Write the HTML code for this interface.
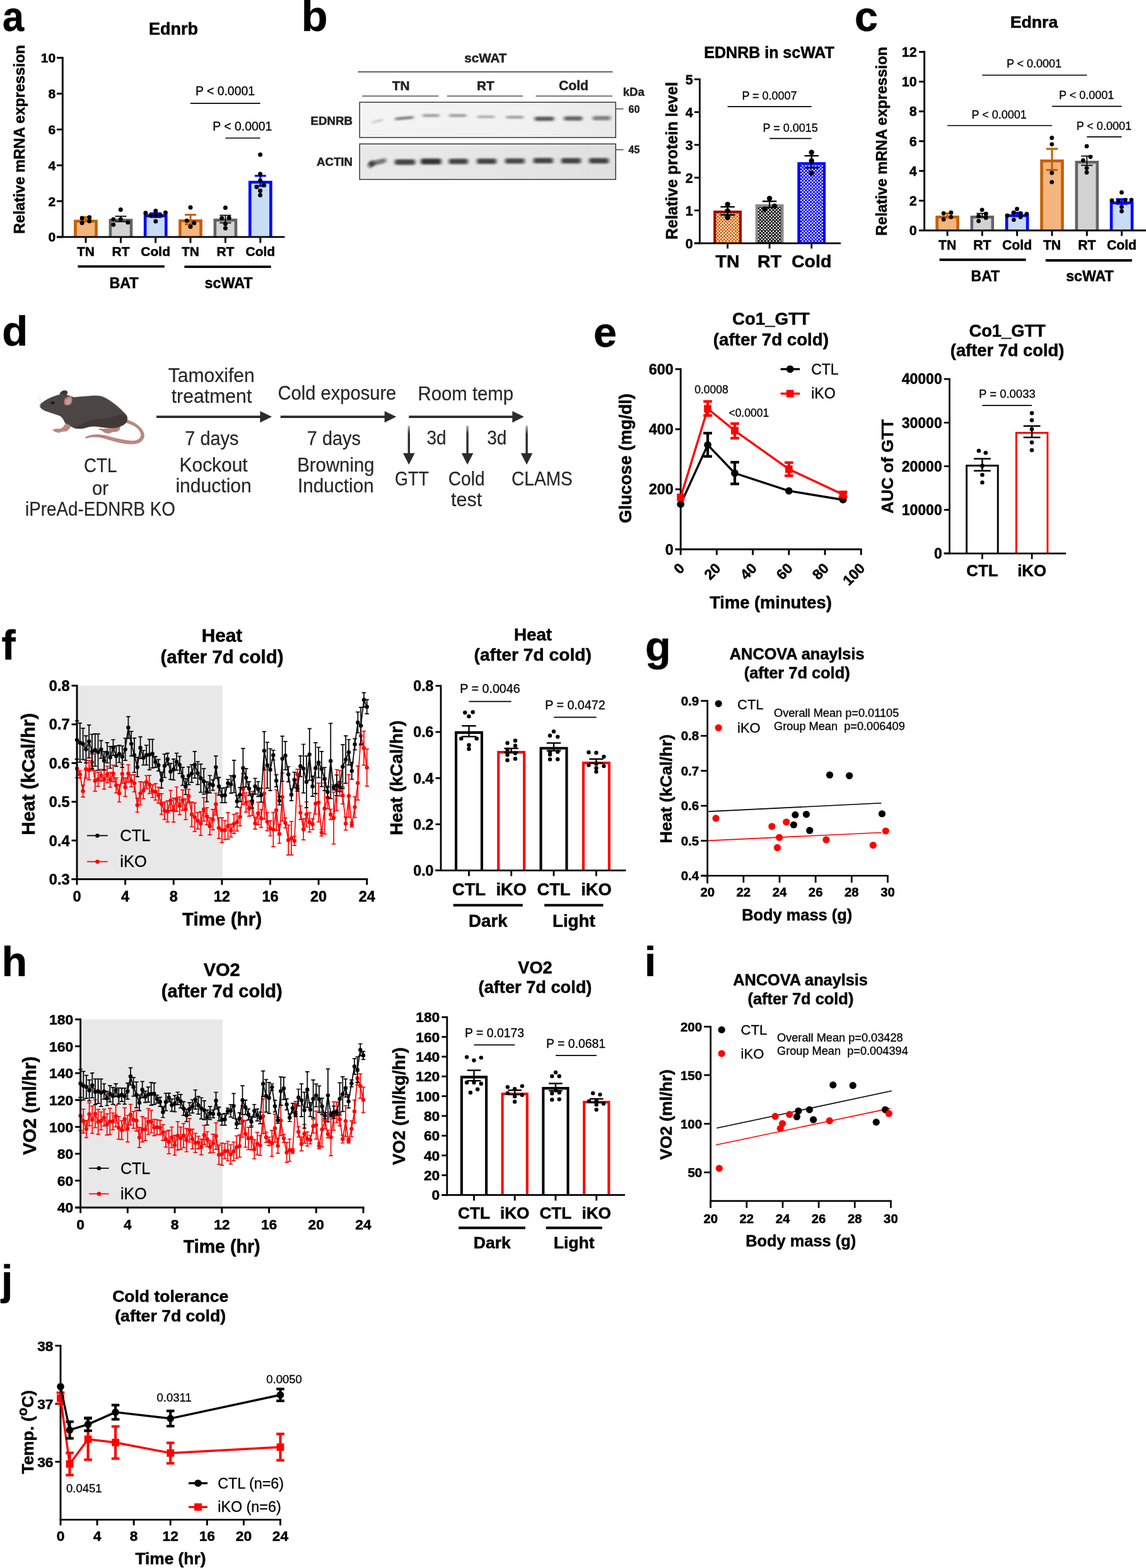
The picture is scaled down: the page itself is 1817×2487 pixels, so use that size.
<!DOCTYPE html>
<html lang="en"><head><meta charset="utf-8"><title>Figure</title>
<style>html,body{margin:0;padding:0;background:#fff}body{width:1817px;height:2487px;overflow:hidden}svg{display:block}text{font-family:"Liberation Sans",sans-serif;stroke:#000;stroke-width:.3px}text.b{font-weight:bold;stroke-width:.5px}text.g{fill:#222;stroke:#222}text.d{fill:#262626;stroke:#262626;stroke-width:.2px}</style></head>
<body>
<svg width="1817" height="2487" viewBox="0 0 1817 2487">
<defs>
<filter id="bl" x="-30%" y="-150%" width="160%" height="400%"><feGaussianBlur stdDeviation="2.4 1.4"/></filter>
<filter id="bl2" x="-30%" y="-150%" width="160%" height="400%"><feGaussianBlur stdDeviation="2.4 1.6"/></filter>
<filter id="sm"><feGaussianBlur stdDeviation="0.5"/></filter>
<linearGradient id="bg1" x1="0" y1="0" x2="1" y2="0"><stop offset="0" stop-color="#f4f4f4"/><stop offset="0.7" stop-color="#f1f1f1"/><stop offset="1" stop-color="#e9e9e9"/></linearGradient>
<linearGradient id="bg2" x1="0" y1="0" x2="1" y2="0"><stop offset="0" stop-color="#e9e9e9"/><stop offset="0.5" stop-color="#e6e6e6"/><stop offset="1" stop-color="#e0e0e0"/></linearGradient>
<clipPath id="c1"><rect x="570.5" y="162.5" width="406" height="55.5"/></clipPath>
<clipPath id="c2"><rect x="570.5" y="228.5" width="406" height="56"/></clipPath>
<linearGradient id="vg" x1="0" y1="0" x2="0" y2="1"><stop offset="0" stop-color="#2b2b2b" stop-opacity="0.35"/><stop offset="0.3" stop-color="#2b2b2b"/></linearGradient>
</defs>
<!-- panel a -->
<text transform="translate(3.9 48.8) scale(0.92 1)" font-size="66.5" class="b">a</text>
<text x="275" y="54.5" font-size="27" class="b" text-anchor="middle">Ednrb</text>
<text transform="translate(38.7 221) rotate(-90)" font-size="23.6" class="b" text-anchor="middle">Relative mRNA expression</text>
<path d="M119.45 375.9V350.7H152.55V375.9" fill="#F3B57D" stroke="#C46000" stroke-width="4.6"/>
<path d="M174.95 375.9V349.3H208.05V375.9" fill="#D2D2D2" stroke="#646464" stroke-width="4.6"/>
<path d="M230.15 375.9V342.4H263.25V375.9" fill="#C8DCF5" stroke="#0404FC" stroke-width="4.6"/>
<path d="M285.45 375.9V350.2H318.55V375.9" fill="#F3B57D" stroke="#C46000" stroke-width="4.6"/>
<path d="M340.85 375.9V349.1H373.95V375.9" fill="#D2D2D2" stroke="#646464" stroke-width="4.6"/>
<path d="M396.25 375.9V289H429.35V375.9" fill="#C8DCF5" stroke="#0404FC" stroke-width="4.6"/>
<line x1="136" y1="344.4" x2="136" y2="348.8" stroke="#C46000" stroke-width="3.1"/>
<line x1="127" y1="344.4" x2="145" y2="344.4" stroke="#C46000" stroke-width="3.1"/>
<line x1="127" y1="348.8" x2="145" y2="348.8" stroke="#C46000" stroke-width="3.1"/>
<line x1="191.5" y1="343" x2="191.5" y2="351.6" stroke="#000" stroke-width="1.7"/>
<line x1="182.5" y1="343" x2="200.5" y2="343" stroke="#000" stroke-width="1.7"/>
<line x1="182.5" y1="351.6" x2="200.5" y2="351.6" stroke="#000" stroke-width="1.7"/>
<line x1="246.7" y1="338.3" x2="246.7" y2="344.3" stroke="#0404FC" stroke-width="3.1"/>
<line x1="237.7" y1="338.3" x2="255.7" y2="338.3" stroke="#0404FC" stroke-width="3.1"/>
<line x1="237.7" y1="344.3" x2="255.7" y2="344.3" stroke="#0404FC" stroke-width="3.1"/>
<line x1="302" y1="340.7" x2="302" y2="355.7" stroke="#C46000" stroke-width="3.1"/>
<line x1="293" y1="340.7" x2="311" y2="340.7" stroke="#C46000" stroke-width="3.1"/>
<line x1="293" y1="355.7" x2="311" y2="355.7" stroke="#C46000" stroke-width="3.1"/>
<line x1="357.4" y1="341.5" x2="357.4" y2="353.5" stroke="#000" stroke-width="1.7"/>
<line x1="348.4" y1="341.5" x2="366.4" y2="341.5" stroke="#000" stroke-width="1.7"/>
<line x1="348.4" y1="353.5" x2="366.4" y2="353.5" stroke="#000" stroke-width="1.7"/>
<line x1="412.8" y1="278.9" x2="412.8" y2="294.9" stroke="#0404FC" stroke-width="3.1"/>
<line x1="403.8" y1="278.9" x2="421.8" y2="278.9" stroke="#0404FC" stroke-width="3.1"/>
<line x1="403.8" y1="294.9" x2="421.8" y2="294.9" stroke="#0404FC" stroke-width="3.1"/>
<line x1="99.3" y1="90.25" x2="99.3" y2="377.35" stroke="#000" stroke-width="2.9"/>
<line x1="90" y1="375.9" x2="99.3" y2="375.9" stroke="#000" stroke-width="2.9"/>
<text x="88.2" y="383.42" font-size="21" class="b" text-anchor="end">0</text>
<line x1="90" y1="319.06" x2="99.3" y2="319.06" stroke="#000" stroke-width="2.9"/>
<text x="88.2" y="326.58" font-size="21" class="b" text-anchor="end">2</text>
<line x1="90" y1="262.22" x2="99.3" y2="262.22" stroke="#000" stroke-width="2.9"/>
<text x="88.2" y="269.74" font-size="21" class="b" text-anchor="end">4</text>
<line x1="90" y1="205.38" x2="99.3" y2="205.38" stroke="#000" stroke-width="2.9"/>
<text x="88.2" y="212.9" font-size="21" class="b" text-anchor="end">6</text>
<line x1="90" y1="148.54" x2="99.3" y2="148.54" stroke="#000" stroke-width="2.9"/>
<text x="88.2" y="156.06" font-size="21" class="b" text-anchor="end">8</text>
<line x1="90" y1="91.7" x2="99.3" y2="91.7" stroke="#000" stroke-width="2.9"/>
<text x="88.2" y="99.22" font-size="21" class="b" text-anchor="end">10</text>
<line x1="89.8" y1="375.9" x2="451.5" y2="375.9" stroke="#000" stroke-width="2.9"/>
<line x1="136" y1="375.9" x2="136" y2="385.4" stroke="#000" stroke-width="2.9"/>
<text x="136" y="406.3" font-size="21" class="b" text-anchor="middle">TN</text>
<line x1="191.5" y1="375.9" x2="191.5" y2="385.4" stroke="#000" stroke-width="2.9"/>
<text x="191.5" y="406.3" font-size="21" class="b" text-anchor="middle">RT</text>
<line x1="246.7" y1="375.9" x2="246.7" y2="385.4" stroke="#000" stroke-width="2.9"/>
<text x="246.7" y="406.3" font-size="21" class="b" text-anchor="middle">Cold</text>
<line x1="302" y1="375.9" x2="302" y2="385.4" stroke="#000" stroke-width="2.9"/>
<text x="302" y="406.3" font-size="21" class="b" text-anchor="middle">TN</text>
<line x1="357.4" y1="375.9" x2="357.4" y2="385.4" stroke="#000" stroke-width="2.9"/>
<text x="357.4" y="406.3" font-size="21" class="b" text-anchor="middle">RT</text>
<line x1="412.8" y1="375.9" x2="412.8" y2="385.4" stroke="#000" stroke-width="2.9"/>
<text x="412.8" y="406.3" font-size="21" class="b" text-anchor="middle">Cold</text>
<circle cx="130.1" cy="346.1" r="3.5"/>
<circle cx="141.7" cy="344.7" r="3.5"/>
<circle cx="130.1" cy="353.4" r="3.5"/>
<circle cx="141.7" cy="350.7" r="3.5"/>
<circle cx="191.3" cy="332.5" r="3.5"/>
<circle cx="179.8" cy="348.1" r="3.5"/>
<circle cx="191.3" cy="347.7" r="3.5"/>
<circle cx="202.8" cy="352.7" r="3.5"/>
<circle cx="179.8" cy="356.2" r="3.5"/>
<circle cx="230.9" cy="337.8" r="3.5"/>
<circle cx="238.7" cy="341.2" r="3.5"/>
<circle cx="246.8" cy="334.6" r="3.5"/>
<circle cx="254.6" cy="341.2" r="3.5"/>
<circle cx="262.4" cy="337.3" r="3.5"/>
<circle cx="246.8" cy="341.5" r="3.5"/>
<circle cx="246.8" cy="351.1" r="3.5"/>
<circle cx="302" cy="329" r="3.5"/>
<circle cx="296.2" cy="350" r="3.5"/>
<circle cx="307.7" cy="353.4" r="3.5"/>
<circle cx="302" cy="359.6" r="3.5"/>
<circle cx="357.4" cy="329.5" r="3.5"/>
<circle cx="351.7" cy="346.1" r="3.5"/>
<circle cx="363.2" cy="345.6" r="3.5"/>
<circle cx="357.4" cy="355" r="3.5"/>
<circle cx="357.4" cy="361.9" r="3.5"/>
<circle cx="412.6" cy="245.3" r="3.5"/>
<circle cx="412.6" cy="276.1" r="3.5"/>
<circle cx="412.6" cy="286.5" r="3.5"/>
<circle cx="406.9" cy="296.6" r="3.5"/>
<circle cx="418.4" cy="293.8" r="3.5"/>
<circle cx="412.6" cy="302.6" r="3.5"/>
<circle cx="412.6" cy="309.5" r="3.5"/>
<line x1="123.5" y1="422.6" x2="260.8" y2="422.6" stroke="#000" stroke-width="3.8"/>
<line x1="292.4" y1="423.2" x2="429.7" y2="423.2" stroke="#000" stroke-width="3.8"/>
<text x="196.5" y="456.5" font-size="23.3" class="b" text-anchor="middle">BAT</text>
<text x="362.5" y="456.5" font-size="23.3" class="b" text-anchor="middle">scWAT</text>
<text x="357" y="151.3" font-size="19.4" text-anchor="middle">P &lt; 0.0001</text>
<line x1="301.8" y1="163.8" x2="412.6" y2="163.8" stroke="#000" stroke-width="1.7"/>
<text x="384.3" y="206.5" font-size="19.4" text-anchor="middle">P &lt; 0.0001</text>
<line x1="357.4" y1="219" x2="412.6" y2="219" stroke="#000" stroke-width="1.7"/>
<!-- panel b -->
<text transform="translate(477.7 48.8) scale(1 1)" font-size="68.5" class="b">b</text>
<text x="769.8" y="98.8" font-size="20.6" class="b g" text-anchor="middle">scWAT</text>
<line x1="567.5" y1="114" x2="971.5" y2="114" stroke="#333" stroke-width="1.4"/>
<text x="635.6" y="142.9" font-size="20.8" class="b g" text-anchor="middle">TN</text>
<text x="769.8" y="142.9" font-size="20.8" class="b g" text-anchor="middle">RT</text>
<text x="909.5" y="142.9" font-size="21.2" class="b g" text-anchor="middle">Cold</text>
<line x1="574.2" y1="152.4" x2="695.3" y2="152.4" stroke="#333" stroke-width="1.4"/>
<line x1="708.8" y1="152.4" x2="829.2" y2="152.4" stroke="#333" stroke-width="1.4"/>
<line x1="849.5" y1="152.4" x2="970.8" y2="152.4" stroke="#333" stroke-width="1.4"/>
<text x="1004.8" y="152.4" font-size="18.5" class="b g" text-anchor="middle">kDa</text>
<text x="559" y="197.8" font-size="18.7" class="b g" text-anchor="end">EDNRB</text>
<text x="559" y="262.5" font-size="18.7" class="b g" text-anchor="end">ACTIN</text>
<rect x="570.2" y="162.2" width="406" height="56" fill="url(#bg1)"/>
<rect x="570.2" y="228.3" width="406" height="56.3" fill="url(#bg2)"/>
<g clip-path="url(#c1)">
<rect x="589.79" y="190.58" width="17.71" height="2.9" rx="0.97" fill="#111" opacity="0.22" filter="url(#bl)" transform="rotate(-14 598.64 192.03)"/>
<rect x="626.53" y="185.19" width="28.98" height="4.19" rx="1.4" fill="#111" opacity="0.55" filter="url(#bl)" transform="rotate(-5 641.02 187.29)"/>
<rect x="670.19" y="181.13" width="26.41" height="4.19" rx="1.4" fill="#111" opacity="0.42" filter="url(#bl)"/>
<rect x="712.08" y="181.29" width="27.37" height="3.86" rx="1.29" fill="#111" opacity="0.42" filter="url(#bl)"/>
<rect x="756.82" y="183.48" width="27.37" height="3.54" rx="1.18" fill="#111" opacity="0.36" filter="url(#bl)"/>
<rect x="802.58" y="184" width="27.37" height="3.86" rx="1.29" fill="#111" opacity="0.42" filter="url(#bl)"/>
<rect x="847.75" y="184.92" width="30.59" height="6.76" rx="2.25" fill="#111" opacity="0.66" filter="url(#bl)"/>
<rect x="894.32" y="184.58" width="28.98" height="6.76" rx="2.25" fill="#111" opacity="0.62" filter="url(#bl)"/>
<rect x="939.73" y="183.91" width="28.34" height="6.76" rx="2.25" fill="#111" opacity="0.48" filter="url(#bl)"/>
</g>
<g clip-path="url(#c2)">
<rect x="586.17" y="253.2" width="26.31" height="7.83" rx="2.61" fill="#111" opacity="0.51" filter="url(#bl2)" transform="rotate(-14 599.32 257.12)"/>
<rect x="625.92" y="252.67" width="32.22" height="8.9" rx="2.97" fill="#111" opacity="0.74" filter="url(#bl2)"/>
<rect x="667.28" y="251.47" width="32.22" height="9.25" rx="3.08" fill="#111" opacity="0.82" filter="url(#bl2)"/>
<rect x="711.65" y="251.83" width="30.25" height="8.54" rx="2.85" fill="#111" opacity="0.74" filter="url(#bl2)"/>
<rect x="756.07" y="251.49" width="30.91" height="8.54" rx="2.85" fill="#111" opacity="0.74" filter="url(#bl2)"/>
<rect x="800.82" y="251.33" width="30.91" height="8.19" rx="2.73" fill="#111" opacity="0.73" filter="url(#bl2)"/>
<rect x="845.9" y="250.47" width="30.91" height="8.54" rx="2.85" fill="#111" opacity="0.74" filter="url(#bl2)"/>
<rect x="889.97" y="250.81" width="30.91" height="8.54" rx="2.85" fill="#111" opacity="0.74" filter="url(#bl2)"/>
<rect x="934.04" y="250.81" width="30.91" height="8.54" rx="2.85" fill="#111" opacity="0.74" filter="url(#bl2)"/>
<rect x="583.39" y="255.76" width="10.17" height="9.49" rx="3.16" fill="#111" opacity="0.6" filter="url(#bl2)" transform="rotate(-45 588.47 260.51)"/>
</g>
<rect x="570.2" y="162.2" width="406" height="56" fill="none" stroke="#2a2a2a" stroke-width="1.4"/>
<rect x="570.2" y="228.3" width="406" height="56.3" fill="none" stroke="#2a2a2a" stroke-width="1.4"/>
<line x1="976.2" y1="172.7" x2="988.5" y2="172.7" stroke="#333" stroke-width="1.3"/>
<line x1="976.2" y1="237.5" x2="988.5" y2="237.5" stroke="#333" stroke-width="1.3"/>
<text x="1005.5" y="178.5" font-size="16" class="b g" text-anchor="middle">60</text>
<text x="1005.5" y="243.2" font-size="16" class="b g" text-anchor="middle">45</text>
<text x="1219.6" y="92" font-size="25" class="b" text-anchor="middle">EDNRB in scWAT</text>
<text transform="translate(1074 255) rotate(-90)" font-size="25" class="b" text-anchor="middle">Relative protein level</text>
<path d="M1133.25 385.8V336.15H1173.95V385.8" fill="#D46400" stroke="#A00000" stroke-width="4.1"/>
<path d="M1135.3 338.2h1.24v1.23h-1.24zM1139.46 338.2h2.25v1.23h-2.25zM1144.64 338.2h2.25v1.23h-2.25zM1149.83 338.2h2.25v1.23h-2.25zM1155.01 338.2h2.25v1.23h-2.25zM1160.18 338.2h2.25v1.23h-2.25zM1165.37 338.2h2.25v1.23h-2.25zM1170.55 338.2h1.36v1.23h-1.36zM1136.88 339.77h2.25v2.25h-2.25zM1142.06 339.77h2.25v2.25h-2.25zM1147.23 339.77h2.25v2.25h-2.25zM1152.41 339.77h2.25v2.25h-2.25zM1157.6 339.77h2.25v2.25h-2.25zM1162.78 339.77h2.25v2.25h-2.25zM1167.95 339.77h2.25v2.25h-2.25zM1135.3 342.36h1.24v2.25h-1.24zM1139.46 342.36h2.25v2.25h-2.25zM1144.64 342.36h2.25v2.25h-2.25zM1149.83 342.36h2.25v2.25h-2.25zM1155.01 342.36h2.25v2.25h-2.25zM1160.18 342.36h2.25v2.25h-2.25zM1165.37 342.36h2.25v2.25h-2.25zM1170.55 342.36h1.36v2.25h-1.36zM1136.88 344.95h2.25v2.25h-2.25zM1142.06 344.95h2.25v2.25h-2.25zM1147.23 344.95h2.25v2.25h-2.25zM1152.41 344.95h2.25v2.25h-2.25zM1157.6 344.95h2.25v2.25h-2.25zM1162.78 344.95h2.25v2.25h-2.25zM1167.95 344.95h2.25v2.25h-2.25zM1135.3 347.54h1.24v2.25h-1.24zM1139.46 347.54h2.25v2.25h-2.25zM1144.64 347.54h2.25v2.25h-2.25zM1149.83 347.54h2.25v2.25h-2.25zM1155.01 347.54h2.25v2.25h-2.25zM1160.18 347.54h2.25v2.25h-2.25zM1165.37 347.54h2.25v2.25h-2.25zM1170.55 347.54h1.36v2.25h-1.36zM1136.88 350.13h2.25v2.25h-2.25zM1142.06 350.13h2.25v2.25h-2.25zM1147.23 350.13h2.25v2.25h-2.25zM1152.41 350.13h2.25v2.25h-2.25zM1157.6 350.13h2.25v2.25h-2.25zM1162.78 350.13h2.25v2.25h-2.25zM1167.95 350.13h2.25v2.25h-2.25zM1135.3 352.72h1.24v2.25h-1.24zM1139.46 352.72h2.25v2.25h-2.25zM1144.64 352.72h2.25v2.25h-2.25zM1149.83 352.72h2.25v2.25h-2.25zM1155.01 352.72h2.25v2.25h-2.25zM1160.18 352.72h2.25v2.25h-2.25zM1165.37 352.72h2.25v2.25h-2.25zM1170.55 352.72h1.36v2.25h-1.36zM1136.88 355.31h2.25v2.25h-2.25zM1142.06 355.31h2.25v2.25h-2.25zM1147.23 355.31h2.25v2.25h-2.25zM1152.41 355.31h2.25v2.25h-2.25zM1157.6 355.31h2.25v2.25h-2.25zM1162.78 355.31h2.25v2.25h-2.25zM1167.95 355.31h2.25v2.25h-2.25zM1135.3 357.9h1.24v2.25h-1.24zM1139.46 357.9h2.25v2.25h-2.25zM1144.64 357.9h2.25v2.25h-2.25zM1149.83 357.9h2.25v2.25h-2.25zM1155.01 357.9h2.25v2.25h-2.25zM1160.18 357.9h2.25v2.25h-2.25zM1165.37 357.9h2.25v2.25h-2.25zM1170.55 357.9h1.36v2.25h-1.36zM1136.88 360.5h2.25v2.25h-2.25zM1142.06 360.5h2.25v2.25h-2.25zM1147.23 360.5h2.25v2.25h-2.25zM1152.41 360.5h2.25v2.25h-2.25zM1157.6 360.5h2.25v2.25h-2.25zM1162.78 360.5h2.25v2.25h-2.25zM1167.95 360.5h2.25v2.25h-2.25zM1135.3 363.08h1.24v2.25h-1.24zM1139.46 363.08h2.25v2.25h-2.25zM1144.64 363.08h2.25v2.25h-2.25zM1149.83 363.08h2.25v2.25h-2.25zM1155.01 363.08h2.25v2.25h-2.25zM1160.18 363.08h2.25v2.25h-2.25zM1165.37 363.08h2.25v2.25h-2.25zM1170.55 363.08h1.36v2.25h-1.36zM1136.88 365.67h2.25v2.25h-2.25zM1142.06 365.67h2.25v2.25h-2.25zM1147.23 365.67h2.25v2.25h-2.25zM1152.41 365.67h2.25v2.25h-2.25zM1157.6 365.67h2.25v2.25h-2.25zM1162.78 365.67h2.25v2.25h-2.25zM1167.95 365.67h2.25v2.25h-2.25zM1135.3 368.26h1.24v2.25h-1.24zM1139.46 368.26h2.25v2.25h-2.25zM1144.64 368.26h2.25v2.25h-2.25zM1149.83 368.26h2.25v2.25h-2.25zM1155.01 368.26h2.25v2.25h-2.25zM1160.18 368.26h2.25v2.25h-2.25zM1165.37 368.26h2.25v2.25h-2.25zM1170.55 368.26h1.36v2.25h-1.36zM1136.88 370.85h2.25v2.25h-2.25zM1142.06 370.85h2.25v2.25h-2.25zM1147.23 370.85h2.25v2.25h-2.25zM1152.41 370.85h2.25v2.25h-2.25zM1157.6 370.85h2.25v2.25h-2.25zM1162.78 370.85h2.25v2.25h-2.25zM1167.95 370.85h2.25v2.25h-2.25zM1135.3 373.44h1.24v2.25h-1.24zM1139.46 373.44h2.25v2.25h-2.25zM1144.64 373.44h2.25v2.25h-2.25zM1149.83 373.44h2.25v2.25h-2.25zM1155.01 373.44h2.25v2.25h-2.25zM1160.18 373.44h2.25v2.25h-2.25zM1165.37 373.44h2.25v2.25h-2.25zM1170.55 373.44h1.36v2.25h-1.36zM1136.88 376.03h2.25v2.25h-2.25zM1142.06 376.03h2.25v2.25h-2.25zM1147.23 376.03h2.25v2.25h-2.25zM1152.41 376.03h2.25v2.25h-2.25zM1157.6 376.03h2.25v2.25h-2.25zM1162.78 376.03h2.25v2.25h-2.25zM1167.95 376.03h2.25v2.25h-2.25zM1135.3 378.62h1.24v2.25h-1.24zM1139.46 378.62h2.25v2.25h-2.25zM1144.64 378.62h2.25v2.25h-2.25zM1149.83 378.62h2.25v2.25h-2.25zM1155.01 378.62h2.25v2.25h-2.25zM1160.18 378.62h2.25v2.25h-2.25zM1165.37 378.62h2.25v2.25h-2.25zM1170.55 378.62h1.36v2.25h-1.36zM1136.88 381.21h2.25v2.25h-2.25zM1142.06 381.21h2.25v2.25h-2.25zM1147.23 381.21h2.25v2.25h-2.25zM1152.41 381.21h2.25v2.25h-2.25zM1157.6 381.21h2.25v2.25h-2.25zM1162.78 381.21h2.25v2.25h-2.25zM1167.95 381.21h2.25v2.25h-2.25zM1135.3 383.8h1.24v0.8h-1.24zM1139.46 383.8h2.25v0.8h-2.25zM1144.64 383.8h2.25v0.8h-2.25zM1149.83 383.8h2.25v0.8h-2.25zM1155.01 383.8h2.25v0.8h-2.25zM1160.18 383.8h2.25v0.8h-2.25zM1165.37 383.8h2.25v0.8h-2.25zM1170.55 383.8h1.36v0.8h-1.36z" fill="#fff"/>
<path d="M1199.75 385.8V326.15H1240.45V385.8" fill="#000" stroke="#8C8C8C" stroke-width="4.1"/>
<path d="M1201.8 328.2h2.08v0.87h-2.08zM1206.81 328.2h2.25v0.87h-2.25zM1211.98 328.2h2.25v0.87h-2.25zM1217.16 328.2h2.25v0.87h-2.25zM1222.35 328.2h2.25v0.87h-2.25zM1227.53 328.2h2.25v0.87h-2.25zM1232.7 328.2h2.25v0.87h-2.25zM1237.88 328.2h0.52v0.87h-0.52zM1204.21 329.41h2.25v2.25h-2.25zM1209.39 329.41h2.25v2.25h-2.25zM1214.58 329.41h2.25v2.25h-2.25zM1219.76 329.41h2.25v2.25h-2.25zM1224.93 329.41h2.25v2.25h-2.25zM1230.12 329.41h2.25v2.25h-2.25zM1235.3 329.41h2.25v2.25h-2.25zM1201.8 332h2.08v2.25h-2.08zM1206.81 332h2.25v2.25h-2.25zM1211.98 332h2.25v2.25h-2.25zM1217.16 332h2.25v2.25h-2.25zM1222.35 332h2.25v2.25h-2.25zM1227.53 332h2.25v2.25h-2.25zM1232.7 332h2.25v2.25h-2.25zM1237.88 332h0.52v2.25h-0.52zM1204.21 334.59h2.25v2.25h-2.25zM1209.39 334.59h2.25v2.25h-2.25zM1214.58 334.59h2.25v2.25h-2.25zM1219.76 334.59h2.25v2.25h-2.25zM1224.93 334.59h2.25v2.25h-2.25zM1230.12 334.59h2.25v2.25h-2.25zM1235.3 334.59h2.25v2.25h-2.25zM1201.8 337.19h2.08v2.25h-2.08zM1206.81 337.19h2.25v2.25h-2.25zM1211.98 337.19h2.25v2.25h-2.25zM1217.16 337.19h2.25v2.25h-2.25zM1222.35 337.19h2.25v2.25h-2.25zM1227.53 337.19h2.25v2.25h-2.25zM1232.7 337.19h2.25v2.25h-2.25zM1237.88 337.19h0.52v2.25h-0.52zM1204.21 339.77h2.25v2.25h-2.25zM1209.39 339.77h2.25v2.25h-2.25zM1214.58 339.77h2.25v2.25h-2.25zM1219.76 339.77h2.25v2.25h-2.25zM1224.93 339.77h2.25v2.25h-2.25zM1230.12 339.77h2.25v2.25h-2.25zM1235.3 339.77h2.25v2.25h-2.25zM1201.8 342.36h2.08v2.25h-2.08zM1206.81 342.36h2.25v2.25h-2.25zM1211.98 342.36h2.25v2.25h-2.25zM1217.16 342.36h2.25v2.25h-2.25zM1222.35 342.36h2.25v2.25h-2.25zM1227.53 342.36h2.25v2.25h-2.25zM1232.7 342.36h2.25v2.25h-2.25zM1237.88 342.36h0.52v2.25h-0.52zM1204.21 344.95h2.25v2.25h-2.25zM1209.39 344.95h2.25v2.25h-2.25zM1214.58 344.95h2.25v2.25h-2.25zM1219.76 344.95h2.25v2.25h-2.25zM1224.93 344.95h2.25v2.25h-2.25zM1230.12 344.95h2.25v2.25h-2.25zM1235.3 344.95h2.25v2.25h-2.25zM1201.8 347.54h2.08v2.25h-2.08zM1206.81 347.54h2.25v2.25h-2.25zM1211.98 347.54h2.25v2.25h-2.25zM1217.16 347.54h2.25v2.25h-2.25zM1222.35 347.54h2.25v2.25h-2.25zM1227.53 347.54h2.25v2.25h-2.25zM1232.7 347.54h2.25v2.25h-2.25zM1237.88 347.54h0.52v2.25h-0.52zM1204.21 350.13h2.25v2.25h-2.25zM1209.39 350.13h2.25v2.25h-2.25zM1214.58 350.13h2.25v2.25h-2.25zM1219.76 350.13h2.25v2.25h-2.25zM1224.93 350.13h2.25v2.25h-2.25zM1230.12 350.13h2.25v2.25h-2.25zM1235.3 350.13h2.25v2.25h-2.25zM1201.8 352.72h2.08v2.25h-2.08zM1206.81 352.72h2.25v2.25h-2.25zM1211.98 352.72h2.25v2.25h-2.25zM1217.16 352.72h2.25v2.25h-2.25zM1222.35 352.72h2.25v2.25h-2.25zM1227.53 352.72h2.25v2.25h-2.25zM1232.7 352.72h2.25v2.25h-2.25zM1237.88 352.72h0.52v2.25h-0.52zM1204.21 355.31h2.25v2.25h-2.25zM1209.39 355.31h2.25v2.25h-2.25zM1214.58 355.31h2.25v2.25h-2.25zM1219.76 355.31h2.25v2.25h-2.25zM1224.93 355.31h2.25v2.25h-2.25zM1230.12 355.31h2.25v2.25h-2.25zM1235.3 355.31h2.25v2.25h-2.25zM1201.8 357.9h2.08v2.25h-2.08zM1206.81 357.9h2.25v2.25h-2.25zM1211.98 357.9h2.25v2.25h-2.25zM1217.16 357.9h2.25v2.25h-2.25zM1222.35 357.9h2.25v2.25h-2.25zM1227.53 357.9h2.25v2.25h-2.25zM1232.7 357.9h2.25v2.25h-2.25zM1237.88 357.9h0.52v2.25h-0.52zM1204.21 360.5h2.25v2.25h-2.25zM1209.39 360.5h2.25v2.25h-2.25zM1214.58 360.5h2.25v2.25h-2.25zM1219.76 360.5h2.25v2.25h-2.25zM1224.93 360.5h2.25v2.25h-2.25zM1230.12 360.5h2.25v2.25h-2.25zM1235.3 360.5h2.25v2.25h-2.25zM1201.8 363.08h2.08v2.25h-2.08zM1206.81 363.08h2.25v2.25h-2.25zM1211.98 363.08h2.25v2.25h-2.25zM1217.16 363.08h2.25v2.25h-2.25zM1222.35 363.08h2.25v2.25h-2.25zM1227.53 363.08h2.25v2.25h-2.25zM1232.7 363.08h2.25v2.25h-2.25zM1237.88 363.08h0.52v2.25h-0.52zM1204.21 365.67h2.25v2.25h-2.25zM1209.39 365.67h2.25v2.25h-2.25zM1214.58 365.67h2.25v2.25h-2.25zM1219.76 365.67h2.25v2.25h-2.25zM1224.93 365.67h2.25v2.25h-2.25zM1230.12 365.67h2.25v2.25h-2.25zM1235.3 365.67h2.25v2.25h-2.25zM1201.8 368.26h2.08v2.25h-2.08zM1206.81 368.26h2.25v2.25h-2.25zM1211.98 368.26h2.25v2.25h-2.25zM1217.16 368.26h2.25v2.25h-2.25zM1222.35 368.26h2.25v2.25h-2.25zM1227.53 368.26h2.25v2.25h-2.25zM1232.7 368.26h2.25v2.25h-2.25zM1237.88 368.26h0.52v2.25h-0.52zM1204.21 370.85h2.25v2.25h-2.25zM1209.39 370.85h2.25v2.25h-2.25zM1214.58 370.85h2.25v2.25h-2.25zM1219.76 370.85h2.25v2.25h-2.25zM1224.93 370.85h2.25v2.25h-2.25zM1230.12 370.85h2.25v2.25h-2.25zM1235.3 370.85h2.25v2.25h-2.25zM1201.8 373.44h2.08v2.25h-2.08zM1206.81 373.44h2.25v2.25h-2.25zM1211.98 373.44h2.25v2.25h-2.25zM1217.16 373.44h2.25v2.25h-2.25zM1222.35 373.44h2.25v2.25h-2.25zM1227.53 373.44h2.25v2.25h-2.25zM1232.7 373.44h2.25v2.25h-2.25zM1237.88 373.44h0.52v2.25h-0.52zM1204.21 376.03h2.25v2.25h-2.25zM1209.39 376.03h2.25v2.25h-2.25zM1214.58 376.03h2.25v2.25h-2.25zM1219.76 376.03h2.25v2.25h-2.25zM1224.93 376.03h2.25v2.25h-2.25zM1230.12 376.03h2.25v2.25h-2.25zM1235.3 376.03h2.25v2.25h-2.25zM1201.8 378.62h2.08v2.25h-2.08zM1206.81 378.62h2.25v2.25h-2.25zM1211.98 378.62h2.25v2.25h-2.25zM1217.16 378.62h2.25v2.25h-2.25zM1222.35 378.62h2.25v2.25h-2.25zM1227.53 378.62h2.25v2.25h-2.25zM1232.7 378.62h2.25v2.25h-2.25zM1237.88 378.62h0.52v2.25h-0.52zM1204.21 381.21h2.25v2.25h-2.25zM1209.39 381.21h2.25v2.25h-2.25zM1214.58 381.21h2.25v2.25h-2.25zM1219.76 381.21h2.25v2.25h-2.25zM1224.93 381.21h2.25v2.25h-2.25zM1230.12 381.21h2.25v2.25h-2.25zM1235.3 381.21h2.25v2.25h-2.25zM1201.8 383.8h2.08v0.8h-2.08zM1206.81 383.8h2.25v0.8h-2.25zM1211.98 383.8h2.25v0.8h-2.25zM1217.16 383.8h2.25v0.8h-2.25zM1222.35 383.8h2.25v0.8h-2.25zM1227.53 383.8h2.25v0.8h-2.25zM1232.7 383.8h2.25v0.8h-2.25zM1237.88 383.8h0.52v0.8h-0.52z" fill="#fff"/>
<path d="M1266.35 385.8V259.25H1307.05V385.8" fill="#0000FF" stroke="#0000FF" stroke-width="4.1"/>
<path d="M1268.96 261.3h2.25v0.44h-2.25zM1274.14 261.3h2.25v0.44h-2.25zM1279.33 261.3h2.25v0.44h-2.25zM1284.51 261.3h2.25v0.44h-2.25zM1289.68 261.3h2.25v0.44h-2.25zM1294.87 261.3h2.25v0.44h-2.25zM1300.05 261.3h2.25v0.44h-2.25zM1271.56 262.07h2.25v2.25h-2.25zM1276.73 262.07h2.25v2.25h-2.25zM1281.91 262.07h2.25v2.25h-2.25zM1287.1 262.07h2.25v2.25h-2.25zM1292.28 262.07h2.25v2.25h-2.25zM1297.45 262.07h2.25v2.25h-2.25zM1302.63 262.07h2.25v2.25h-2.25zM1268.96 264.66h2.25v2.25h-2.25zM1274.14 264.66h2.25v2.25h-2.25zM1279.33 264.66h2.25v2.25h-2.25zM1284.51 264.66h2.25v2.25h-2.25zM1289.68 264.66h2.25v2.25h-2.25zM1294.87 264.66h2.25v2.25h-2.25zM1300.05 264.66h2.25v2.25h-2.25zM1271.56 267.25h2.25v2.25h-2.25zM1276.73 267.25h2.25v2.25h-2.25zM1281.91 267.25h2.25v2.25h-2.25zM1287.1 267.25h2.25v2.25h-2.25zM1292.28 267.25h2.25v2.25h-2.25zM1297.45 267.25h2.25v2.25h-2.25zM1302.63 267.25h2.25v2.25h-2.25zM1268.96 269.84h2.25v2.25h-2.25zM1274.14 269.84h2.25v2.25h-2.25zM1279.33 269.84h2.25v2.25h-2.25zM1284.51 269.84h2.25v2.25h-2.25zM1289.68 269.84h2.25v2.25h-2.25zM1294.87 269.84h2.25v2.25h-2.25zM1300.05 269.84h2.25v2.25h-2.25zM1271.56 272.43h2.25v2.25h-2.25zM1276.73 272.43h2.25v2.25h-2.25zM1281.91 272.43h2.25v2.25h-2.25zM1287.1 272.43h2.25v2.25h-2.25zM1292.28 272.43h2.25v2.25h-2.25zM1297.45 272.43h2.25v2.25h-2.25zM1302.63 272.43h2.25v2.25h-2.25zM1268.96 275.02h2.25v2.25h-2.25zM1274.14 275.02h2.25v2.25h-2.25zM1279.33 275.02h2.25v2.25h-2.25zM1284.51 275.02h2.25v2.25h-2.25zM1289.68 275.02h2.25v2.25h-2.25zM1294.87 275.02h2.25v2.25h-2.25zM1300.05 275.02h2.25v2.25h-2.25zM1271.56 277.62h2.25v2.25h-2.25zM1276.73 277.62h2.25v2.25h-2.25zM1281.91 277.62h2.25v2.25h-2.25zM1287.1 277.62h2.25v2.25h-2.25zM1292.28 277.62h2.25v2.25h-2.25zM1297.45 277.62h2.25v2.25h-2.25zM1302.63 277.62h2.25v2.25h-2.25zM1268.96 280.2h2.25v2.25h-2.25zM1274.14 280.2h2.25v2.25h-2.25zM1279.33 280.2h2.25v2.25h-2.25zM1284.51 280.2h2.25v2.25h-2.25zM1289.68 280.2h2.25v2.25h-2.25zM1294.87 280.2h2.25v2.25h-2.25zM1300.05 280.2h2.25v2.25h-2.25zM1271.56 282.79h2.25v2.25h-2.25zM1276.73 282.79h2.25v2.25h-2.25zM1281.91 282.79h2.25v2.25h-2.25zM1287.1 282.79h2.25v2.25h-2.25zM1292.28 282.79h2.25v2.25h-2.25zM1297.45 282.79h2.25v2.25h-2.25zM1302.63 282.79h2.25v2.25h-2.25zM1268.96 285.38h2.25v2.25h-2.25zM1274.14 285.38h2.25v2.25h-2.25zM1279.33 285.38h2.25v2.25h-2.25zM1284.51 285.38h2.25v2.25h-2.25zM1289.68 285.38h2.25v2.25h-2.25zM1294.87 285.38h2.25v2.25h-2.25zM1300.05 285.38h2.25v2.25h-2.25zM1271.56 287.97h2.25v2.25h-2.25zM1276.73 287.97h2.25v2.25h-2.25zM1281.91 287.97h2.25v2.25h-2.25zM1287.1 287.97h2.25v2.25h-2.25zM1292.28 287.97h2.25v2.25h-2.25zM1297.45 287.97h2.25v2.25h-2.25zM1302.63 287.97h2.25v2.25h-2.25zM1268.96 290.56h2.25v2.25h-2.25zM1274.14 290.56h2.25v2.25h-2.25zM1279.33 290.56h2.25v2.25h-2.25zM1284.51 290.56h2.25v2.25h-2.25zM1289.68 290.56h2.25v2.25h-2.25zM1294.87 290.56h2.25v2.25h-2.25zM1300.05 290.56h2.25v2.25h-2.25zM1271.56 293.15h2.25v2.25h-2.25zM1276.73 293.15h2.25v2.25h-2.25zM1281.91 293.15h2.25v2.25h-2.25zM1287.1 293.15h2.25v2.25h-2.25zM1292.28 293.15h2.25v2.25h-2.25zM1297.45 293.15h2.25v2.25h-2.25zM1302.63 293.15h2.25v2.25h-2.25zM1268.96 295.75h2.25v2.25h-2.25zM1274.14 295.75h2.25v2.25h-2.25zM1279.33 295.75h2.25v2.25h-2.25zM1284.51 295.75h2.25v2.25h-2.25zM1289.68 295.75h2.25v2.25h-2.25zM1294.87 295.75h2.25v2.25h-2.25zM1300.05 295.75h2.25v2.25h-2.25zM1271.56 298.33h2.25v2.25h-2.25zM1276.73 298.33h2.25v2.25h-2.25zM1281.91 298.33h2.25v2.25h-2.25zM1287.1 298.33h2.25v2.25h-2.25zM1292.28 298.33h2.25v2.25h-2.25zM1297.45 298.33h2.25v2.25h-2.25zM1302.63 298.33h2.25v2.25h-2.25zM1268.96 300.92h2.25v2.25h-2.25zM1274.14 300.92h2.25v2.25h-2.25zM1279.33 300.92h2.25v2.25h-2.25zM1284.51 300.92h2.25v2.25h-2.25zM1289.68 300.92h2.25v2.25h-2.25zM1294.87 300.92h2.25v2.25h-2.25zM1300.05 300.92h2.25v2.25h-2.25zM1271.56 303.51h2.25v2.25h-2.25zM1276.73 303.51h2.25v2.25h-2.25zM1281.91 303.51h2.25v2.25h-2.25zM1287.1 303.51h2.25v2.25h-2.25zM1292.28 303.51h2.25v2.25h-2.25zM1297.45 303.51h2.25v2.25h-2.25zM1302.63 303.51h2.25v2.25h-2.25zM1268.96 306.1h2.25v2.25h-2.25zM1274.14 306.1h2.25v2.25h-2.25zM1279.33 306.1h2.25v2.25h-2.25zM1284.51 306.1h2.25v2.25h-2.25zM1289.68 306.1h2.25v2.25h-2.25zM1294.87 306.1h2.25v2.25h-2.25zM1300.05 306.1h2.25v2.25h-2.25zM1271.56 308.69h2.25v2.25h-2.25zM1276.73 308.69h2.25v2.25h-2.25zM1281.91 308.69h2.25v2.25h-2.25zM1287.1 308.69h2.25v2.25h-2.25zM1292.28 308.69h2.25v2.25h-2.25zM1297.45 308.69h2.25v2.25h-2.25zM1302.63 308.69h2.25v2.25h-2.25zM1268.96 311.28h2.25v2.25h-2.25zM1274.14 311.28h2.25v2.25h-2.25zM1279.33 311.28h2.25v2.25h-2.25zM1284.51 311.28h2.25v2.25h-2.25zM1289.68 311.28h2.25v2.25h-2.25zM1294.87 311.28h2.25v2.25h-2.25zM1300.05 311.28h2.25v2.25h-2.25zM1271.56 313.88h2.25v2.25h-2.25zM1276.73 313.88h2.25v2.25h-2.25zM1281.91 313.88h2.25v2.25h-2.25zM1287.1 313.88h2.25v2.25h-2.25zM1292.28 313.88h2.25v2.25h-2.25zM1297.45 313.88h2.25v2.25h-2.25zM1302.63 313.88h2.25v2.25h-2.25zM1268.96 316.46h2.25v2.25h-2.25zM1274.14 316.46h2.25v2.25h-2.25zM1279.33 316.46h2.25v2.25h-2.25zM1284.51 316.46h2.25v2.25h-2.25zM1289.68 316.46h2.25v2.25h-2.25zM1294.87 316.46h2.25v2.25h-2.25zM1300.05 316.46h2.25v2.25h-2.25zM1271.56 319.05h2.25v2.25h-2.25zM1276.73 319.05h2.25v2.25h-2.25zM1281.91 319.05h2.25v2.25h-2.25zM1287.1 319.05h2.25v2.25h-2.25zM1292.28 319.05h2.25v2.25h-2.25zM1297.45 319.05h2.25v2.25h-2.25zM1302.63 319.05h2.25v2.25h-2.25zM1268.96 321.64h2.25v2.25h-2.25zM1274.14 321.64h2.25v2.25h-2.25zM1279.33 321.64h2.25v2.25h-2.25zM1284.51 321.64h2.25v2.25h-2.25zM1289.68 321.64h2.25v2.25h-2.25zM1294.87 321.64h2.25v2.25h-2.25zM1300.05 321.64h2.25v2.25h-2.25zM1271.56 324.23h2.25v2.25h-2.25zM1276.73 324.23h2.25v2.25h-2.25zM1281.91 324.23h2.25v2.25h-2.25zM1287.1 324.23h2.25v2.25h-2.25zM1292.28 324.23h2.25v2.25h-2.25zM1297.45 324.23h2.25v2.25h-2.25zM1302.63 324.23h2.25v2.25h-2.25zM1268.96 326.82h2.25v2.25h-2.25zM1274.14 326.82h2.25v2.25h-2.25zM1279.33 326.82h2.25v2.25h-2.25zM1284.51 326.82h2.25v2.25h-2.25zM1289.68 326.82h2.25v2.25h-2.25zM1294.87 326.82h2.25v2.25h-2.25zM1300.05 326.82h2.25v2.25h-2.25zM1271.56 329.41h2.25v2.25h-2.25zM1276.73 329.41h2.25v2.25h-2.25zM1281.91 329.41h2.25v2.25h-2.25zM1287.1 329.41h2.25v2.25h-2.25zM1292.28 329.41h2.25v2.25h-2.25zM1297.45 329.41h2.25v2.25h-2.25zM1302.63 329.41h2.25v2.25h-2.25zM1268.96 332h2.25v2.25h-2.25zM1274.14 332h2.25v2.25h-2.25zM1279.33 332h2.25v2.25h-2.25zM1284.51 332h2.25v2.25h-2.25zM1289.68 332h2.25v2.25h-2.25zM1294.87 332h2.25v2.25h-2.25zM1300.05 332h2.25v2.25h-2.25zM1271.56 334.59h2.25v2.25h-2.25zM1276.73 334.59h2.25v2.25h-2.25zM1281.91 334.59h2.25v2.25h-2.25zM1287.1 334.59h2.25v2.25h-2.25zM1292.28 334.59h2.25v2.25h-2.25zM1297.45 334.59h2.25v2.25h-2.25zM1302.63 334.59h2.25v2.25h-2.25zM1268.96 337.19h2.25v2.25h-2.25zM1274.14 337.19h2.25v2.25h-2.25zM1279.33 337.19h2.25v2.25h-2.25zM1284.51 337.19h2.25v2.25h-2.25zM1289.68 337.19h2.25v2.25h-2.25zM1294.87 337.19h2.25v2.25h-2.25zM1300.05 337.19h2.25v2.25h-2.25zM1271.56 339.77h2.25v2.25h-2.25zM1276.73 339.77h2.25v2.25h-2.25zM1281.91 339.77h2.25v2.25h-2.25zM1287.1 339.77h2.25v2.25h-2.25zM1292.28 339.77h2.25v2.25h-2.25zM1297.45 339.77h2.25v2.25h-2.25zM1302.63 339.77h2.25v2.25h-2.25zM1268.96 342.36h2.25v2.25h-2.25zM1274.14 342.36h2.25v2.25h-2.25zM1279.33 342.36h2.25v2.25h-2.25zM1284.51 342.36h2.25v2.25h-2.25zM1289.68 342.36h2.25v2.25h-2.25zM1294.87 342.36h2.25v2.25h-2.25zM1300.05 342.36h2.25v2.25h-2.25zM1271.56 344.95h2.25v2.25h-2.25zM1276.73 344.95h2.25v2.25h-2.25zM1281.91 344.95h2.25v2.25h-2.25zM1287.1 344.95h2.25v2.25h-2.25zM1292.28 344.95h2.25v2.25h-2.25zM1297.45 344.95h2.25v2.25h-2.25zM1302.63 344.95h2.25v2.25h-2.25zM1268.96 347.54h2.25v2.25h-2.25zM1274.14 347.54h2.25v2.25h-2.25zM1279.33 347.54h2.25v2.25h-2.25zM1284.51 347.54h2.25v2.25h-2.25zM1289.68 347.54h2.25v2.25h-2.25zM1294.87 347.54h2.25v2.25h-2.25zM1300.05 347.54h2.25v2.25h-2.25zM1271.56 350.13h2.25v2.25h-2.25zM1276.73 350.13h2.25v2.25h-2.25zM1281.91 350.13h2.25v2.25h-2.25zM1287.1 350.13h2.25v2.25h-2.25zM1292.28 350.13h2.25v2.25h-2.25zM1297.45 350.13h2.25v2.25h-2.25zM1302.63 350.13h2.25v2.25h-2.25zM1268.96 352.72h2.25v2.25h-2.25zM1274.14 352.72h2.25v2.25h-2.25zM1279.33 352.72h2.25v2.25h-2.25zM1284.51 352.72h2.25v2.25h-2.25zM1289.68 352.72h2.25v2.25h-2.25zM1294.87 352.72h2.25v2.25h-2.25zM1300.05 352.72h2.25v2.25h-2.25zM1271.56 355.31h2.25v2.25h-2.25zM1276.73 355.31h2.25v2.25h-2.25zM1281.91 355.31h2.25v2.25h-2.25zM1287.1 355.31h2.25v2.25h-2.25zM1292.28 355.31h2.25v2.25h-2.25zM1297.45 355.31h2.25v2.25h-2.25zM1302.63 355.31h2.25v2.25h-2.25zM1268.96 357.9h2.25v2.25h-2.25zM1274.14 357.9h2.25v2.25h-2.25zM1279.33 357.9h2.25v2.25h-2.25zM1284.51 357.9h2.25v2.25h-2.25zM1289.68 357.9h2.25v2.25h-2.25zM1294.87 357.9h2.25v2.25h-2.25zM1300.05 357.9h2.25v2.25h-2.25zM1271.56 360.5h2.25v2.25h-2.25zM1276.73 360.5h2.25v2.25h-2.25zM1281.91 360.5h2.25v2.25h-2.25zM1287.1 360.5h2.25v2.25h-2.25zM1292.28 360.5h2.25v2.25h-2.25zM1297.45 360.5h2.25v2.25h-2.25zM1302.63 360.5h2.25v2.25h-2.25zM1268.96 363.08h2.25v2.25h-2.25zM1274.14 363.08h2.25v2.25h-2.25zM1279.33 363.08h2.25v2.25h-2.25zM1284.51 363.08h2.25v2.25h-2.25zM1289.68 363.08h2.25v2.25h-2.25zM1294.87 363.08h2.25v2.25h-2.25zM1300.05 363.08h2.25v2.25h-2.25zM1271.56 365.67h2.25v2.25h-2.25zM1276.73 365.67h2.25v2.25h-2.25zM1281.91 365.67h2.25v2.25h-2.25zM1287.1 365.67h2.25v2.25h-2.25zM1292.28 365.67h2.25v2.25h-2.25zM1297.45 365.67h2.25v2.25h-2.25zM1302.63 365.67h2.25v2.25h-2.25zM1268.96 368.26h2.25v2.25h-2.25zM1274.14 368.26h2.25v2.25h-2.25zM1279.33 368.26h2.25v2.25h-2.25zM1284.51 368.26h2.25v2.25h-2.25zM1289.68 368.26h2.25v2.25h-2.25zM1294.87 368.26h2.25v2.25h-2.25zM1300.05 368.26h2.25v2.25h-2.25zM1271.56 370.85h2.25v2.25h-2.25zM1276.73 370.85h2.25v2.25h-2.25zM1281.91 370.85h2.25v2.25h-2.25zM1287.1 370.85h2.25v2.25h-2.25zM1292.28 370.85h2.25v2.25h-2.25zM1297.45 370.85h2.25v2.25h-2.25zM1302.63 370.85h2.25v2.25h-2.25zM1268.96 373.44h2.25v2.25h-2.25zM1274.14 373.44h2.25v2.25h-2.25zM1279.33 373.44h2.25v2.25h-2.25zM1284.51 373.44h2.25v2.25h-2.25zM1289.68 373.44h2.25v2.25h-2.25zM1294.87 373.44h2.25v2.25h-2.25zM1300.05 373.44h2.25v2.25h-2.25zM1271.56 376.03h2.25v2.25h-2.25zM1276.73 376.03h2.25v2.25h-2.25zM1281.91 376.03h2.25v2.25h-2.25zM1287.1 376.03h2.25v2.25h-2.25zM1292.28 376.03h2.25v2.25h-2.25zM1297.45 376.03h2.25v2.25h-2.25zM1302.63 376.03h2.25v2.25h-2.25zM1268.96 378.62h2.25v2.25h-2.25zM1274.14 378.62h2.25v2.25h-2.25zM1279.33 378.62h2.25v2.25h-2.25zM1284.51 378.62h2.25v2.25h-2.25zM1289.68 378.62h2.25v2.25h-2.25zM1294.87 378.62h2.25v2.25h-2.25zM1300.05 378.62h2.25v2.25h-2.25zM1271.56 381.21h2.25v2.25h-2.25zM1276.73 381.21h2.25v2.25h-2.25zM1281.91 381.21h2.25v2.25h-2.25zM1287.1 381.21h2.25v2.25h-2.25zM1292.28 381.21h2.25v2.25h-2.25zM1297.45 381.21h2.25v2.25h-2.25zM1302.63 381.21h2.25v2.25h-2.25zM1268.96 383.8h2.25v0.8h-2.25zM1274.14 383.8h2.25v0.8h-2.25zM1279.33 383.8h2.25v0.8h-2.25zM1284.51 383.8h2.25v0.8h-2.25zM1289.68 383.8h2.25v0.8h-2.25zM1294.87 383.8h2.25v0.8h-2.25zM1300.05 383.8h2.25v0.8h-2.25z" fill="#fff"/>
<line x1="1153.6" y1="328.1" x2="1153.6" y2="340.8" stroke="#000" stroke-width="2.3"/>
<line x1="1142.35" y1="328.1" x2="1164.85" y2="328.1" stroke="#000" stroke-width="2.3"/>
<line x1="1142.35" y1="340.8" x2="1164.85" y2="340.8" stroke="#000" stroke-width="2.3"/>
<line x1="1220.1" y1="319.3" x2="1220.1" y2="329.1" stroke="#000" stroke-width="2.3"/>
<line x1="1208.85" y1="319.3" x2="1231.35" y2="319.3" stroke="#000" stroke-width="2.3"/>
<line x1="1208.85" y1="329.1" x2="1231.35" y2="329.1" stroke="#000" stroke-width="2.3"/>
<line x1="1286.7" y1="247.1" x2="1286.7" y2="266.3" stroke="#000" stroke-width="2.3"/>
<line x1="1275.45" y1="247.1" x2="1297.95" y2="247.1" stroke="#000" stroke-width="2.3"/>
<line x1="1275.45" y1="266.3" x2="1297.95" y2="266.3" stroke="#000" stroke-width="2.3"/>
<circle cx="1153.6" cy="324.1" r="4.2"/>
<circle cx="1153.6" cy="334.4" r="4.2"/>
<circle cx="1153.6" cy="345" r="4.2"/>
<circle cx="1220.1" cy="314.7" r="4.2"/>
<circle cx="1212.3" cy="331.7" r="4.2"/>
<circle cx="1228" cy="326.9" r="4.2"/>
<circle cx="1286.7" cy="241.8" r="4.2"/>
<circle cx="1286.7" cy="255" r="4.2"/>
<circle cx="1286.7" cy="274.6" r="4.2"/>
<line x1="1109.4" y1="124.4" x2="1109.4" y2="387.2" stroke="#000" stroke-width="2.8"/>
<line x1="1100.9" y1="385.8" x2="1109.4" y2="385.8" stroke="#000" stroke-width="2.8"/>
<text x="1098.7" y="393.5" font-size="21.5" class="b" text-anchor="end">0</text>
<line x1="1100.9" y1="333.8" x2="1109.4" y2="333.8" stroke="#000" stroke-width="2.8"/>
<text x="1098.7" y="341.5" font-size="21.5" class="b" text-anchor="end">1</text>
<line x1="1100.9" y1="281.8" x2="1109.4" y2="281.8" stroke="#000" stroke-width="2.8"/>
<text x="1098.7" y="289.5" font-size="21.5" class="b" text-anchor="end">2</text>
<line x1="1100.9" y1="229.8" x2="1109.4" y2="229.8" stroke="#000" stroke-width="2.8"/>
<text x="1098.7" y="237.5" font-size="21.5" class="b" text-anchor="end">3</text>
<line x1="1100.9" y1="177.8" x2="1109.4" y2="177.8" stroke="#000" stroke-width="2.8"/>
<text x="1098.7" y="185.5" font-size="21.5" class="b" text-anchor="end">4</text>
<line x1="1100.9" y1="125.8" x2="1109.4" y2="125.8" stroke="#000" stroke-width="2.8"/>
<text x="1098.7" y="133.5" font-size="21.5" class="b" text-anchor="end">5</text>
<line x1="1100.9" y1="385.8" x2="1333" y2="385.8" stroke="#000" stroke-width="2.7"/>
<line x1="1153.6" y1="385.8" x2="1153.6" y2="394.3" stroke="#000" stroke-width="2.7"/>
<text x="1153.6" y="423.8" font-size="28.5" class="b" text-anchor="middle">TN</text>
<line x1="1220.1" y1="385.8" x2="1220.1" y2="394.3" stroke="#000" stroke-width="2.7"/>
<text x="1220.1" y="423.8" font-size="28.5" class="b" text-anchor="middle">RT</text>
<line x1="1286.7" y1="385.8" x2="1286.7" y2="394.3" stroke="#000" stroke-width="2.7"/>
<text x="1286.7" y="423.8" font-size="28.5" class="b" text-anchor="middle">Cold</text>
<text x="1220" y="158" font-size="18" text-anchor="middle">P = 0.0007</text>
<line x1="1153.6" y1="169.1" x2="1286.7" y2="169.1" stroke="#000" stroke-width="1.6"/>
<text x="1253.2" y="209" font-size="18" text-anchor="middle">P = 0.0015</text>
<line x1="1220.1" y1="219.6" x2="1286.7" y2="219.6" stroke="#000" stroke-width="1.6"/>
<!-- panel c -->
<text x="1355" y="49" font-size="66.5" class="b">c</text>
<text x="1639.5" y="43.7" font-size="26.7" class="b" text-anchor="middle">Ednra</text>
<text transform="translate(1405.5 224) rotate(-90)" font-size="23.6" class="b" text-anchor="middle">Relative mRNA expression</text>
<path d="M1485.6 365.5V344.2H1518.6V365.5" fill="#F3B57D" stroke="#C46000" stroke-width="4.6"/>
<path d="M1540.8 365.5V344.2H1573.8V365.5" fill="#D2D2D2" stroke="#646464" stroke-width="4.6"/>
<path d="M1596.1 365.5V342H1629.1V365.5" fill="#C8DCF5" stroke="#0404FC" stroke-width="4.6"/>
<path d="M1651.5 365.5V255.2H1684.5V365.5" fill="#F3B57D" stroke="#C46000" stroke-width="4.6"/>
<path d="M1706.8 365.5V257.3H1739.8V365.5" fill="#D2D2D2" stroke="#646464" stroke-width="4.6"/>
<path d="M1762 365.5V321.7H1795V365.5" fill="#C8DCF5" stroke="#0404FC" stroke-width="4.6"/>
<line x1="1502.1" y1="338.5" x2="1502.1" y2="344.5" stroke="#C46000" stroke-width="3.1"/>
<line x1="1492.95" y1="338.5" x2="1511.25" y2="338.5" stroke="#C46000" stroke-width="3.1"/>
<line x1="1492.95" y1="344.5" x2="1511.25" y2="344.5" stroke="#C46000" stroke-width="3.1"/>
<line x1="1557.3" y1="338.5" x2="1557.3" y2="344.3" stroke="#000" stroke-width="1.7"/>
<line x1="1548.15" y1="338.5" x2="1566.45" y2="338.5" stroke="#000" stroke-width="1.7"/>
<line x1="1548.15" y1="344.3" x2="1566.45" y2="344.3" stroke="#000" stroke-width="1.7"/>
<line x1="1612.6" y1="337.6" x2="1612.6" y2="342.8" stroke="#0404FC" stroke-width="3.1"/>
<line x1="1603.45" y1="337.6" x2="1621.75" y2="337.6" stroke="#0404FC" stroke-width="3.1"/>
<line x1="1603.45" y1="342.8" x2="1621.75" y2="342.8" stroke="#0404FC" stroke-width="3.1"/>
<line x1="1668" y1="236.1" x2="1668" y2="269.6" stroke="#C46000" stroke-width="3.1"/>
<line x1="1658.85" y1="236.1" x2="1677.15" y2="236.1" stroke="#C46000" stroke-width="3.1"/>
<line x1="1658.85" y1="269.6" x2="1677.15" y2="269.6" stroke="#C46000" stroke-width="3.1"/>
<line x1="1723.3" y1="247.5" x2="1723.3" y2="262.3" stroke="#000" stroke-width="1.7"/>
<line x1="1714.15" y1="247.5" x2="1732.45" y2="247.5" stroke="#000" stroke-width="1.7"/>
<line x1="1714.15" y1="262.3" x2="1732.45" y2="262.3" stroke="#000" stroke-width="1.7"/>
<line x1="1778.5" y1="315.9" x2="1778.5" y2="323.3" stroke="#0404FC" stroke-width="3.1"/>
<line x1="1769.35" y1="315.9" x2="1787.65" y2="315.9" stroke="#0404FC" stroke-width="3.1"/>
<line x1="1769.35" y1="323.3" x2="1787.65" y2="323.3" stroke="#0404FC" stroke-width="3.1"/>
<line x1="1465.6" y1="80.85" x2="1465.6" y2="366.95" stroke="#000" stroke-width="2.9"/>
<line x1="1457.1" y1="365.5" x2="1465.6" y2="365.5" stroke="#000" stroke-width="2.9"/>
<text x="1453.6" y="373.2" font-size="21.5" class="b" text-anchor="end">0</text>
<line x1="1457.1" y1="318.3" x2="1465.6" y2="318.3" stroke="#000" stroke-width="2.9"/>
<text x="1453.6" y="326" font-size="21.5" class="b" text-anchor="end">2</text>
<line x1="1457.1" y1="271.1" x2="1465.6" y2="271.1" stroke="#000" stroke-width="2.9"/>
<text x="1453.6" y="278.8" font-size="21.5" class="b" text-anchor="end">4</text>
<line x1="1457.1" y1="223.9" x2="1465.6" y2="223.9" stroke="#000" stroke-width="2.9"/>
<text x="1453.6" y="231.6" font-size="21.5" class="b" text-anchor="end">6</text>
<line x1="1457.1" y1="176.7" x2="1465.6" y2="176.7" stroke="#000" stroke-width="2.9"/>
<text x="1453.6" y="184.4" font-size="21.5" class="b" text-anchor="end">8</text>
<line x1="1457.1" y1="129.5" x2="1465.6" y2="129.5" stroke="#000" stroke-width="2.9"/>
<text x="1453.6" y="137.2" font-size="21.5" class="b" text-anchor="end">10</text>
<line x1="1457.1" y1="82.3" x2="1465.6" y2="82.3" stroke="#000" stroke-width="2.9"/>
<text x="1453.6" y="90" font-size="21.5" class="b" text-anchor="end">12</text>
<line x1="1457.1" y1="365.5" x2="1817" y2="365.5" stroke="#000" stroke-width="2.9"/>
<line x1="1502.1" y1="365.5" x2="1502.1" y2="374.3" stroke="#000" stroke-width="2.9"/>
<text x="1502.1" y="396.2" font-size="21.2" class="b" text-anchor="middle">TN</text>
<line x1="1557.3" y1="365.5" x2="1557.3" y2="374.3" stroke="#000" stroke-width="2.9"/>
<text x="1557.3" y="396.2" font-size="21.2" class="b" text-anchor="middle">RT</text>
<line x1="1612.6" y1="365.5" x2="1612.6" y2="374.3" stroke="#000" stroke-width="2.9"/>
<text x="1612.6" y="396.2" font-size="21.2" class="b" text-anchor="middle">Cold</text>
<line x1="1668" y1="365.5" x2="1668" y2="374.3" stroke="#000" stroke-width="2.9"/>
<text x="1668" y="396.2" font-size="21.2" class="b" text-anchor="middle">TN</text>
<line x1="1723.3" y1="365.5" x2="1723.3" y2="374.3" stroke="#000" stroke-width="2.9"/>
<text x="1723.3" y="396.2" font-size="21.2" class="b" text-anchor="middle">RT</text>
<line x1="1778.5" y1="365.5" x2="1778.5" y2="374.3" stroke="#000" stroke-width="2.9"/>
<text x="1778.5" y="396.2" font-size="21.2" class="b" text-anchor="middle">Cold</text>
<circle cx="1496.1" cy="338.3" r="3.4"/>
<circle cx="1507.8" cy="337.2" r="3.4"/>
<circle cx="1496.1" cy="347.9" r="3.4"/>
<circle cx="1507.8" cy="344.2" r="3.4"/>
<circle cx="1557.1" cy="332.8" r="3.4"/>
<circle cx="1551.6" cy="342.6" r="3.4"/>
<circle cx="1563.2" cy="339.2" r="3.4"/>
<circle cx="1563.2" cy="345.4" r="3.4"/>
<circle cx="1551.6" cy="350.6" r="3.4"/>
<circle cx="1612.5" cy="331.4" r="3.4"/>
<circle cx="1607.3" cy="337.2" r="3.4"/>
<circle cx="1618" cy="338.3" r="3.4"/>
<circle cx="1597" cy="341.9" r="3.4"/>
<circle cx="1627.8" cy="339.4" r="3.4"/>
<circle cx="1618" cy="344.2" r="3.4"/>
<circle cx="1607.3" cy="348.6" r="3.4"/>
<circle cx="1667.7" cy="218.7" r="3.4"/>
<circle cx="1667.7" cy="228.8" r="3.4"/>
<circle cx="1667.7" cy="274.2" r="3.4"/>
<circle cx="1667.7" cy="288.8" r="3.4"/>
<circle cx="1723" cy="231.9" r="3.4"/>
<circle cx="1728.9" cy="248.8" r="3.4"/>
<circle cx="1717.3" cy="254.3" r="3.4"/>
<circle cx="1723" cy="266.6" r="3.4"/>
<circle cx="1723" cy="273.5" r="3.4"/>
<circle cx="1778.4" cy="305.2" r="3.4"/>
<circle cx="1762.9" cy="318" r="3.4"/>
<circle cx="1773.2" cy="318.7" r="3.4"/>
<circle cx="1783.9" cy="317.5" r="3.4"/>
<circle cx="1793.9" cy="317.1" r="3.4"/>
<circle cx="1778.4" cy="328.3" r="3.4"/>
<circle cx="1778.4" cy="335.1" r="3.4"/>
<line x1="1489.6" y1="412" x2="1626.6" y2="412" stroke="#000" stroke-width="3.8"/>
<line x1="1657.8" y1="413" x2="1794.8" y2="413" stroke="#000" stroke-width="3.8"/>
<text x="1562.3" y="446" font-size="23" class="b" text-anchor="middle">BAT</text>
<text x="1728" y="446" font-size="23.2" class="b" text-anchor="middle">scWAT</text>
<text x="1639.5" y="107.3" font-size="18" text-anchor="middle">P &lt; 0.0001</text>
<line x1="1557.3" y1="119.2" x2="1723.3" y2="119.2" stroke="#000" stroke-width="1.6"/>
<text x="1722.6" y="157.3" font-size="18" text-anchor="middle">P &lt; 0.0001</text>
<line x1="1668" y1="168.6" x2="1778.5" y2="168.6" stroke="#000" stroke-width="1.6"/>
<text x="1584.1" y="188" font-size="18" text-anchor="middle">P &lt; 0.0001</text>
<line x1="1502.1" y1="199.3" x2="1668" y2="199.3" stroke="#000" stroke-width="1.6"/>
<text x="1750.3" y="206.2" font-size="18" text-anchor="middle">P &lt; 0.0001</text>
<line x1="1723.3" y1="217.1" x2="1778.5" y2="217.1" stroke="#000" stroke-width="1.6"/>
<!-- panel d -->
<text x="3.3" y="548.4" font-size="67.2" class="b">d</text>
<g transform="translate(40 600) scale(0.13317)">
<path d="M1205 490C1290 515 1402 578 1418 670C1424 732 1372 779 1290 784C1200 789 1080 760 960 722C880 697 790 690 728 716C716 720 712 704 720 698C780 664 880 660 968 684C1080 716 1200 744 1284 743C1342 741 1380 712 1376 668C1366 604 1288 552 1190 530Z" fill="#B9847C"/>
<path d="M1230 520C1300 552 1386 606 1398 670C1402 724 1356 762 1288 765C1200 768 1080 738 962 702" fill="none" stroke="#C9958E" stroke-width="7"/>
<path d="M870 598L930 600L1010 596L1070 586L1100 566L1135 582L1122 615L1092 636L1042 640L992 658L942 648L915 625L880 612Z" fill="#B5837B"/>
<path d="M478 540L525 552L548 575L522 606L492 632L442 636L400 650L350 637L322 614L362 600L420 600L452 578Z" fill="#B98A83"/>
<path d="M408 192C415 165 440 145 470 145C495 145 510 160 503 180L490 200Z" fill="#3d3836"/>
<path d="M172 322C178 305 200 288 260 250C310 225 370 200 420 192C450 190 490 195 520 205L580 225C620 220 690 214 760 210C830 205 880 205 920 218C980 240 1040 285 1100 335C1150 380 1195 420 1210 450C1225 480 1215 515 1190 540C1165 562 1130 578 1080 590C1020 595 930 588 860 576C820 570 780 572 740 583C700 596 660 605 620 600C580 596 550 580 530 560C510 548 490 545 475 535C462 505 445 472 420 452C385 436 330 420 270 400C230 388 195 368 178 345Z" fill="#4B4644"/>
<path d="M560 585C640 570 720 520 800 490C900 470 980 490 1040 460C1100 440 1150 420 1205 440C1225 480 1215 515 1190 540C1165 562 1130 578 1080 590C1020 595 930 588 860 576C820 570 780 572 740 583C700 596 660 605 620 600Z" fill="#3F3A38"/>
<path d="M470 245C490 222 520 210 545 215C565 225 562 270 548 300C530 322 500 328 478 320C458 310 460 275 470 245Z" fill="#B8827C"/>
<path d="M492 255C505 240 528 235 540 245C545 265 538 290 525 305C510 312 495 308 488 295C485 280 486 268 492 255Z" fill="#CE9C96"/>
<ellipse cx="326" cy="292" rx="24" ry="17" fill="#241c1b"/>
<circle cx="178" cy="322" r="9" fill="#C48F89"/>
<path d="M200 285L150 212M198 280L172 208M195 290L140 238" fill="none" stroke="#cfcfcf" stroke-width="3"/>
</g>
<text x="335.2" y="606.4" font-size="30.8" class="d" text-anchor="middle" textLength="137" lengthAdjust="spacingAndGlyphs">Tamoxifen</text>
<text x="335.5" y="639" font-size="30.8" class="d" text-anchor="middle" textLength="127.6" lengthAdjust="spacingAndGlyphs">treatment</text>
<text x="534.4" y="634.2" font-size="30.8" class="d" text-anchor="middle" textLength="187.8" lengthAdjust="spacingAndGlyphs">Cold exposure</text>
<text x="738.3" y="634.6" font-size="30.8" class="d" text-anchor="middle" textLength="151.7" lengthAdjust="spacingAndGlyphs">Room temp</text>
<text x="335.9" y="705.7" font-size="30.8" class="d" text-anchor="middle" textLength="85.1" lengthAdjust="spacingAndGlyphs">7 days</text>
<text x="529.4" y="705.7" font-size="30.8" class="d" text-anchor="middle" textLength="85.1" lengthAdjust="spacingAndGlyphs">7 days</text>
<text x="692" y="705" font-size="30.8" class="d" text-anchor="middle" textLength="31.2" lengthAdjust="spacingAndGlyphs">3d</text>
<text x="787.8" y="705" font-size="30.8" class="d" text-anchor="middle" textLength="31.2" lengthAdjust="spacingAndGlyphs">3d</text>
<text x="159.2" y="749.1" font-size="30.8" class="d" text-anchor="middle" textLength="52.4" lengthAdjust="spacingAndGlyphs">CTL</text>
<text x="159" y="784.6" font-size="30.8" class="d" text-anchor="middle" textLength="26" lengthAdjust="spacingAndGlyphs">or</text>
<text x="159" y="818" font-size="30.8" class="d" text-anchor="middle" textLength="237.9" lengthAdjust="spacingAndGlyphs">iPreAd-EDNRB KO</text>
<text x="338.6" y="747.8" font-size="30.8" class="d" text-anchor="middle" textLength="108" lengthAdjust="spacingAndGlyphs">Kockout</text>
<text x="338.6" y="781.4" font-size="30.8" class="d" text-anchor="middle" textLength="120.4" lengthAdjust="spacingAndGlyphs">induction</text>
<text x="532.4" y="747.8" font-size="30.8" class="d" text-anchor="middle" textLength="122.4" lengthAdjust="spacingAndGlyphs">Browning</text>
<text x="532.4" y="781.4" font-size="30.8" class="d" text-anchor="middle" textLength="120.8" lengthAdjust="spacingAndGlyphs">Induction</text>
<text x="653" y="769.8" font-size="30.8" class="d" text-anchor="middle" textLength="54" lengthAdjust="spacingAndGlyphs">GTT</text>
<text x="739.7" y="769.8" font-size="30.8" class="d" text-anchor="middle" textLength="57.8" lengthAdjust="spacingAndGlyphs">Cold</text>
<text x="739.6" y="803" font-size="30.8" class="d" text-anchor="middle" textLength="49.2" lengthAdjust="spacingAndGlyphs">test</text>
<text x="859.4" y="769.8" font-size="30.8" class="d" text-anchor="middle" textLength="96.8" lengthAdjust="spacingAndGlyphs">CLAMS</text>
<line x1="248.1" y1="661.1" x2="414" y2="661.1" stroke="#2b2b2b" stroke-width="3.7"/>
<path d="M431 661.1L412.4 651.9L412.4 670.3Z" fill="#2b2b2b"/>
<line x1="444.7" y1="661.1" x2="611.3" y2="661.1" stroke="#2b2b2b" stroke-width="3.7"/>
<path d="M628.3 661.1L609.7 651.9L609.7 670.3Z" fill="#2b2b2b"/>
<line x1="648.3" y1="661.1" x2="813.9" y2="661.1" stroke="#2b2b2b" stroke-width="3.7"/>
<path d="M830.9 661.1L812.3 651.9L812.3 670.3Z" fill="#2b2b2b"/>
<rect x="646.6" y="675" width="3.4" height="45" fill="url(#vg)"/>
<path d="M648.3 737L639 718.7L657.6 718.7Z" fill="#2b2b2b"/>
<rect x="739.4" y="675" width="3.4" height="45" fill="url(#vg)"/>
<path d="M741.1 737L731.8 718.7L750.4 718.7Z" fill="#2b2b2b"/>
<rect x="833.4" y="675" width="3.4" height="45" fill="url(#vg)"/>
<path d="M835.1 737L825.8 718.7L844.4 718.7Z" fill="#2b2b2b"/>
<!-- panel e -->
<text x="941" y="549.5" font-size="66.5" class="b">e</text>
<text x="1222.4" y="515" font-size="27.6" class="b" text-anchor="middle">Co1_GTT</text>
<text x="1222.4" y="547.6" font-size="27.7" class="b" text-anchor="middle">(after 7d cold)</text>
<text transform="translate(1001.2 727) rotate(-90)" font-size="27.2" class="b" text-anchor="middle">Glucose (mg/dl)</text>
<line x1="1079.2" y1="584.07" x2="1079.2" y2="872.75" stroke="#000" stroke-width="2.9"/>
<line x1="1070.7" y1="871.3" x2="1079.2" y2="871.3" stroke="#000" stroke-width="2.9"/>
<text x="1067.7" y="879.68" font-size="23.4" class="b" text-anchor="end">0</text>
<line x1="1070.7" y1="776.04" x2="1079.2" y2="776.04" stroke="#000" stroke-width="2.9"/>
<text x="1067.7" y="784.42" font-size="23.4" class="b" text-anchor="end">200</text>
<line x1="1070.7" y1="680.78" x2="1079.2" y2="680.78" stroke="#000" stroke-width="2.9"/>
<text x="1067.7" y="689.16" font-size="23.4" class="b" text-anchor="end">400</text>
<line x1="1070.7" y1="585.52" x2="1079.2" y2="585.52" stroke="#000" stroke-width="2.9"/>
<text x="1067.7" y="593.9" font-size="23.4" class="b" text-anchor="end">600</text>
<line x1="1070.7" y1="871.3" x2="1366.5" y2="871.3" stroke="#000" stroke-width="2.9"/>
<line x1="1079.2" y1="871.3" x2="1079.2" y2="880.3" stroke="#000" stroke-width="2.9"/>
<text transform="translate(1086.8 902.8) rotate(-45)" font-size="23" class="b" text-anchor="end">0</text>
<line x1="1136.4" y1="871.3" x2="1136.4" y2="880.3" stroke="#000" stroke-width="2.9"/>
<text transform="translate(1144 902.8) rotate(-45)" font-size="23" class="b" text-anchor="end">20</text>
<line x1="1193.6" y1="871.3" x2="1193.6" y2="880.3" stroke="#000" stroke-width="2.9"/>
<text transform="translate(1201.2 902.8) rotate(-45)" font-size="23" class="b" text-anchor="end">40</text>
<line x1="1250.8" y1="871.3" x2="1250.8" y2="880.3" stroke="#000" stroke-width="2.9"/>
<text transform="translate(1258.4 902.8) rotate(-45)" font-size="23" class="b" text-anchor="end">60</text>
<line x1="1308" y1="871.3" x2="1308" y2="880.3" stroke="#000" stroke-width="2.9"/>
<text transform="translate(1315.6 902.8) rotate(-45)" font-size="23" class="b" text-anchor="end">80</text>
<line x1="1365.2" y1="871.3" x2="1365.2" y2="880.3" stroke="#000" stroke-width="2.9"/>
<text transform="translate(1372.8 902.8) rotate(-45)" font-size="23" class="b" text-anchor="end">100</text>
<text x="1222" y="965" font-size="27.3" class="b" text-anchor="middle">Time (minutes)</text>
<line x1="1122.1" y1="687" x2="1122.1" y2="723.9" stroke="#000" stroke-width="4.2"/>
<line x1="1115.25" y1="687" x2="1128.95" y2="687" stroke="#000" stroke-width="4.2"/>
<line x1="1115.25" y1="723.9" x2="1128.95" y2="723.9" stroke="#000" stroke-width="4.2"/>
<line x1="1165" y1="733.2" x2="1165" y2="767.5" stroke="#000" stroke-width="4.2"/>
<line x1="1158.15" y1="733.2" x2="1171.85" y2="733.2" stroke="#000" stroke-width="4.2"/>
<line x1="1158.15" y1="767.5" x2="1171.85" y2="767.5" stroke="#000" stroke-width="4.2"/>
<polyline points="1079.2,799.7 1122.1,705.6 1165,750.5 1250.8,778.6 1336.6,792.7" fill="none" stroke="#000" stroke-width="3.4" stroke-linejoin="round"/>
<circle cx="1079.2" cy="799.7" r="5.9"/>
<circle cx="1122.1" cy="705.6" r="5.9"/>
<circle cx="1165" cy="750.5" r="5.9"/>
<circle cx="1250.8" cy="778.6" r="5.9"/>
<circle cx="1336.6" cy="792.7" r="5.9"/>
<line x1="1122.1" y1="636.7" x2="1122.1" y2="659.1" stroke="#FF0000" stroke-width="4.2"/>
<line x1="1115.25" y1="636.7" x2="1128.95" y2="636.7" stroke="#FF0000" stroke-width="4.2"/>
<line x1="1115.25" y1="659.1" x2="1128.95" y2="659.1" stroke="#FF0000" stroke-width="4.2"/>
<line x1="1165" y1="671.8" x2="1165" y2="695.1" stroke="#FF0000" stroke-width="4.2"/>
<line x1="1158.15" y1="671.8" x2="1171.85" y2="671.8" stroke="#FF0000" stroke-width="4.2"/>
<line x1="1158.15" y1="695.1" x2="1171.85" y2="695.1" stroke="#FF0000" stroke-width="4.2"/>
<line x1="1250.8" y1="733.7" x2="1250.8" y2="754.6" stroke="#FF0000" stroke-width="4.2"/>
<line x1="1243.95" y1="733.7" x2="1257.65" y2="733.7" stroke="#FF0000" stroke-width="4.2"/>
<line x1="1243.95" y1="754.6" x2="1257.65" y2="754.6" stroke="#FF0000" stroke-width="4.2"/>
<line x1="1336.6" y1="780.4" x2="1336.6" y2="788.4" stroke="#FF0000" stroke-width="4.2"/>
<line x1="1329.75" y1="780.4" x2="1343.45" y2="780.4" stroke="#FF0000" stroke-width="4.2"/>
<line x1="1329.75" y1="788.4" x2="1343.45" y2="788.4" stroke="#FF0000" stroke-width="4.2"/>
<polyline points="1079.2,788.8 1122.1,648.3 1165,683.1 1250.8,744.1 1336.6,784.4" fill="none" stroke="#FF0000" stroke-width="3.4" stroke-linejoin="round"/>
<rect x="1073.3" y="782.9" width="11.8" height="11.8" fill="#FF0000"/>
<rect x="1116.2" y="642.4" width="11.8" height="11.8" fill="#FF0000"/>
<rect x="1159.1" y="677.2" width="11.8" height="11.8" fill="#FF0000"/>
<rect x="1244.9" y="738.2" width="11.8" height="11.8" fill="#FF0000"/>
<rect x="1330.7" y="778.5" width="11.8" height="11.8" fill="#FF0000"/>
<line x1="1237.6" y1="585.5" x2="1268.2" y2="585.5" stroke="#000" stroke-width="3.4"/>
<circle cx="1252.7" cy="585.5" r="5.9"/>
<text x="1286.2" y="593.8" font-size="23">CTL</text>
<line x1="1237.6" y1="624.3" x2="1268.2" y2="624.3" stroke="#FF0000" stroke-width="3.4"/>
<rect x="1246.8" y="618.4" width="11.8" height="11.8" fill="#FF0000"/>
<text x="1286.2" y="632.3" font-size="23">iKO</text>
<text x="1128" y="623.6" font-size="17.5" text-anchor="middle">0.0008</text>
<text x="1187.3" y="661.3" font-size="17.5" text-anchor="middle">&lt;0.0001</text>
<text x="1597.1" y="533.5" font-size="27.3" class="b" text-anchor="middle">Co1_GTT</text>
<text x="1597.1" y="565" font-size="27.3" class="b" text-anchor="middle">(after 7d cold)</text>
<text transform="translate(1416 739.7) rotate(-90)" font-size="26.4" class="b" text-anchor="middle">AUC of GTT</text>
<path d="M1532.6 877.8V738.45H1582.2V877.8" fill="#fff" stroke="#000" stroke-width="2.9"/>
<path d="M1611.3 877.8V686.45H1660.9V877.8" fill="#fff" stroke="#FF0000" stroke-width="2.9"/>
<line x1="1557.4" y1="727.6" x2="1557.4" y2="746.7" stroke="#000" stroke-width="2.5"/>
<line x1="1544" y1="727.6" x2="1570.8" y2="727.6" stroke="#000" stroke-width="2.5"/>
<line x1="1544" y1="746.7" x2="1570.8" y2="746.7" stroke="#000" stroke-width="2.5"/>
<line x1="1636.1" y1="675.7" x2="1636.1" y2="693.8" stroke="#000" stroke-width="2.5"/>
<line x1="1622.7" y1="675.7" x2="1649.5" y2="675.7" stroke="#000" stroke-width="2.5"/>
<line x1="1622.7" y1="693.8" x2="1649.5" y2="693.8" stroke="#000" stroke-width="2.5"/>
<circle cx="1551.9" cy="715" r="3.3"/>
<circle cx="1562.8" cy="718.3" r="3.3"/>
<circle cx="1557.4" cy="738.9" r="3.3"/>
<circle cx="1557.4" cy="753.3" r="3.3"/>
<circle cx="1557.4" cy="765.2" r="3.3"/>
<circle cx="1636" cy="655.3" r="3.3"/>
<circle cx="1636" cy="666.6" r="3.3"/>
<circle cx="1636" cy="680.8" r="3.3"/>
<circle cx="1636" cy="701.8" r="3.3"/>
<circle cx="1636" cy="714" r="3.3"/>
<line x1="1505.5" y1="599.85" x2="1505.5" y2="879.15" stroke="#000" stroke-width="2.7"/>
<line x1="1496.7" y1="877.8" x2="1505.5" y2="877.8" stroke="#000" stroke-width="2.7"/>
<text x="1493.7" y="886.03" font-size="23" class="b" text-anchor="end">0</text>
<line x1="1496.7" y1="808.65" x2="1505.5" y2="808.65" stroke="#000" stroke-width="2.7"/>
<text x="1493.7" y="816.88" font-size="23" class="b" text-anchor="end">10000</text>
<line x1="1496.7" y1="739.5" x2="1505.5" y2="739.5" stroke="#000" stroke-width="2.7"/>
<text x="1493.7" y="747.73" font-size="23" class="b" text-anchor="end">20000</text>
<line x1="1496.7" y1="670.35" x2="1505.5" y2="670.35" stroke="#000" stroke-width="2.7"/>
<text x="1493.7" y="678.58" font-size="23" class="b" text-anchor="end">30000</text>
<line x1="1496.7" y1="601.2" x2="1505.5" y2="601.2" stroke="#000" stroke-width="2.7"/>
<text x="1493.7" y="609.43" font-size="23" class="b" text-anchor="end">40000</text>
<line x1="1496.7" y1="877.8" x2="1690.2" y2="877.8" stroke="#000" stroke-width="2.7"/>
<line x1="1557.4" y1="877.8" x2="1557.4" y2="886.8" stroke="#000" stroke-width="2.7"/>
<text x="1557.4" y="913.8" font-size="25.8" class="b" text-anchor="middle">CTL</text>
<line x1="1636.1" y1="877.8" x2="1636.1" y2="886.8" stroke="#000" stroke-width="2.7"/>
<text x="1636.1" y="913.8" font-size="25.8" class="b" text-anchor="middle">iKO</text>
<text x="1596.9" y="631" font-size="18.5" text-anchor="middle">P = 0.0033</text>
<line x1="1557.4" y1="643.2" x2="1636" y2="643.2" stroke="#000" stroke-width="1.7"/>
<!-- panel f -->
<text x="2.5" y="1046.2" font-size="66.5" class="b">f</text>
<text x="352" y="1017.6" font-size="29.7" class="b" text-anchor="middle">Heat</text>
<text x="352" y="1051.8" font-size="29.5" class="b" text-anchor="middle">(after 7d cold)</text>
<text transform="translate(55 1228) rotate(-90)" font-size="29.8" class="b" text-anchor="middle">Heat (kCal/hr)</text>
<rect x="122" y="1087.5" width="230.8" height="307" fill="#E8E8E8"/>
<path d="M122 1204.29V1233.54M118.8 1204.29h6.4M118.8 1233.54h6.4M126.79 1222.49V1234.12M123.59 1222.49h6.4M123.59 1234.12h6.4M131.58 1245.3V1264.19M128.38 1245.3h6.4M128.38 1264.19h6.4M136.37 1205.79V1234.36M133.17 1205.79h6.4M133.17 1234.36h6.4M141.16 1206.27V1236.78M137.96 1206.27h6.4M137.96 1236.78h6.4M145.94 1195.86V1222.01M142.75 1195.86h6.4M142.75 1222.01h6.4M150.73 1222.01V1254.94M147.53 1222.01h6.4M147.53 1254.94h6.4M155.52 1224.92V1247.19M152.32 1224.92h6.4M152.32 1247.19h6.4M160.31 1220.31V1239.2M157.11 1220.31h6.4M157.11 1239.2h6.4M165.1 1221.53V1251.55M161.9 1221.53h6.4M161.9 1251.55h6.4M169.89 1215.23V1241.38M166.69 1215.23h6.4M166.69 1241.38h6.4M174.68 1225.4V1248.64M171.48 1225.4h6.4M171.48 1248.64h6.4M179.47 1213.54V1240.17M176.27 1213.54h6.4M176.27 1240.17h6.4M184.26 1233.87V1257.6M181.06 1233.87h6.4M181.06 1257.6h6.4M189.05 1244.67V1271.99M185.85 1244.67h6.4M185.85 1271.99h6.4M193.83 1212.32V1242.35M190.63 1212.32h6.4M190.63 1242.35h6.4M198.62 1233.97V1263.32M195.42 1233.97h6.4M195.42 1263.32h6.4M203.41 1213.05V1240.65M200.21 1213.05h6.4M200.21 1240.65h6.4M208.2 1229.03V1247.92M205 1229.03h6.4M205 1247.92h6.4M212.99 1228.79V1255.91M209.79 1228.79h6.4M209.79 1255.91h6.4M217.78 1265.79V1288.26M214.58 1265.79h6.4M214.58 1288.26h6.4M222.57 1239.93V1276.73M219.37 1239.93h6.4M219.37 1276.73h6.4M227.36 1240.56V1267M224.16 1240.56h6.4M224.16 1267h6.4M232.15 1230.24V1250.58M228.95 1230.24h6.4M228.95 1250.58h6.4M236.94 1229.95V1258.62M233.74 1229.95h6.4M233.74 1258.62h6.4M241.72 1244.87V1265.01M238.53 1244.87h6.4M238.53 1265.01h6.4M246.51 1242.83V1268.98M243.31 1242.83h6.4M243.31 1268.98h6.4M251.3 1248.64V1273.83M248.1 1248.64h6.4M248.1 1273.83h6.4M256.09 1258.79V1291.72M252.89 1258.79h6.4M252.89 1291.72h6.4M260.88 1272.11V1299.71M257.68 1272.11h6.4M257.68 1299.71h6.4M265.67 1270.07V1303.68M262.47 1270.07h6.4M262.47 1303.68h6.4M270.46 1253.7V1286.15M267.26 1253.7h6.4M267.26 1286.15h6.4M275.25 1265.91V1303.97M272.05 1265.91h6.4M272.05 1303.97h6.4M280.04 1248.23V1286.78M276.84 1248.23h6.4M276.84 1286.78h6.4M284.83 1264.12V1292.2M281.63 1264.12h6.4M281.63 1292.2h6.4M289.62 1252.88V1285.04M286.42 1252.88h6.4M286.42 1285.04h6.4M294.4 1267.02V1299.95M291.2 1267.02h6.4M291.2 1299.95h6.4M299.19 1252.01V1273.32M295.99 1252.01h6.4M295.99 1273.32h6.4M303.98 1272.11V1311.33M300.78 1272.11h6.4M300.78 1311.33h6.4M308.77 1273.32V1318.84M305.57 1273.32h6.4M305.57 1318.84h6.4M313.56 1288.81V1314.96M310.36 1288.81h6.4M310.36 1314.96h6.4M318.35 1287.36V1325.13M315.15 1287.36h6.4M315.15 1325.13h6.4M323.14 1265.13V1302.42M319.94 1265.13h6.4M319.94 1302.42h6.4M327.93 1281.07V1308.18M324.73 1281.07h6.4M324.73 1308.18h6.4M332.72 1297.05V1324.16M329.52 1297.05h6.4M329.52 1324.16h6.4M337.5 1283.87V1316.03M334.31 1283.87h6.4M334.31 1316.03h6.4M342.29 1258.26V1292.64M339.09 1258.26h6.4M339.09 1292.64h6.4M347.08 1296.76V1329.88M343.88 1296.76h6.4M343.88 1329.88h6.4M351.87 1297.09V1336.32M348.67 1297.09h6.4M348.67 1336.32h6.4M356.66 1301.69V1331.72M353.46 1301.69h6.4M353.46 1331.72h6.4M361.45 1288.96V1330.9M358.25 1288.96h6.4M358.25 1330.9h6.4M366.24 1307.22V1327.55M363.04 1307.22h6.4M363.04 1327.55h6.4M371.03 1291.62V1321.84M367.83 1291.62h6.4M367.83 1321.84h6.4M375.82 1289.54V1318.11M372.62 1289.54h6.4M372.62 1318.11h6.4M380.61 1280.87V1309.93M377.41 1280.87h6.4M377.41 1309.93h6.4M385.39 1226.83V1276.22M382.19 1226.83h6.4M382.19 1276.22h6.4M390.18 1257.48V1288.18M386.98 1257.48h6.4M386.98 1288.18h6.4M394.97 1270.41V1294.62M391.77 1270.41h6.4M391.77 1294.62h6.4M399.76 1255.25V1293.32M396.56 1255.25h6.4M396.56 1293.32h6.4M404.55 1296.32V1315.21M401.35 1296.32h6.4M401.35 1315.21h6.4M409.34 1272.25V1307.89M406.14 1272.25h6.4M406.14 1307.89h6.4M414.13 1283.73V1312.3M410.93 1283.73h6.4M410.93 1312.3h6.4M418.92 1218.16V1299.03M415.72 1218.16h6.4M415.72 1299.03h6.4M423.71 1289.15V1317.53M420.51 1289.15h6.4M420.51 1317.53h6.4M428.5 1301.84V1325.76M425.3 1301.84h6.4M425.3 1325.76h6.4M433.28 1288.67V1342.81M430.08 1288.67h6.4M430.08 1342.81h6.4M438.07 1252.74V1317.14M434.87 1252.74h6.4M434.87 1317.14h6.4M442.86 1307.7V1337.72M439.66 1307.7h6.4M439.66 1337.72h6.4M447.65 1226.1V1302.13M444.45 1226.1h6.4M444.45 1302.13h6.4M452.44 1297.29V1313.27M449.24 1297.29h6.4M449.24 1313.27h6.4M457.23 1308.67V1356.13M454.03 1308.67h6.4M454.03 1356.13h6.4M462.02 1302.86V1356.13M458.82 1302.86h6.4M458.82 1356.13h6.4M466.81 1326.39V1340.92M463.61 1326.39h6.4M463.61 1340.92h6.4M471.6 1220.05V1236.51M468.4 1220.05h6.4M468.4 1236.51h6.4M476.39 1278.31V1299.9M473.19 1278.31h6.4M473.19 1299.9h6.4M481.17 1298.69V1332.2M477.97 1298.69h6.4M477.97 1332.2h6.4M485.96 1271.96V1311.48M482.76 1271.96h6.4M482.76 1311.48h6.4M490.75 1289.01V1319.61M487.55 1289.01h6.4M487.55 1319.61h6.4M495.54 1298.69V1315.74M492.34 1298.69h6.4M492.34 1315.74h6.4M500.33 1258.31V1291.23M497.13 1258.31h6.4M497.13 1291.23h6.4M505.12 1242.08V1303.58M501.92 1242.08h6.4M501.92 1303.58h6.4M509.91 1315.74V1325.81M506.71 1315.74h6.4M506.71 1325.81h6.4M514.7 1241.74V1322.91M511.5 1241.74h6.4M511.5 1322.91h6.4M519.49 1248.38V1282.76M516.29 1248.38h6.4M516.29 1282.76h6.4M524.28 1283.49V1299.95M521.08 1283.49h6.4M521.08 1299.95h6.4M529.07 1256.37V1338.69M525.87 1256.37h6.4M525.87 1338.69h6.4M533.85 1220.48V1285.86M530.65 1220.48h6.4M530.65 1285.86h6.4M538.64 1221.99V1262.66M535.44 1221.99h6.4M535.44 1262.66h6.4M543.43 1248.23V1275.16M540.23 1248.23h6.4M540.23 1275.16h6.4M548.22 1295.93V1316.56M545.02 1295.93h6.4M545.02 1316.56h6.4M553.01 1228.57V1296.37M549.81 1228.57h6.4M549.81 1296.37h6.4M557.8 1304.21V1311.77M554.6 1304.21h6.4M554.6 1311.77h6.4M562.59 1263.63V1296.56M559.39 1263.63h6.4M559.39 1296.56h6.4M567.38 1214.86V1268.8M564.18 1214.86h6.4M564.18 1268.8h6.4M572.17 1152.07V1182.14M568.97 1152.07h6.4M568.97 1182.14h6.4M576.95 1159.59V1213.53M573.75 1159.59h6.4M573.75 1213.53h6.4M581.74 1188.11V1246.92M578.54 1188.11h6.4M578.54 1246.92h6.4" fill="none" stroke="#FF0000" stroke-width="1.7"/>
<polyline points="122,1218.91 126.79,1228.31 131.58,1254.75 136.37,1220.07 141.16,1221.53 145.94,1208.93 150.73,1238.47 155.52,1236.05 160.31,1229.76 165.1,1236.54 169.89,1228.31 174.68,1237.02 179.47,1226.85 184.26,1245.74 189.05,1258.33 193.83,1227.34 198.62,1248.64 203.41,1226.85 208.2,1238.47 212.99,1242.35 217.78,1277.02 222.57,1258.33 227.36,1253.78 232.15,1240.41 236.94,1244.29 241.72,1254.94 246.51,1255.91 251.3,1261.23 256.09,1275.25 260.88,1285.91 265.67,1286.88 270.46,1269.93 275.25,1284.94 280.04,1267.51 284.83,1278.16 289.62,1268.96 294.4,1283.49 299.19,1262.66 303.98,1291.72 308.77,1296.08 313.56,1301.89 318.35,1306.25 323.14,1283.78 327.93,1294.62 332.72,1310.61 337.5,1299.95 342.29,1275.45 347.08,1313.32 351.87,1316.71 356.66,1316.71 361.45,1309.93 366.24,1317.38 371.03,1306.73 375.82,1303.83 380.61,1295.4 385.39,1251.53 390.18,1272.83 394.97,1282.52 399.76,1274.29 404.55,1305.76 409.34,1290.07 414.13,1298.01 418.92,1258.6 423.71,1303.34 428.5,1313.8 433.28,1315.74 438.07,1284.94 442.86,1322.71 447.65,1264.12 452.44,1305.28 457.23,1332.4 462.02,1329.49 466.81,1333.66 471.6,1228.28 476.39,1289.1 481.17,1315.45 485.96,1291.72 490.75,1304.31 495.54,1307.22 500.33,1274.77 505.12,1272.83 509.91,1320.77 514.7,1282.32 519.49,1265.57 524.28,1291.72 529.07,1297.53 533.85,1253.17 538.64,1242.32 543.43,1261.69 548.22,1306.25 553.01,1262.47 557.8,1307.99 562.59,1280.1 567.38,1241.83 572.17,1167.11 576.95,1186.56 581.74,1217.51" fill="none" stroke="#FF0000" stroke-width="1.7" stroke-linejoin="round"/>
<g fill="#FF0000"><circle cx="122" cy="1218.91" r="3.2"/><circle cx="126.79" cy="1228.31" r="3.2"/><circle cx="131.58" cy="1254.75" r="3.2"/><circle cx="136.37" cy="1220.07" r="3.2"/><circle cx="141.16" cy="1221.53" r="3.2"/><circle cx="145.94" cy="1208.93" r="3.2"/><circle cx="150.73" cy="1238.47" r="3.2"/><circle cx="155.52" cy="1236.05" r="3.2"/><circle cx="160.31" cy="1229.76" r="3.2"/><circle cx="165.1" cy="1236.54" r="3.2"/><circle cx="169.89" cy="1228.31" r="3.2"/><circle cx="174.68" cy="1237.02" r="3.2"/><circle cx="179.47" cy="1226.85" r="3.2"/><circle cx="184.26" cy="1245.74" r="3.2"/><circle cx="189.05" cy="1258.33" r="3.2"/><circle cx="193.83" cy="1227.34" r="3.2"/><circle cx="198.62" cy="1248.64" r="3.2"/><circle cx="203.41" cy="1226.85" r="3.2"/><circle cx="208.2" cy="1238.47" r="3.2"/><circle cx="212.99" cy="1242.35" r="3.2"/><circle cx="217.78" cy="1277.02" r="3.2"/><circle cx="222.57" cy="1258.33" r="3.2"/><circle cx="227.36" cy="1253.78" r="3.2"/><circle cx="232.15" cy="1240.41" r="3.2"/><circle cx="236.94" cy="1244.29" r="3.2"/><circle cx="241.72" cy="1254.94" r="3.2"/><circle cx="246.51" cy="1255.91" r="3.2"/><circle cx="251.3" cy="1261.23" r="3.2"/><circle cx="256.09" cy="1275.25" r="3.2"/><circle cx="260.88" cy="1285.91" r="3.2"/><circle cx="265.67" cy="1286.88" r="3.2"/><circle cx="270.46" cy="1269.93" r="3.2"/><circle cx="275.25" cy="1284.94" r="3.2"/><circle cx="280.04" cy="1267.51" r="3.2"/><circle cx="284.83" cy="1278.16" r="3.2"/><circle cx="289.62" cy="1268.96" r="3.2"/><circle cx="294.4" cy="1283.49" r="3.2"/><circle cx="299.19" cy="1262.66" r="3.2"/><circle cx="303.98" cy="1291.72" r="3.2"/><circle cx="308.77" cy="1296.08" r="3.2"/><circle cx="313.56" cy="1301.89" r="3.2"/><circle cx="318.35" cy="1306.25" r="3.2"/><circle cx="323.14" cy="1283.78" r="3.2"/><circle cx="327.93" cy="1294.62" r="3.2"/><circle cx="332.72" cy="1310.61" r="3.2"/><circle cx="337.5" cy="1299.95" r="3.2"/><circle cx="342.29" cy="1275.45" r="3.2"/><circle cx="347.08" cy="1313.32" r="3.2"/><circle cx="351.87" cy="1316.71" r="3.2"/><circle cx="356.66" cy="1316.71" r="3.2"/><circle cx="361.45" cy="1309.93" r="3.2"/><circle cx="366.24" cy="1317.38" r="3.2"/><circle cx="371.03" cy="1306.73" r="3.2"/><circle cx="375.82" cy="1303.83" r="3.2"/><circle cx="380.61" cy="1295.4" r="3.2"/><circle cx="385.39" cy="1251.53" r="3.2"/><circle cx="390.18" cy="1272.83" r="3.2"/><circle cx="394.97" cy="1282.52" r="3.2"/><circle cx="399.76" cy="1274.29" r="3.2"/><circle cx="404.55" cy="1305.76" r="3.2"/><circle cx="409.34" cy="1290.07" r="3.2"/><circle cx="414.13" cy="1298.01" r="3.2"/><circle cx="418.92" cy="1258.6" r="3.2"/><circle cx="423.71" cy="1303.34" r="3.2"/><circle cx="428.5" cy="1313.8" r="3.2"/><circle cx="433.28" cy="1315.74" r="3.2"/><circle cx="438.07" cy="1284.94" r="3.2"/><circle cx="442.86" cy="1322.71" r="3.2"/><circle cx="447.65" cy="1264.12" r="3.2"/><circle cx="452.44" cy="1305.28" r="3.2"/><circle cx="457.23" cy="1332.4" r="3.2"/><circle cx="462.02" cy="1329.49" r="3.2"/><circle cx="466.81" cy="1333.66" r="3.2"/><circle cx="471.6" cy="1228.28" r="3.2"/><circle cx="476.39" cy="1289.1" r="3.2"/><circle cx="481.17" cy="1315.45" r="3.2"/><circle cx="485.96" cy="1291.72" r="3.2"/><circle cx="490.75" cy="1304.31" r="3.2"/><circle cx="495.54" cy="1307.22" r="3.2"/><circle cx="500.33" cy="1274.77" r="3.2"/><circle cx="505.12" cy="1272.83" r="3.2"/><circle cx="509.91" cy="1320.77" r="3.2"/><circle cx="514.7" cy="1282.32" r="3.2"/><circle cx="519.49" cy="1265.57" r="3.2"/><circle cx="524.28" cy="1291.72" r="3.2"/><circle cx="529.07" cy="1297.53" r="3.2"/><circle cx="533.85" cy="1253.17" r="3.2"/><circle cx="538.64" cy="1242.32" r="3.2"/><circle cx="543.43" cy="1261.69" r="3.2"/><circle cx="548.22" cy="1306.25" r="3.2"/><circle cx="553.01" cy="1262.47" r="3.2"/><circle cx="557.8" cy="1307.99" r="3.2"/><circle cx="562.59" cy="1280.1" r="3.2"/><circle cx="567.38" cy="1241.83" r="3.2"/><circle cx="572.17" cy="1167.11" r="3.2"/><circle cx="576.95" cy="1186.56" r="3.2"/><circle cx="581.74" cy="1217.51" r="3.2"/></g>
<path d="M122 1143.32V1203.85M118.8 1143.32h6.4M118.8 1203.85h6.4M126.79 1146.95V1208.93M123.59 1146.95h6.4M123.59 1208.93h6.4M131.58 1155.18V1204.58M128.38 1155.18h6.4M128.38 1204.58h6.4M136.37 1167.14V1210.05M133.17 1167.14h6.4M133.17 1210.05h6.4M141.16 1149.95V1202.06M137.96 1149.95h6.4M137.96 1202.06h6.4M145.94 1164.62V1219.35M142.75 1164.62h6.4M142.75 1219.35h6.4M150.73 1163.9V1215.23M147.53 1163.9h6.4M147.53 1215.23h6.4M155.52 1164.14V1221.77M152.32 1164.14h6.4M152.32 1221.77h6.4M160.31 1174.55V1202.64M157.11 1174.55h6.4M157.11 1202.64h6.4M165.1 1191.99V1221.04M161.9 1191.99h6.4M161.9 1221.04h6.4M169.89 1177.85V1210M166.69 1177.85h6.4M166.69 1210h6.4M174.68 1183.85V1218.52M171.48 1183.85h6.4M171.48 1218.52h6.4M179.47 1173.24V1198.14M176.27 1173.24h6.4M176.27 1198.14h6.4M184.26 1183.03V1215.47M181.06 1183.03h6.4M181.06 1215.47h6.4M189.05 1182.2V1209.52M185.85 1182.2h6.4M185.85 1209.52h6.4M193.83 1183.27V1217.17M190.63 1183.27h6.4M190.63 1217.17h6.4M198.62 1170.73V1206.08M195.42 1170.73h6.4M195.42 1206.08h6.4M203.41 1136.63V1171.21M200.21 1136.63h6.4M200.21 1171.21h6.4M208.2 1160.17V1199.2M205 1160.17h6.4M205 1199.2h6.4M212.99 1170.58V1225.01M209.79 1170.58h6.4M209.79 1225.01h6.4M217.78 1201.43V1231.94M214.58 1201.43h6.4M214.58 1231.94h6.4M222.57 1168.69V1203.08M219.37 1168.69h6.4M219.37 1203.08h6.4M227.36 1190.24V1213.49M224.16 1190.24h6.4M224.16 1213.49h6.4M232.15 1182.2V1213.39M228.95 1182.2h6.4M228.95 1213.39h6.4M236.94 1172.71V1220.94M233.74 1172.71h6.4M233.74 1220.94h6.4M241.72 1172.62V1218.14M238.53 1172.62h6.4M238.53 1218.14h6.4M246.51 1199.83V1217.07M243.31 1199.83h6.4M243.31 1217.07h6.4M251.3 1204.72V1222.83M248.1 1204.72h6.4M248.1 1222.83h6.4M256.09 1224.89V1250.07M252.89 1224.89h6.4M252.89 1250.07h6.4M260.88 1196.17V1233.27M257.68 1196.17h6.4M257.68 1233.27h6.4M265.67 1194.72V1213.41M262.47 1194.72h6.4M262.47 1213.41h6.4M270.46 1210.8V1236.46M267.26 1210.8h6.4M267.26 1236.46h6.4M275.25 1203.83V1237.24M272.05 1203.83h6.4M272.05 1237.24h6.4M280.04 1194.72V1221.55M276.84 1194.72h6.4M276.84 1221.55h6.4M284.83 1199.71V1226.83M281.63 1199.71h6.4M281.63 1226.83h6.4M289.62 1217.09V1245.67M286.42 1217.09h6.4M286.42 1245.67h6.4M294.4 1235.06V1260.24M291.2 1235.06h6.4M291.2 1260.24h6.4M299.19 1216.37V1244.65M295.99 1216.37h6.4M295.99 1244.65h6.4M303.98 1212.78V1240.87M300.78 1212.78h6.4M300.78 1240.87h6.4M308.77 1191.82V1234.14M305.57 1191.82h6.4M305.57 1234.14h6.4M313.56 1207.99V1244.31M310.36 1207.99h6.4M310.36 1244.31h6.4M318.35 1211.86V1256.71M315.15 1211.86h6.4M315.15 1256.71h6.4M323.14 1219.08V1259.76M319.94 1219.08h6.4M319.94 1259.76h6.4M327.93 1240.15V1271.62M324.73 1240.15h6.4M324.73 1271.62h6.4M332.72 1229.98V1257.58M329.52 1229.98h6.4M329.52 1257.58h6.4M337.5 1236.85V1253.61M334.31 1236.85h6.4M334.31 1253.61h6.4M342.29 1199.03V1234.67M339.09 1199.03h6.4M339.09 1234.67h6.4M347.08 1233.12V1261.21M343.88 1233.12h6.4M343.88 1261.21h6.4M351.87 1250.22V1273.17M348.67 1250.22h6.4M348.67 1273.17h6.4M356.66 1249.25V1273.17M353.46 1249.25h6.4M353.46 1273.17h6.4M361.45 1236.37V1248.28M358.25 1236.37h6.4M358.25 1248.28h6.4M366.24 1230.46V1258.06M363.04 1230.46h6.4M363.04 1258.06h6.4M371.03 1205.96V1257M367.83 1205.96h6.4M367.83 1257h6.4M375.82 1261.69V1280.1M372.62 1261.69h6.4M372.62 1280.1h6.4M380.61 1249.1V1271.38M377.41 1249.1h6.4M377.41 1271.38h6.4M385.39 1187.12V1249.1M382.19 1187.12h6.4M382.19 1249.1h6.4M390.18 1219.08V1248.14M386.98 1219.08h6.4M386.98 1248.14h6.4M394.97 1239.95V1261.74M391.77 1239.95h6.4M391.77 1261.74h6.4M399.76 1259.27V1281.55M396.56 1259.27h6.4M396.56 1281.55h6.4M404.55 1234.48V1259.85M401.35 1234.48h6.4M401.35 1259.85h6.4M409.34 1239.76V1263.29M406.14 1239.76h6.4M406.14 1263.29h6.4M414.13 1249.98V1272.45M410.93 1249.98h6.4M410.93 1272.45h6.4M418.92 1160.34V1221.07M415.72 1160.34h6.4M415.72 1221.07h6.4M423.71 1177.43V1250.07M420.51 1177.43h6.4M420.51 1250.07h6.4M428.5 1187.51V1253.95M425.3 1187.51h6.4M425.3 1253.95h6.4M433.28 1190.02V1205.52M430.08 1190.02h6.4M430.08 1205.52h6.4M438.07 1228.57V1247.94M434.87 1228.57h6.4M434.87 1247.94h6.4M442.86 1263.68V1276.56M439.66 1263.68h6.4M439.66 1276.56h6.4M447.65 1167.55V1239.23M444.45 1167.55h6.4M444.45 1239.23h6.4M452.44 1176.03V1220.87M449.24 1176.03h6.4M449.24 1220.87h6.4M457.23 1215.98V1240.19M454.03 1215.98h6.4M454.03 1240.19h6.4M462.02 1251.19V1269.88M458.82 1251.19h6.4M458.82 1269.88h6.4M466.81 1224.79V1249.2M463.61 1224.79h6.4M463.61 1249.2h6.4M471.6 1246.2V1254.92M468.4 1246.2h6.4M468.4 1254.92h6.4M476.39 1198.84V1231.57M473.19 1198.84h6.4M473.19 1231.57h6.4M481.17 1180.48V1257.68M477.97 1180.48h6.4M477.97 1257.68h6.4M485.96 1199.18V1281.21M482.76 1199.18h6.4M482.76 1281.21h6.4M490.75 1155.54V1237.68M487.55 1155.54h6.4M487.55 1237.68h6.4M495.54 1231.19V1263.15M492.34 1231.19h6.4M492.34 1263.15h6.4M500.33 1177.97V1258.84M497.13 1177.97h6.4M497.13 1258.84h6.4M505.12 1185.42V1233.37M501.92 1185.42h6.4M501.92 1233.37h6.4M509.91 1191.82V1247.7M506.71 1191.82h6.4M506.71 1247.7h6.4M514.7 1217.24V1253.85M511.5 1217.24h6.4M511.5 1253.85h6.4M519.49 1247.51V1264.65M516.29 1247.51h6.4M516.29 1264.65h6.4M524.28 1147.31V1266.63M521.08 1147.31h6.4M521.08 1266.63h6.4M529.07 1245.23V1252.98M525.87 1245.23h6.4M525.87 1252.98h6.4M533.85 1229.25V1262.18M530.65 1229.25h6.4M530.65 1262.18h6.4M538.64 1239.56V1255.74M535.44 1239.56h6.4M535.44 1255.74h6.4M543.43 1181.21V1250.75M540.23 1181.21h6.4M540.23 1250.75h6.4M548.22 1167.22V1242.47M545.02 1167.22h6.4M545.02 1242.47h6.4M553.01 1172.98V1213.46M549.81 1172.98h6.4M549.81 1213.46h6.4M557.8 1209.35V1235.98M554.6 1209.35h6.4M554.6 1235.98h6.4M562.59 1171.72V1189.35M559.39 1171.72h6.4M559.39 1189.35h6.4M567.38 1129.3V1162.46M564.18 1129.3h6.4M564.18 1162.46h6.4M572.17 1121.83V1180.19M568.97 1121.83h6.4M568.97 1180.19h6.4M576.95 1098.57V1121.56M573.75 1098.57h6.4M573.75 1121.56h6.4M581.74 1109.67V1132.22M578.54 1109.67h6.4M578.54 1132.22h6.4" fill="none" stroke="#000" stroke-width="1.7"/>
<polyline points="122,1173.58 126.79,1177.94 131.58,1179.88 136.37,1188.6 141.16,1176 145.94,1191.99 150.73,1189.56 155.52,1192.95 160.31,1188.6 165.1,1206.51 169.89,1193.92 174.68,1201.19 179.47,1185.69 184.26,1199.25 189.05,1195.86 193.83,1200.22 198.62,1188.4 203.41,1153.92 208.2,1179.69 212.99,1197.8 217.78,1216.68 222.57,1185.88 227.36,1201.86 232.15,1197.8 236.94,1196.83 241.72,1195.38 246.51,1208.45 251.3,1213.78 256.09,1237.48 260.88,1214.72 265.67,1204.07 270.46,1223.63 275.25,1220.53 280.04,1208.14 284.83,1213.27 289.62,1231.38 294.4,1247.65 299.19,1230.51 303.98,1226.83 308.77,1212.98 313.56,1226.15 318.35,1234.29 323.14,1239.42 327.93,1255.88 332.72,1243.78 337.5,1245.23 342.29,1216.85 347.08,1247.17 351.87,1261.69 356.66,1261.21 361.45,1242.32 366.24,1244.26 371.03,1231.48 375.82,1270.9 380.61,1260.24 385.39,1218.11 390.18,1233.61 394.97,1250.85 399.76,1270.41 404.55,1247.17 409.34,1251.53 414.13,1261.21 418.92,1190.7 423.71,1213.75 428.5,1220.73 433.28,1197.77 438.07,1238.26 442.86,1270.12 447.65,1203.39 452.44,1198.45 457.23,1228.09 462.02,1260.53 466.81,1237 471.6,1250.56 476.39,1215.21 481.17,1219.08 485.96,1240.19 490.75,1196.61 495.54,1247.17 500.33,1218.4 505.12,1209.39 509.91,1219.76 514.7,1235.54 519.49,1256.08 524.28,1206.97 529.07,1249.1 533.85,1245.71 538.64,1247.65 543.43,1215.98 548.22,1204.84 553.01,1193.22 557.8,1222.66 562.59,1180.53 567.38,1145.88 572.17,1151.01 576.95,1110.07 581.74,1120.94" fill="none" stroke="#000" stroke-width="1.7" stroke-linejoin="round"/>
<g fill="#000"><circle cx="122" cy="1173.58" r="3.2"/><circle cx="126.79" cy="1177.94" r="3.2"/><circle cx="131.58" cy="1179.88" r="3.2"/><circle cx="136.37" cy="1188.6" r="3.2"/><circle cx="141.16" cy="1176" r="3.2"/><circle cx="145.94" cy="1191.99" r="3.2"/><circle cx="150.73" cy="1189.56" r="3.2"/><circle cx="155.52" cy="1192.95" r="3.2"/><circle cx="160.31" cy="1188.6" r="3.2"/><circle cx="165.1" cy="1206.51" r="3.2"/><circle cx="169.89" cy="1193.92" r="3.2"/><circle cx="174.68" cy="1201.19" r="3.2"/><circle cx="179.47" cy="1185.69" r="3.2"/><circle cx="184.26" cy="1199.25" r="3.2"/><circle cx="189.05" cy="1195.86" r="3.2"/><circle cx="193.83" cy="1200.22" r="3.2"/><circle cx="198.62" cy="1188.4" r="3.2"/><circle cx="203.41" cy="1153.92" r="3.2"/><circle cx="208.2" cy="1179.69" r="3.2"/><circle cx="212.99" cy="1197.8" r="3.2"/><circle cx="217.78" cy="1216.68" r="3.2"/><circle cx="222.57" cy="1185.88" r="3.2"/><circle cx="227.36" cy="1201.86" r="3.2"/><circle cx="232.15" cy="1197.8" r="3.2"/><circle cx="236.94" cy="1196.83" r="3.2"/><circle cx="241.72" cy="1195.38" r="3.2"/><circle cx="246.51" cy="1208.45" r="3.2"/><circle cx="251.3" cy="1213.78" r="3.2"/><circle cx="256.09" cy="1237.48" r="3.2"/><circle cx="260.88" cy="1214.72" r="3.2"/><circle cx="265.67" cy="1204.07" r="3.2"/><circle cx="270.46" cy="1223.63" r="3.2"/><circle cx="275.25" cy="1220.53" r="3.2"/><circle cx="280.04" cy="1208.14" r="3.2"/><circle cx="284.83" cy="1213.27" r="3.2"/><circle cx="289.62" cy="1231.38" r="3.2"/><circle cx="294.4" cy="1247.65" r="3.2"/><circle cx="299.19" cy="1230.51" r="3.2"/><circle cx="303.98" cy="1226.83" r="3.2"/><circle cx="308.77" cy="1212.98" r="3.2"/><circle cx="313.56" cy="1226.15" r="3.2"/><circle cx="318.35" cy="1234.29" r="3.2"/><circle cx="323.14" cy="1239.42" r="3.2"/><circle cx="327.93" cy="1255.88" r="3.2"/><circle cx="332.72" cy="1243.78" r="3.2"/><circle cx="337.5" cy="1245.23" r="3.2"/><circle cx="342.29" cy="1216.85" r="3.2"/><circle cx="347.08" cy="1247.17" r="3.2"/><circle cx="351.87" cy="1261.69" r="3.2"/><circle cx="356.66" cy="1261.21" r="3.2"/><circle cx="361.45" cy="1242.32" r="3.2"/><circle cx="366.24" cy="1244.26" r="3.2"/><circle cx="371.03" cy="1231.48" r="3.2"/><circle cx="375.82" cy="1270.9" r="3.2"/><circle cx="380.61" cy="1260.24" r="3.2"/><circle cx="385.39" cy="1218.11" r="3.2"/><circle cx="390.18" cy="1233.61" r="3.2"/><circle cx="394.97" cy="1250.85" r="3.2"/><circle cx="399.76" cy="1270.41" r="3.2"/><circle cx="404.55" cy="1247.17" r="3.2"/><circle cx="409.34" cy="1251.53" r="3.2"/><circle cx="414.13" cy="1261.21" r="3.2"/><circle cx="418.92" cy="1190.7" r="3.2"/><circle cx="423.71" cy="1213.75" r="3.2"/><circle cx="428.5" cy="1220.73" r="3.2"/><circle cx="433.28" cy="1197.77" r="3.2"/><circle cx="438.07" cy="1238.26" r="3.2"/><circle cx="442.86" cy="1270.12" r="3.2"/><circle cx="447.65" cy="1203.39" r="3.2"/><circle cx="452.44" cy="1198.45" r="3.2"/><circle cx="457.23" cy="1228.09" r="3.2"/><circle cx="462.02" cy="1260.53" r="3.2"/><circle cx="466.81" cy="1237" r="3.2"/><circle cx="471.6" cy="1250.56" r="3.2"/><circle cx="476.39" cy="1215.21" r="3.2"/><circle cx="481.17" cy="1219.08" r="3.2"/><circle cx="485.96" cy="1240.19" r="3.2"/><circle cx="490.75" cy="1196.61" r="3.2"/><circle cx="495.54" cy="1247.17" r="3.2"/><circle cx="500.33" cy="1218.4" r="3.2"/><circle cx="505.12" cy="1209.39" r="3.2"/><circle cx="509.91" cy="1219.76" r="3.2"/><circle cx="514.7" cy="1235.54" r="3.2"/><circle cx="519.49" cy="1256.08" r="3.2"/><circle cx="524.28" cy="1206.97" r="3.2"/><circle cx="529.07" cy="1249.1" r="3.2"/><circle cx="533.85" cy="1245.71" r="3.2"/><circle cx="538.64" cy="1247.65" r="3.2"/><circle cx="543.43" cy="1215.98" r="3.2"/><circle cx="548.22" cy="1204.84" r="3.2"/><circle cx="553.01" cy="1193.22" r="3.2"/><circle cx="557.8" cy="1222.66" r="3.2"/><circle cx="562.59" cy="1180.53" r="3.2"/><circle cx="567.38" cy="1145.88" r="3.2"/><circle cx="572.17" cy="1151.01" r="3.2"/><circle cx="576.95" cy="1110.07" r="3.2"/><circle cx="581.74" cy="1120.94" r="3.2"/></g>
<line x1="122" y1="1086.05" x2="122" y2="1395.95" stroke="#000" stroke-width="2.9"/>
<line x1="113.5" y1="1394.5" x2="122" y2="1394.5" stroke="#000" stroke-width="2.9"/>
<text x="110.5" y="1402.91" font-size="23.5" class="b" text-anchor="end">0.3</text>
<line x1="113.5" y1="1333.1" x2="122" y2="1333.1" stroke="#000" stroke-width="2.9"/>
<text x="110.5" y="1341.51" font-size="23.5" class="b" text-anchor="end">0.4</text>
<line x1="113.5" y1="1271.7" x2="122" y2="1271.7" stroke="#000" stroke-width="2.9"/>
<text x="110.5" y="1280.11" font-size="23.5" class="b" text-anchor="end">0.5</text>
<line x1="113.5" y1="1210.3" x2="122" y2="1210.3" stroke="#000" stroke-width="2.9"/>
<text x="110.5" y="1218.71" font-size="23.5" class="b" text-anchor="end">0.6</text>
<line x1="113.5" y1="1148.9" x2="122" y2="1148.9" stroke="#000" stroke-width="2.9"/>
<text x="110.5" y="1157.31" font-size="23.5" class="b" text-anchor="end">0.7</text>
<line x1="113.5" y1="1087.5" x2="122" y2="1087.5" stroke="#000" stroke-width="2.9"/>
<text x="110.5" y="1095.91" font-size="23.5" class="b" text-anchor="end">0.8</text>
<line x1="113.5" y1="1394.5" x2="583.2" y2="1394.5" stroke="#000" stroke-width="2.9"/>
<line x1="122" y1="1394.5" x2="122" y2="1403.5" stroke="#000" stroke-width="2.9"/>
<text x="122" y="1429.8" font-size="23.5" class="b" text-anchor="middle">0</text>
<line x1="198.62" y1="1394.5" x2="198.62" y2="1403.5" stroke="#000" stroke-width="2.9"/>
<text x="198.62" y="1429.8" font-size="23.5" class="b" text-anchor="middle">4</text>
<line x1="275.25" y1="1394.5" x2="275.25" y2="1403.5" stroke="#000" stroke-width="2.9"/>
<text x="275.25" y="1429.8" font-size="23.5" class="b" text-anchor="middle">8</text>
<line x1="351.87" y1="1394.5" x2="351.87" y2="1403.5" stroke="#000" stroke-width="2.9"/>
<text x="351.87" y="1429.8" font-size="23.5" class="b" text-anchor="middle">12</text>
<line x1="428.5" y1="1394.5" x2="428.5" y2="1403.5" stroke="#000" stroke-width="2.9"/>
<text x="428.5" y="1429.8" font-size="23.5" class="b" text-anchor="middle">16</text>
<line x1="505.12" y1="1394.5" x2="505.12" y2="1403.5" stroke="#000" stroke-width="2.9"/>
<text x="505.12" y="1429.8" font-size="23.5" class="b" text-anchor="middle">20</text>
<line x1="581.74" y1="1394.5" x2="581.74" y2="1403.5" stroke="#000" stroke-width="2.9"/>
<text x="581.74" y="1429.8" font-size="23.5" class="b" text-anchor="middle">24</text>
<text x="352" y="1467.5" font-size="29.6" class="b" text-anchor="middle">Time (hr)</text>
<line x1="138" y1="1325.4" x2="170.8" y2="1325.4" stroke="#000" stroke-width="1.7"/>
<circle cx="154.4" cy="1325.4" r="3.2"/>
<text x="190.3" y="1334" font-size="25.5">CTL</text>
<line x1="138" y1="1366.7" x2="170.8" y2="1366.7" stroke="#FF0000" stroke-width="1.7"/>
<circle cx="154.4" cy="1366.7" r="3.2" fill="#FF0000"/>
<text x="190.3" y="1375.3" font-size="25.5">iKO</text>
<text x="845" y="1015.8" font-size="27.8" class="b" text-anchor="middle">Heat</text>
<text x="844.7" y="1047.5" font-size="28.2" class="b" text-anchor="middle">(after 7d cold)</text>
<text transform="translate(637.5 1233.8) rotate(-90)" font-size="28" class="b" text-anchor="middle">Heat (kCal/hr)</text>
<path d="M723.05 1380.6V1161.85H763.95V1380.6" fill="#fff" stroke="#000" stroke-width="4.1"/>
<path d="M790.25 1380.6V1193.15H831.15V1380.6" fill="#fff" stroke="#FF0000" stroke-width="4.1"/>
<path d="M857.55 1380.6V1186.75H898.45V1380.6" fill="#fff" stroke="#000" stroke-width="4.1"/>
<path d="M924.95 1380.6V1210.05H965.85V1380.6" fill="#fff" stroke="#FF0000" stroke-width="4.1"/>
<line x1="743.5" y1="1151.3" x2="743.5" y2="1168.3" stroke="#000" stroke-width="2.4"/>
<line x1="732.25" y1="1151.3" x2="754.75" y2="1151.3" stroke="#000" stroke-width="2.4"/>
<line x1="732.25" y1="1168.3" x2="754.75" y2="1168.3" stroke="#000" stroke-width="2.4"/>
<line x1="810.7" y1="1187" x2="810.7" y2="1193.6" stroke="#000" stroke-width="2.4"/>
<line x1="799.45" y1="1187" x2="821.95" y2="1187" stroke="#000" stroke-width="2.4"/>
<line x1="799.45" y1="1193.6" x2="821.95" y2="1193.6" stroke="#000" stroke-width="2.4"/>
<line x1="878" y1="1178.5" x2="878" y2="1190.7" stroke="#000" stroke-width="2.4"/>
<line x1="866.75" y1="1178.5" x2="889.25" y2="1178.5" stroke="#000" stroke-width="2.4"/>
<line x1="866.75" y1="1190.7" x2="889.25" y2="1190.7" stroke="#000" stroke-width="2.4"/>
<line x1="945.4" y1="1203.9" x2="945.4" y2="1210.5" stroke="#000" stroke-width="2.4"/>
<line x1="934.15" y1="1203.9" x2="956.65" y2="1203.9" stroke="#000" stroke-width="2.4"/>
<line x1="934.15" y1="1210.5" x2="956.65" y2="1210.5" stroke="#000" stroke-width="2.4"/>
<circle cx="737.3" cy="1130.3" r="3.2"/>
<circle cx="749.7" cy="1129.5" r="3.2"/>
<circle cx="743.5" cy="1136.3" r="3.2"/>
<circle cx="731.3" cy="1171.4" r="3.2"/>
<circle cx="755.7" cy="1171.4" r="3.2"/>
<circle cx="743.5" cy="1181.7" r="3.2"/>
<circle cx="743.5" cy="1187.9" r="3.2"/>
<circle cx="804.5" cy="1178.5" r="3.2"/>
<circle cx="817" cy="1174.8" r="3.2"/>
<circle cx="817" cy="1182.8" r="3.2"/>
<circle cx="804.5" cy="1189" r="3.2"/>
<circle cx="804.5" cy="1197.3" r="3.2"/>
<circle cx="817" cy="1194.8" r="3.2"/>
<circle cx="804.5" cy="1205.7" r="3.2"/>
<circle cx="817" cy="1203.5" r="3.2"/>
<circle cx="878" cy="1160.3" r="3.2"/>
<circle cx="872" cy="1166.7" r="3.2"/>
<circle cx="884.2" cy="1168.6" r="3.2"/>
<circle cx="872" cy="1192.6" r="3.2"/>
<circle cx="884.2" cy="1192.6" r="3.2"/>
<circle cx="872" cy="1196.7" r="3.2"/>
<circle cx="872" cy="1204.4" r="3.2"/>
<circle cx="884.2" cy="1204.2" r="3.2"/>
<circle cx="933.4" cy="1193.2" r="3.2"/>
<circle cx="945.4" cy="1193.9" r="3.2"/>
<circle cx="957.4" cy="1200.1" r="3.2"/>
<circle cx="933.4" cy="1213.6" r="3.2"/>
<circle cx="945.4" cy="1211.4" r="3.2"/>
<circle cx="957.4" cy="1215.1" r="3.2"/>
<circle cx="945.4" cy="1218.3" r="3.2"/>
<circle cx="945.4" cy="1223.9" r="3.2"/>
<line x1="699" y1="1086.4" x2="699" y2="1382" stroke="#000" stroke-width="2.8"/>
<line x1="690.5" y1="1380.6" x2="699" y2="1380.6" stroke="#000" stroke-width="2.8"/>
<text x="687.5" y="1388.91" font-size="23.2" class="b" text-anchor="end">0.0</text>
<line x1="690.5" y1="1307.4" x2="699" y2="1307.4" stroke="#000" stroke-width="2.8"/>
<text x="687.5" y="1315.71" font-size="23.2" class="b" text-anchor="end">0.2</text>
<line x1="690.5" y1="1234.2" x2="699" y2="1234.2" stroke="#000" stroke-width="2.8"/>
<text x="687.5" y="1242.51" font-size="23.2" class="b" text-anchor="end">0.4</text>
<line x1="690.5" y1="1161" x2="699" y2="1161" stroke="#000" stroke-width="2.8"/>
<text x="687.5" y="1169.31" font-size="23.2" class="b" text-anchor="end">0.6</text>
<line x1="690.5" y1="1087.8" x2="699" y2="1087.8" stroke="#000" stroke-width="2.8"/>
<text x="687.5" y="1096.11" font-size="23.2" class="b" text-anchor="end">0.8</text>
<line x1="690.5" y1="1380.6" x2="992.3" y2="1380.6" stroke="#000" stroke-width="2.8"/>
<line x1="743.5" y1="1380.6" x2="743.5" y2="1389.6" stroke="#000" stroke-width="2.8"/>
<text x="743.5" y="1420" font-size="27.3" class="b" text-anchor="middle">CTL</text>
<line x1="810.7" y1="1380.6" x2="810.7" y2="1389.6" stroke="#000" stroke-width="2.8"/>
<text x="810.7" y="1420" font-size="27.3" class="b" text-anchor="middle">iKO</text>
<line x1="878" y1="1380.6" x2="878" y2="1389.6" stroke="#000" stroke-width="2.8"/>
<text x="878" y="1420" font-size="27.3" class="b" text-anchor="middle">CTL</text>
<line x1="945.4" y1="1380.6" x2="945.4" y2="1389.6" stroke="#000" stroke-width="2.8"/>
<text x="945.4" y="1420" font-size="27.3" class="b" text-anchor="middle">iKO</text>
<line x1="718.7" y1="1435.8" x2="828.8" y2="1435.8" stroke="#000" stroke-width="4"/>
<line x1="863.1" y1="1435.8" x2="956.4" y2="1435.8" stroke="#000" stroke-width="4"/>
<text x="773.9" y="1469.6" font-size="27.7" class="b" text-anchor="middle">Dark</text>
<text x="909.8" y="1469.6" font-size="27.7" class="b" text-anchor="middle">Light</text>
<text x="777" y="1099.3" font-size="19.7" text-anchor="middle">P = 0.0046</text>
<line x1="743.5" y1="1112.7" x2="810.7" y2="1112.7" stroke="#000" stroke-width="1.7"/>
<text x="911.9" y="1124.7" font-size="19.7" text-anchor="middle">P = 0.0472</text>
<line x1="878.2" y1="1137.6" x2="945.6" y2="1137.6" stroke="#000" stroke-width="1.7"/>
<!-- panel g -->
<text x="1023" y="1047.5" font-size="66.5" class="b">g</text>
<text x="1263.7" y="1045.7" font-size="25.3" class="b" text-anchor="middle">ANCOVA anaylsis</text>
<text x="1263.7" y="1075.8" font-size="25.4" class="b" text-anchor="middle">(after 7d cold)</text>
<text transform="translate(1064.5 1251) rotate(-90)" font-size="26.6" class="b" text-anchor="middle">Heat (kCal/hr)</text>
<line x1="1123.35" y1="1287.11" x2="1397.35" y2="1273.74" stroke="#000" stroke-width="1.6"/>
<line x1="1122.52" y1="1333.33" x2="1397.35" y2="1320.52" stroke="#FF0000" stroke-width="1.6"/>
<circle cx="1315.48" cy="1229.19" r="5.6"/>
<circle cx="1346.67" cy="1230.3" r="5.6"/>
<circle cx="1260.91" cy="1292.4" r="5.6"/>
<circle cx="1278.45" cy="1291.56" r="5.6"/>
<circle cx="1258.4" cy="1308.27" r="5.6"/>
<circle cx="1283.74" cy="1317.18" r="5.6"/>
<circle cx="1398.46" cy="1290.73" r="5.6"/>
<circle cx="1135.05" cy="1297.97" r="5.6" fill="#FF0000"/>
<circle cx="1223.87" cy="1310.78" r="5.6" fill="#FF0000"/>
<circle cx="1246.71" cy="1303.81" r="5.6" fill="#FF0000"/>
<circle cx="1235.57" cy="1328.32" r="5.6" fill="#FF0000"/>
<circle cx="1232.51" cy="1344.47" r="5.6" fill="#FF0000"/>
<circle cx="1309.92" cy="1331.94" r="5.6" fill="#FF0000"/>
<circle cx="1384.26" cy="1340.57" r="5.6" fill="#FF0000"/>
<circle cx="1404.31" cy="1318.01" r="5.6" fill="#FF0000"/>
<line x1="1121.7" y1="1110.3" x2="1121.7" y2="1401.35" stroke="#000" stroke-width="2.7"/>
<line x1="1111.2" y1="1389" x2="1121.7" y2="1389" stroke="#000" stroke-width="2.7"/>
<text x="1108.2" y="1396.34" font-size="20.5" class="b" text-anchor="end">0.4</text>
<line x1="1111.2" y1="1333.53" x2="1121.7" y2="1333.53" stroke="#000" stroke-width="2.7"/>
<text x="1108.2" y="1340.87" font-size="20.5" class="b" text-anchor="end">0.5</text>
<line x1="1111.2" y1="1278.06" x2="1121.7" y2="1278.06" stroke="#000" stroke-width="2.7"/>
<text x="1108.2" y="1285.4" font-size="20.5" class="b" text-anchor="end">0.6</text>
<line x1="1111.2" y1="1222.59" x2="1121.7" y2="1222.59" stroke="#000" stroke-width="2.7"/>
<text x="1108.2" y="1229.93" font-size="20.5" class="b" text-anchor="end">0.7</text>
<line x1="1111.2" y1="1167.12" x2="1121.7" y2="1167.12" stroke="#000" stroke-width="2.7"/>
<text x="1108.2" y="1174.46" font-size="20.5" class="b" text-anchor="end">0.8</text>
<line x1="1111.2" y1="1111.65" x2="1121.7" y2="1111.65" stroke="#000" stroke-width="2.7"/>
<text x="1108.2" y="1118.99" font-size="20.5" class="b" text-anchor="end">0.9</text>
<line x1="1111.2" y1="1389" x2="1408.7" y2="1389" stroke="#000" stroke-width="2.7"/>
<line x1="1121.7" y1="1389" x2="1121.7" y2="1400" stroke="#000" stroke-width="2.7"/>
<text x="1121.7" y="1422.4" font-size="20.3" class="b" text-anchor="middle">20</text>
<line x1="1178.85" y1="1389" x2="1178.85" y2="1400" stroke="#000" stroke-width="2.7"/>
<text x="1178.85" y="1422.4" font-size="20.3" class="b" text-anchor="middle">22</text>
<line x1="1236" y1="1389" x2="1236" y2="1400" stroke="#000" stroke-width="2.7"/>
<text x="1236" y="1422.4" font-size="20.3" class="b" text-anchor="middle">24</text>
<line x1="1293.15" y1="1389" x2="1293.15" y2="1400" stroke="#000" stroke-width="2.7"/>
<text x="1293.15" y="1422.4" font-size="20.3" class="b" text-anchor="middle">26</text>
<line x1="1350.3" y1="1389" x2="1350.3" y2="1400" stroke="#000" stroke-width="2.7"/>
<text x="1350.3" y="1422.4" font-size="20.3" class="b" text-anchor="middle">28</text>
<line x1="1407.45" y1="1389" x2="1407.45" y2="1400" stroke="#000" stroke-width="2.7"/>
<text x="1407.45" y="1422.4" font-size="20.3" class="b" text-anchor="middle">30</text>
<text x="1263.7" y="1460" font-size="25.4" class="b" text-anchor="middle">Body mass (g)</text>
<circle cx="1139.2" cy="1116.1" r="5.6"/>
<text x="1169" y="1124.5" font-size="22">CTL</text>
<circle cx="1139.2" cy="1154.3" r="5.6" fill="#FF0000"/>
<text x="1169" y="1161.8" font-size="22">iKO</text>
<text x="1227" y="1136.7" font-size="18.2">Overall Mean p=0.01105</text>
<text x="1227" y="1157.9" font-size="18.2" style="white-space:pre">Group Mean  p=0.006409</text>
<!-- panel h -->
<text x="2.5" y="1548.2" font-size="66.5" class="b">h</text>
<text x="351.7" y="1548.2" font-size="29" class="b" text-anchor="middle">VO2</text>
<text x="351.7" y="1582" font-size="29" class="b" text-anchor="middle">(after 7d cold)</text>
<text transform="translate(57 1753.7) rotate(-90)" font-size="29" class="b" text-anchor="middle">VO2 (ml/hr)</text>
<rect x="127.6" y="1616.9" width="225.2" height="298.3" fill="#E8E8E8"/>
<path d="M127.6 1746V1793.46M124.4 1746h6.4M124.4 1793.46h6.4M132.27 1759.23V1797.09M129.07 1759.23h6.4M129.07 1797.09h6.4M136.94 1777.05V1804.46M133.74 1777.05h6.4M133.74 1804.46h6.4M141.61 1749.06V1785.57M138.41 1749.06h6.4M138.41 1785.57h6.4M146.28 1754.38V1797.68M143.08 1754.38h6.4M143.08 1797.68h6.4M150.95 1744.5V1788.57M147.75 1744.5h6.4M147.75 1788.57h6.4M155.63 1759.61V1799.03M152.43 1759.61h6.4M152.43 1799.03h6.4M160.3 1763.49V1791.86M157.1 1763.49h6.4M157.1 1791.86h6.4M164.97 1759.47V1785.81M161.77 1759.47h6.4M161.77 1785.81h6.4M169.64 1766.68V1800.29M166.44 1766.68h6.4M166.44 1800.29h6.4M174.31 1757.97V1799.32M171.11 1757.97h6.4M171.11 1799.32h6.4M178.98 1765.42V1791.86M175.78 1765.42h6.4M175.78 1791.86h6.4M183.65 1752.93V1787.31M180.45 1752.93h6.4M180.45 1787.31h6.4M188.32 1770.75V1806.88M185.12 1770.75h6.4M185.12 1806.88h6.4M192.99 1777.63V1807.36M189.79 1777.63h6.4M189.79 1807.36h6.4M197.66 1757.19V1792.74M194.47 1757.19h6.4M194.47 1792.74h6.4M202.34 1769.25V1811.28M199.14 1769.25h6.4M199.14 1811.28h6.4M207.01 1751.53V1784.46M203.81 1751.53h6.4M203.81 1784.46h6.4M211.68 1762.91V1789.54M208.48 1762.91h6.4M208.48 1789.54h6.4M216.35 1760.77V1794.19M213.15 1760.77h6.4M213.15 1794.19h6.4M221.02 1788.14V1820.1M217.82 1788.14h6.4M217.82 1820.1h6.4M225.69 1771.04V1811.43M222.49 1771.04h6.4M222.49 1811.43h6.4M230.36 1773.32V1809.15M227.16 1773.32h6.4M227.16 1809.15h6.4M235.03 1758.35V1799.52M231.83 1758.35h6.4M231.83 1799.52h6.4M239.7 1761.11V1796.76M236.5 1761.11h6.4M236.5 1796.76h6.4M244.38 1775.25V1801.4M241.18 1775.25h6.4M241.18 1801.4h6.4M249.05 1776.13V1799.56M245.85 1776.13h6.4M245.85 1799.56h6.4M253.72 1776.95V1799.71M250.52 1776.95h6.4M250.52 1799.71h6.4M258.39 1783.58V1808.96M255.19 1783.58h6.4M255.19 1808.96h6.4M263.06 1794.29V1819.47M259.86 1794.29h6.4M259.86 1819.47h6.4M267.73 1792.69V1829.78M264.53 1792.69h6.4M264.53 1829.78h6.4M272.4 1787.51V1820.44M269.2 1787.51h6.4M269.2 1820.44h6.4M277.07 1800.63V1832.11M273.87 1800.63h6.4M273.87 1832.11h6.4M281.74 1779.03V1824.07M278.54 1779.03h6.4M278.54 1824.07h6.4M286.41 1787.7V1823.15M283.21 1787.7h6.4M283.21 1823.15h6.4M291.09 1781.84V1820.29M287.89 1781.84h6.4M287.89 1820.29h6.4M295.76 1789.93V1826.73M292.56 1789.93h6.4M292.56 1826.73h6.4M300.43 1774.19V1811.48M297.23 1774.19h6.4M297.23 1811.48h6.4M305.1 1790.94V1822.42M301.9 1790.94h6.4M301.9 1822.42h6.4M309.77 1797.58V1827.8M306.57 1797.58h6.4M306.57 1827.8h6.4M314.44 1802.23V1822.18M311.24 1802.23h6.4M311.24 1822.18h6.4M319.11 1806.83V1831.53M315.91 1806.83h6.4M315.91 1831.53h6.4M323.78 1784.79V1815.4M320.58 1784.79h6.4M320.58 1815.4h6.4M328.45 1795.01V1818.74M325.25 1795.01h6.4M325.25 1818.74h6.4M333.12 1809.39V1828.57M329.92 1809.39h6.4M329.92 1828.57h6.4M337.8 1798.93V1827.99M334.6 1798.93h6.4M334.6 1827.99h6.4M342.47 1780.92V1823.15M339.27 1780.92h6.4M339.27 1823.15h6.4M347.14 1816.03V1846.73M343.94 1816.03h6.4M343.94 1846.73h6.4M351.81 1813.17V1848.04M348.61 1813.17h6.4M348.61 1848.04h6.4M356.48 1813.66V1837.87M353.28 1813.66h6.4M353.28 1837.87h6.4M361.15 1810.27V1841.26M357.95 1810.27h6.4M357.95 1841.26h6.4M365.82 1815.74V1846.44M362.62 1815.74h6.4M362.62 1846.44h6.4M370.49 1811.38V1841.11M367.29 1811.38h6.4M367.29 1841.11h6.4M375.16 1801.69V1837.24M371.96 1801.69h6.4M371.96 1837.24h6.4M379.83 1800.05V1835.4M376.63 1800.05h6.4M376.63 1835.4h6.4M384.5 1753.85V1803.73M381.31 1753.85h6.4M381.31 1803.73h6.4M389.18 1777.05V1819.66M385.98 1777.05h6.4M385.98 1819.66h6.4M393.85 1787.94V1823.29M390.65 1787.94h6.4M390.65 1823.29h6.4M398.52 1785.04V1824.26M395.32 1785.04h6.4M395.32 1824.26h6.4M403.19 1807.7V1838.01M399.99 1807.7h6.4M399.99 1838.01h6.4M407.86 1796.08V1831.62M404.66 1796.08h6.4M404.66 1831.62h6.4M412.53 1801.11V1832.59M409.33 1801.11h6.4M409.33 1832.59h6.4M417.2 1742.95V1798.16M414 1742.95h6.4M414 1798.16h6.4M421.87 1795.54V1812.01M418.67 1795.54h6.4M418.67 1812.01h6.4M426.54 1803.49V1817.05M423.34 1803.49h6.4M423.34 1817.05h6.4M431.22 1792.88V1834.04M428.02 1792.88h6.4M428.02 1834.04h6.4M435.89 1767.17V1811.72M432.69 1767.17h6.4M432.69 1811.72h6.4M440.56 1805.47V1829.2M437.36 1805.47h6.4M437.36 1829.2h6.4M445.23 1752.93V1801.36M442.03 1752.93h6.4M442.03 1801.36h6.4M449.9 1799.42V1811.82M446.7 1799.42h6.4M446.7 1811.82h6.4M454.57 1812.15V1843.63M451.37 1812.15h6.4M451.37 1843.63h6.4M459.24 1806.63V1841.99M456.04 1806.63h6.4M456.04 1841.99h6.4M463.91 1822.13V1829.39M460.71 1822.13h6.4M460.71 1829.39h6.4M468.58 1746.83V1758.45M465.38 1746.83h6.4M465.38 1758.45h6.4M473.25 1787.02V1803.49M470.05 1787.02h6.4M470.05 1803.49h6.4M477.93 1803.44V1825.42M474.73 1803.44h6.4M474.73 1825.42h6.4M482.6 1783.29V1813.03M479.4 1783.29h6.4M479.4 1813.03h6.4M487.27 1795.25V1817.53M484.07 1795.25h6.4M484.07 1817.53h6.4M491.94 1801.31V1814.38M488.74 1801.31h6.4M488.74 1814.38h6.4M496.61 1775.35V1797.14M493.41 1775.35h6.4M493.41 1797.14h6.4M501.28 1762.28V1806.54M498.08 1762.28h6.4M498.08 1806.54h6.4M505.95 1813.17V1821.89M502.75 1813.17h6.4M502.75 1821.89h6.4M510.62 1763.39V1819.37M507.42 1763.39h6.4M507.42 1819.37h6.4M515.29 1765.23V1790.41M512.09 1765.23h6.4M512.09 1790.41h6.4M519.96 1792.59V1804.7M516.76 1792.59h6.4M516.76 1804.7h6.4M524.63 1774.48V1833.08M521.43 1774.48h6.4M521.43 1833.08h6.4M529.31 1747.55V1792.59M526.11 1747.55h6.4M526.11 1792.59h6.4M533.98 1747.8V1780.73M530.78 1747.8h6.4M530.78 1780.73h6.4M538.65 1765.13V1785.67M535.45 1765.13h6.4M535.45 1785.67h6.4M543.32 1800.39V1812.98M540.12 1800.39h6.4M540.12 1812.98h6.4M547.99 1753.66V1802.57M544.79 1753.66h6.4M544.79 1802.57h6.4M552.66 1805.81V1812.78M549.46 1805.81h6.4M549.46 1812.78h6.4M557.33 1777.82V1803M554.13 1777.82h6.4M554.13 1803h6.4M562 1744.6V1781.04M558.8 1744.6h6.4M558.8 1781.04h6.4M566.67 1699.59V1720.81M563.47 1699.59h6.4M563.47 1720.81h6.4M571.35 1703.3V1741.86M568.14 1703.3h6.4M568.14 1741.86h6.4M576.02 1724.44V1764.59M572.82 1724.44h6.4M572.82 1764.59h6.4" fill="none" stroke="#FF0000" stroke-width="1.7"/>
<polyline points="127.6,1769.73 132.27,1778.16 136.94,1790.75 141.61,1767.31 146.28,1776.03 150.95,1766.54 155.63,1779.32 160.3,1777.68 164.97,1772.64 169.64,1783.49 174.31,1778.64 178.98,1778.64 183.65,1770.12 188.32,1788.81 192.99,1792.49 197.66,1774.96 202.34,1790.27 207.01,1767.99 211.68,1776.22 216.35,1777.48 221.02,1804.12 225.69,1791.23 230.36,1791.23 235.03,1778.93 239.7,1778.93 244.38,1788.33 249.05,1787.85 253.72,1788.33 258.39,1796.27 263.06,1806.88 267.73,1811.23 272.4,1803.97 277.07,1816.37 281.74,1801.55 286.41,1805.42 291.09,1801.07 295.76,1808.33 300.43,1792.83 305.1,1806.68 309.77,1812.69 314.44,1812.2 319.11,1819.18 323.78,1800.1 328.45,1806.88 333.12,1818.98 337.8,1813.46 342.47,1802.03 347.14,1831.38 351.81,1830.61 356.48,1825.76 361.15,1825.76 365.82,1831.09 370.49,1826.25 375.16,1819.47 379.83,1817.72 384.5,1778.79 389.18,1798.35 393.85,1805.62 398.52,1804.65 403.19,1822.86 407.86,1813.85 412.53,1816.85 417.2,1770.56 421.87,1803.78 426.54,1810.27 431.22,1813.46 435.89,1789.44 440.56,1817.34 445.23,1777.14 449.9,1805.62 454.57,1827.89 459.24,1824.31 463.91,1825.76 468.58,1752.64 473.25,1795.25 477.93,1814.43 482.6,1798.16 487.27,1806.39 491.94,1807.85 496.61,1786.25 501.28,1784.41 505.95,1817.53 510.62,1791.38 515.29,1777.82 519.96,1798.64 524.63,1803.78 529.31,1770.07 533.98,1764.26 538.65,1775.4 543.32,1806.68 547.99,1778.11 552.66,1809.3 557.33,1790.41 562,1762.82 566.67,1710.2 571.35,1722.58 576.02,1744.51" fill="none" stroke="#FF0000" stroke-width="1.7" stroke-linejoin="round"/>
<g fill="#FF0000"><circle cx="127.6" cy="1769.73" r="3.2"/><circle cx="132.27" cy="1778.16" r="3.2"/><circle cx="136.94" cy="1790.75" r="3.2"/><circle cx="141.61" cy="1767.31" r="3.2"/><circle cx="146.28" cy="1776.03" r="3.2"/><circle cx="150.95" cy="1766.54" r="3.2"/><circle cx="155.63" cy="1779.32" r="3.2"/><circle cx="160.3" cy="1777.68" r="3.2"/><circle cx="164.97" cy="1772.64" r="3.2"/><circle cx="169.64" cy="1783.49" r="3.2"/><circle cx="174.31" cy="1778.64" r="3.2"/><circle cx="178.98" cy="1778.64" r="3.2"/><circle cx="183.65" cy="1770.12" r="3.2"/><circle cx="188.32" cy="1788.81" r="3.2"/><circle cx="192.99" cy="1792.49" r="3.2"/><circle cx="197.66" cy="1774.96" r="3.2"/><circle cx="202.34" cy="1790.27" r="3.2"/><circle cx="207.01" cy="1767.99" r="3.2"/><circle cx="211.68" cy="1776.22" r="3.2"/><circle cx="216.35" cy="1777.48" r="3.2"/><circle cx="221.02" cy="1804.12" r="3.2"/><circle cx="225.69" cy="1791.23" r="3.2"/><circle cx="230.36" cy="1791.23" r="3.2"/><circle cx="235.03" cy="1778.93" r="3.2"/><circle cx="239.7" cy="1778.93" r="3.2"/><circle cx="244.38" cy="1788.33" r="3.2"/><circle cx="249.05" cy="1787.85" r="3.2"/><circle cx="253.72" cy="1788.33" r="3.2"/><circle cx="258.39" cy="1796.27" r="3.2"/><circle cx="263.06" cy="1806.88" r="3.2"/><circle cx="267.73" cy="1811.23" r="3.2"/><circle cx="272.4" cy="1803.97" r="3.2"/><circle cx="277.07" cy="1816.37" r="3.2"/><circle cx="281.74" cy="1801.55" r="3.2"/><circle cx="286.41" cy="1805.42" r="3.2"/><circle cx="291.09" cy="1801.07" r="3.2"/><circle cx="295.76" cy="1808.33" r="3.2"/><circle cx="300.43" cy="1792.83" r="3.2"/><circle cx="305.1" cy="1806.68" r="3.2"/><circle cx="309.77" cy="1812.69" r="3.2"/><circle cx="314.44" cy="1812.2" r="3.2"/><circle cx="319.11" cy="1819.18" r="3.2"/><circle cx="323.78" cy="1800.1" r="3.2"/><circle cx="328.45" cy="1806.88" r="3.2"/><circle cx="333.12" cy="1818.98" r="3.2"/><circle cx="337.8" cy="1813.46" r="3.2"/><circle cx="342.47" cy="1802.03" r="3.2"/><circle cx="347.14" cy="1831.38" r="3.2"/><circle cx="351.81" cy="1830.61" r="3.2"/><circle cx="356.48" cy="1825.76" r="3.2"/><circle cx="361.15" cy="1825.76" r="3.2"/><circle cx="365.82" cy="1831.09" r="3.2"/><circle cx="370.49" cy="1826.25" r="3.2"/><circle cx="375.16" cy="1819.47" r="3.2"/><circle cx="379.83" cy="1817.72" r="3.2"/><circle cx="384.5" cy="1778.79" r="3.2"/><circle cx="389.18" cy="1798.35" r="3.2"/><circle cx="393.85" cy="1805.62" r="3.2"/><circle cx="398.52" cy="1804.65" r="3.2"/><circle cx="403.19" cy="1822.86" r="3.2"/><circle cx="407.86" cy="1813.85" r="3.2"/><circle cx="412.53" cy="1816.85" r="3.2"/><circle cx="417.2" cy="1770.56" r="3.2"/><circle cx="421.87" cy="1803.78" r="3.2"/><circle cx="426.54" cy="1810.27" r="3.2"/><circle cx="431.22" cy="1813.46" r="3.2"/><circle cx="435.89" cy="1789.44" r="3.2"/><circle cx="440.56" cy="1817.34" r="3.2"/><circle cx="445.23" cy="1777.14" r="3.2"/><circle cx="449.9" cy="1805.62" r="3.2"/><circle cx="454.57" cy="1827.89" r="3.2"/><circle cx="459.24" cy="1824.31" r="3.2"/><circle cx="463.91" cy="1825.76" r="3.2"/><circle cx="468.58" cy="1752.64" r="3.2"/><circle cx="473.25" cy="1795.25" r="3.2"/><circle cx="477.93" cy="1814.43" r="3.2"/><circle cx="482.6" cy="1798.16" r="3.2"/><circle cx="487.27" cy="1806.39" r="3.2"/><circle cx="491.94" cy="1807.85" r="3.2"/><circle cx="496.61" cy="1786.25" r="3.2"/><circle cx="501.28" cy="1784.41" r="3.2"/><circle cx="505.95" cy="1817.53" r="3.2"/><circle cx="510.62" cy="1791.38" r="3.2"/><circle cx="515.29" cy="1777.82" r="3.2"/><circle cx="519.96" cy="1798.64" r="3.2"/><circle cx="524.63" cy="1803.78" r="3.2"/><circle cx="529.31" cy="1770.07" r="3.2"/><circle cx="533.98" cy="1764.26" r="3.2"/><circle cx="538.65" cy="1775.4" r="3.2"/><circle cx="543.32" cy="1806.68" r="3.2"/><circle cx="547.99" cy="1778.11" r="3.2"/><circle cx="552.66" cy="1809.3" r="3.2"/><circle cx="557.33" cy="1790.41" r="3.2"/><circle cx="562" cy="1762.82" r="3.2"/><circle cx="566.67" cy="1710.2" r="3.2"/><circle cx="571.35" cy="1722.58" r="3.2"/><circle cx="576.02" cy="1744.51" r="3.2"/></g>
<path d="M127.6 1696.13V1740.68M124.4 1696.13h6.4M124.4 1740.68h6.4M132.27 1699.32V1744.65M129.07 1699.32h6.4M129.07 1744.65h6.4M136.94 1705.67V1742.18M133.74 1705.67h6.4M133.74 1742.18h6.4M141.61 1712.93V1746.15M138.41 1712.93h6.4M138.41 1746.15h6.4M146.28 1701.84V1741.16M143.08 1701.84h6.4M143.08 1741.16h6.4M150.95 1711.43V1751.91M147.75 1711.43h6.4M147.75 1751.91h6.4M155.63 1711.33V1750.07M152.43 1711.33h6.4M152.43 1750.07h6.4M160.3 1711.43V1754.82M157.1 1711.43h6.4M157.1 1754.82h6.4M164.97 1718.98V1743.39M161.77 1718.98h6.4M161.77 1743.39h6.4M169.64 1730.75V1753.51M166.44 1730.75h6.4M166.44 1753.51h6.4M174.31 1721.94V1747.6M171.11 1721.94h6.4M171.11 1747.6h6.4M178.98 1724.94V1751.57M175.78 1724.94h6.4M175.78 1751.57h6.4M183.65 1718.79V1739.32M180.45 1718.79h6.4M180.45 1739.32h6.4M188.32 1725.67V1750.85M185.12 1725.67h6.4M185.12 1750.85h6.4M192.99 1725.86V1747.17M189.79 1725.86h6.4M189.79 1747.17h6.4M197.66 1725.96V1751.33M194.47 1725.96h6.4M194.47 1751.33h6.4M202.34 1717.97V1743.44M199.14 1717.97h6.4M199.14 1743.44h6.4M207.01 1693.7V1720.82M203.81 1693.7h6.4M203.81 1720.82h6.4M211.68 1709.15V1738.69M208.48 1709.15h6.4M208.48 1738.69h6.4M216.35 1716.13V1756.9M213.15 1716.13h6.4M213.15 1756.9h6.4M221.02 1736.51V1761.69M217.82 1736.51h6.4M217.82 1761.69h6.4M225.69 1715.3V1741.26M222.49 1715.3h6.4M222.49 1741.26h6.4M230.36 1730.65V1748.57M227.16 1730.65h6.4M227.16 1748.57h6.4M235.03 1724.12V1747.94M231.83 1724.12h6.4M231.83 1747.94h6.4M239.7 1716.9V1753.22M236.5 1716.9h6.4M236.5 1753.22h6.4M244.38 1717.68V1751.86M241.18 1717.68h6.4M241.18 1751.86h6.4M249.05 1737V1749.59M245.85 1737h6.4M245.85 1749.59h6.4M253.72 1740.39V1754.92M250.52 1740.39h6.4M250.52 1754.92h6.4M258.39 1755.35V1772.49M255.19 1755.35h6.4M255.19 1772.49h6.4M263.06 1734V1761.6M259.86 1734h6.4M259.86 1761.6h6.4M267.73 1733.9V1747.75M264.53 1733.9h6.4M264.53 1747.75h6.4M272.4 1743.1V1762.57M269.2 1743.1h6.4M269.2 1762.57h6.4M277.07 1737.72V1763.29M273.87 1737.72h6.4M273.87 1763.29h6.4M281.74 1732.25V1752.11M278.54 1732.25h6.4M278.54 1752.11h6.4M286.41 1735.84V1757.43M283.21 1735.84h6.4M283.21 1757.43h6.4M291.09 1747.31V1769.2M287.89 1747.31h6.4M287.89 1769.2h6.4M295.76 1759.42V1778.79M292.56 1759.42h6.4M292.56 1778.79h6.4M300.43 1748.86V1769.01M297.23 1748.86h6.4M297.23 1769.01h6.4M305.1 1744.26V1765.28M301.9 1744.26h6.4M301.9 1765.28h6.4M309.77 1728.77V1759.08M306.57 1728.77h6.4M306.57 1759.08h6.4M314.44 1739.18V1767.07M311.24 1739.18h6.4M311.24 1767.07h6.4M319.11 1741.26V1774.67M315.91 1741.26h6.4M315.91 1774.67h6.4M323.78 1745.86V1775.88M320.58 1745.86h6.4M320.58 1775.88h6.4M328.45 1760.58V1784.41M325.25 1760.58h6.4M325.25 1784.41h6.4M333.12 1755.11V1775.74M329.92 1755.11h6.4M329.92 1775.74h6.4M337.8 1760.58V1772.78M334.6 1760.58h6.4M334.6 1772.78h6.4M342.47 1732.49V1758.84M339.27 1732.49h6.4M339.27 1758.84h6.4M347.14 1755.93V1778.01M343.94 1755.93h6.4M343.94 1778.01h6.4M351.81 1767.17V1784.6M348.61 1767.17h6.4M348.61 1784.6h6.4M356.48 1766.2V1784.6M353.28 1766.2h6.4M353.28 1784.6h6.4M361.15 1757.53V1766.73M357.95 1757.53h6.4M357.95 1766.73h6.4M365.82 1752.01V1771.67M362.62 1752.01h6.4M362.62 1771.67h6.4M370.49 1734.43V1773.75M367.29 1734.43h6.4M367.29 1773.75h6.4M375.16 1774.96V1789.98M371.96 1774.96h6.4M371.96 1789.98h6.4M379.83 1764.79V1782.71M376.63 1764.79h6.4M376.63 1782.71h6.4M384.5 1722.13V1767.65M381.31 1722.13h6.4M381.31 1767.65h6.4M389.18 1744.84V1767.8M385.98 1744.84h6.4M385.98 1767.8h6.4M393.85 1758.93V1776.37M390.65 1758.93h6.4M390.65 1776.37h6.4M398.52 1770.94V1787.6M395.32 1770.94h6.4M395.32 1787.6h6.4M403.19 1751.77V1771.91M399.99 1751.77h6.4M399.99 1771.91h6.4M407.86 1758.79V1777.87M404.66 1758.79h6.4M404.66 1777.87h6.4M412.53 1763.97V1782.37M409.33 1763.97h6.4M409.33 1782.37h6.4M417.2 1698.6V1739.47M414 1698.6h6.4M414 1739.47h6.4M421.87 1712.3V1763.92M418.67 1712.3h6.4M418.67 1763.92h6.4M426.54 1716.9V1766.1M423.34 1716.9h6.4M423.34 1766.1h6.4M431.22 1719.27V1729.44M428.02 1719.27h6.4M428.02 1729.44h6.4M435.89 1745.18V1763.58M432.69 1745.18h6.4M432.69 1763.58h6.4M440.56 1772.45V1781.65M437.36 1772.45h6.4M437.36 1781.65h6.4M445.23 1708.14V1753.17M442.03 1708.14h6.4M442.03 1753.17h6.4M449.9 1708.62V1743.97M446.7 1708.62h6.4M446.7 1743.97h6.4M454.57 1742.95V1760.39M451.37 1742.95h6.4M451.37 1760.39h6.4M459.24 1766.63V1778.74M456.04 1766.63h6.4M456.04 1778.74h6.4M463.91 1749.73V1765.23M460.71 1749.73h6.4M460.71 1765.23h6.4M468.58 1763.29V1771.04M465.38 1763.29h6.4M465.38 1771.04h6.4M473.25 1727.51V1754.14M470.05 1727.51h6.4M470.05 1754.14h6.4M477.93 1719.08V1771.09M474.73 1719.08h6.4M474.73 1771.09h6.4M482.6 1732.3V1789.44M479.4 1732.3h6.4M479.4 1789.44h6.4M487.27 1699.81V1756.46M484.07 1699.81h6.4M484.07 1756.46h6.4M491.94 1748.86V1770.94M488.74 1748.86h6.4M488.74 1770.94h6.4M496.61 1712.83V1773.08M493.41 1712.83h6.4M493.41 1773.08h6.4M501.28 1719.32V1755.35M498.08 1719.32h6.4M498.08 1755.35h6.4M505.95 1722.28V1764.6M502.75 1722.28h6.4M502.75 1764.6h6.4M510.62 1741.94V1767.6M507.42 1741.94h6.4M507.42 1767.6h6.4M515.29 1764.75V1774.43M512.09 1764.75h6.4M512.09 1774.43h6.4M519.96 1695.35V1779.32M516.76 1695.35h6.4M516.76 1779.32h6.4M524.63 1763.78V1771.53M521.43 1763.78h6.4M521.43 1771.53h6.4M529.31 1754.38V1774.14M526.11 1754.38h6.4M526.11 1774.14h6.4M533.98 1760.48V1769.01M530.78 1760.48h6.4M530.78 1769.01h6.4M538.65 1717.43V1768.47M535.45 1717.43h6.4M535.45 1768.47h6.4M543.32 1707.89V1762.91M540.12 1707.89h6.4M540.12 1762.91h6.4M547.99 1711.43V1740M544.79 1711.43h6.4M544.79 1740h6.4M552.66 1736.27V1757.38M549.46 1736.27h6.4M549.46 1757.38h6.4M557.33 1712.93V1723.58M554.13 1712.93h6.4M554.13 1723.58h6.4M562 1679.03V1703.88M558.8 1679.03h6.4M558.8 1703.88h6.4M566.67 1676.24V1716.92M563.47 1676.24h6.4M563.47 1716.92h6.4M571.35 1655.51V1674.7M568.14 1655.51h6.4M568.14 1674.7h6.4M576.02 1667.53V1680.36M572.82 1667.53h6.4M572.82 1680.36h6.4" fill="none" stroke="#000" stroke-width="1.7"/>
<polyline points="127.6,1718.4 132.27,1721.99 136.94,1723.92 141.61,1729.54 146.28,1721.5 150.95,1731.67 155.63,1730.7 160.3,1733.12 164.97,1731.19 169.64,1742.13 174.31,1734.77 178.98,1738.26 183.65,1729.06 188.32,1738.26 192.99,1736.51 197.66,1738.64 202.34,1730.7 207.01,1707.26 211.68,1723.92 216.35,1736.51 221.02,1749.1 225.69,1728.28 230.36,1739.61 235.03,1736.03 239.7,1735.06 244.38,1734.77 249.05,1743.29 253.72,1747.65 258.39,1763.92 263.06,1747.8 267.73,1740.82 272.4,1752.83 277.07,1750.51 281.74,1742.18 286.41,1746.63 291.09,1758.26 295.76,1769.1 300.43,1758.93 305.1,1754.77 309.77,1743.92 314.44,1753.12 319.11,1757.97 323.78,1760.87 328.45,1772.49 333.12,1765.42 337.8,1766.68 342.47,1745.67 347.14,1766.97 351.81,1775.88 356.48,1775.4 361.15,1762.13 365.82,1761.84 370.49,1754.09 375.16,1782.47 379.83,1773.75 384.5,1744.89 389.18,1756.32 393.85,1767.65 398.52,1779.27 403.19,1761.84 407.86,1768.33 412.53,1773.17 417.2,1719.03 421.87,1738.11 426.54,1741.5 431.22,1724.36 435.89,1754.38 440.56,1777.05 445.23,1730.65 449.9,1726.3 454.57,1751.67 459.24,1772.69 463.91,1757.48 468.58,1767.17 473.25,1740.82 477.93,1745.08 482.6,1760.87 487.27,1728.14 491.94,1759.9 496.61,1742.95 501.28,1737.34 505.95,1743.44 510.62,1754.77 515.29,1769.59 519.96,1737.34 524.63,1767.65 529.31,1764.26 533.98,1764.75 538.65,1742.95 543.32,1735.4 547.99,1725.71 552.66,1746.83 557.33,1718.26 562,1691.45 566.67,1696.58 571.35,1665.1 576.02,1673.94" fill="none" stroke="#000" stroke-width="1.7" stroke-linejoin="round"/>
<g fill="#000"><circle cx="127.6" cy="1718.4" r="3.2"/><circle cx="132.27" cy="1721.99" r="3.2"/><circle cx="136.94" cy="1723.92" r="3.2"/><circle cx="141.61" cy="1729.54" r="3.2"/><circle cx="146.28" cy="1721.5" r="3.2"/><circle cx="150.95" cy="1731.67" r="3.2"/><circle cx="155.63" cy="1730.7" r="3.2"/><circle cx="160.3" cy="1733.12" r="3.2"/><circle cx="164.97" cy="1731.19" r="3.2"/><circle cx="169.64" cy="1742.13" r="3.2"/><circle cx="174.31" cy="1734.77" r="3.2"/><circle cx="178.98" cy="1738.26" r="3.2"/><circle cx="183.65" cy="1729.06" r="3.2"/><circle cx="188.32" cy="1738.26" r="3.2"/><circle cx="192.99" cy="1736.51" r="3.2"/><circle cx="197.66" cy="1738.64" r="3.2"/><circle cx="202.34" cy="1730.7" r="3.2"/><circle cx="207.01" cy="1707.26" r="3.2"/><circle cx="211.68" cy="1723.92" r="3.2"/><circle cx="216.35" cy="1736.51" r="3.2"/><circle cx="221.02" cy="1749.1" r="3.2"/><circle cx="225.69" cy="1728.28" r="3.2"/><circle cx="230.36" cy="1739.61" r="3.2"/><circle cx="235.03" cy="1736.03" r="3.2"/><circle cx="239.7" cy="1735.06" r="3.2"/><circle cx="244.38" cy="1734.77" r="3.2"/><circle cx="249.05" cy="1743.29" r="3.2"/><circle cx="253.72" cy="1747.65" r="3.2"/><circle cx="258.39" cy="1763.92" r="3.2"/><circle cx="263.06" cy="1747.8" r="3.2"/><circle cx="267.73" cy="1740.82" r="3.2"/><circle cx="272.4" cy="1752.83" r="3.2"/><circle cx="277.07" cy="1750.51" r="3.2"/><circle cx="281.74" cy="1742.18" r="3.2"/><circle cx="286.41" cy="1746.63" r="3.2"/><circle cx="291.09" cy="1758.26" r="3.2"/><circle cx="295.76" cy="1769.1" r="3.2"/><circle cx="300.43" cy="1758.93" r="3.2"/><circle cx="305.1" cy="1754.77" r="3.2"/><circle cx="309.77" cy="1743.92" r="3.2"/><circle cx="314.44" cy="1753.12" r="3.2"/><circle cx="319.11" cy="1757.97" r="3.2"/><circle cx="323.78" cy="1760.87" r="3.2"/><circle cx="328.45" cy="1772.49" r="3.2"/><circle cx="333.12" cy="1765.42" r="3.2"/><circle cx="337.8" cy="1766.68" r="3.2"/><circle cx="342.47" cy="1745.67" r="3.2"/><circle cx="347.14" cy="1766.97" r="3.2"/><circle cx="351.81" cy="1775.88" r="3.2"/><circle cx="356.48" cy="1775.4" r="3.2"/><circle cx="361.15" cy="1762.13" r="3.2"/><circle cx="365.82" cy="1761.84" r="3.2"/><circle cx="370.49" cy="1754.09" r="3.2"/><circle cx="375.16" cy="1782.47" r="3.2"/><circle cx="379.83" cy="1773.75" r="3.2"/><circle cx="384.5" cy="1744.89" r="3.2"/><circle cx="389.18" cy="1756.32" r="3.2"/><circle cx="393.85" cy="1767.65" r="3.2"/><circle cx="398.52" cy="1779.27" r="3.2"/><circle cx="403.19" cy="1761.84" r="3.2"/><circle cx="407.86" cy="1768.33" r="3.2"/><circle cx="412.53" cy="1773.17" r="3.2"/><circle cx="417.2" cy="1719.03" r="3.2"/><circle cx="421.87" cy="1738.11" r="3.2"/><circle cx="426.54" cy="1741.5" r="3.2"/><circle cx="431.22" cy="1724.36" r="3.2"/><circle cx="435.89" cy="1754.38" r="3.2"/><circle cx="440.56" cy="1777.05" r="3.2"/><circle cx="445.23" cy="1730.65" r="3.2"/><circle cx="449.9" cy="1726.3" r="3.2"/><circle cx="454.57" cy="1751.67" r="3.2"/><circle cx="459.24" cy="1772.69" r="3.2"/><circle cx="463.91" cy="1757.48" r="3.2"/><circle cx="468.58" cy="1767.17" r="3.2"/><circle cx="473.25" cy="1740.82" r="3.2"/><circle cx="477.93" cy="1745.08" r="3.2"/><circle cx="482.6" cy="1760.87" r="3.2"/><circle cx="487.27" cy="1728.14" r="3.2"/><circle cx="491.94" cy="1759.9" r="3.2"/><circle cx="496.61" cy="1742.95" r="3.2"/><circle cx="501.28" cy="1737.34" r="3.2"/><circle cx="505.95" cy="1743.44" r="3.2"/><circle cx="510.62" cy="1754.77" r="3.2"/><circle cx="515.29" cy="1769.59" r="3.2"/><circle cx="519.96" cy="1737.34" r="3.2"/><circle cx="524.63" cy="1767.65" r="3.2"/><circle cx="529.31" cy="1764.26" r="3.2"/><circle cx="533.98" cy="1764.75" r="3.2"/><circle cx="538.65" cy="1742.95" r="3.2"/><circle cx="543.32" cy="1735.4" r="3.2"/><circle cx="547.99" cy="1725.71" r="3.2"/><circle cx="552.66" cy="1746.83" r="3.2"/><circle cx="557.33" cy="1718.26" r="3.2"/><circle cx="562" cy="1691.45" r="3.2"/><circle cx="566.67" cy="1696.58" r="3.2"/><circle cx="571.35" cy="1665.1" r="3.2"/><circle cx="576.02" cy="1673.94" r="3.2"/></g>
<line x1="127.6" y1="1615.41" x2="127.6" y2="1916.65" stroke="#000" stroke-width="2.9"/>
<line x1="119.1" y1="1915.2" x2="127.6" y2="1915.2" stroke="#000" stroke-width="2.9"/>
<text x="116.1" y="1923.36" font-size="22.8" class="b" text-anchor="end">40</text>
<line x1="119.1" y1="1872.58" x2="127.6" y2="1872.58" stroke="#000" stroke-width="2.9"/>
<text x="116.1" y="1880.74" font-size="22.8" class="b" text-anchor="end">60</text>
<line x1="119.1" y1="1829.96" x2="127.6" y2="1829.96" stroke="#000" stroke-width="2.9"/>
<text x="116.1" y="1838.12" font-size="22.8" class="b" text-anchor="end">80</text>
<line x1="119.1" y1="1787.34" x2="127.6" y2="1787.34" stroke="#000" stroke-width="2.9"/>
<text x="116.1" y="1795.5" font-size="22.8" class="b" text-anchor="end">100</text>
<line x1="119.1" y1="1744.72" x2="127.6" y2="1744.72" stroke="#000" stroke-width="2.9"/>
<text x="116.1" y="1752.88" font-size="22.8" class="b" text-anchor="end">120</text>
<line x1="119.1" y1="1702.1" x2="127.6" y2="1702.1" stroke="#000" stroke-width="2.9"/>
<text x="116.1" y="1710.26" font-size="22.8" class="b" text-anchor="end">140</text>
<line x1="119.1" y1="1659.48" x2="127.6" y2="1659.48" stroke="#000" stroke-width="2.9"/>
<text x="116.1" y="1667.64" font-size="22.8" class="b" text-anchor="end">160</text>
<line x1="119.1" y1="1616.86" x2="127.6" y2="1616.86" stroke="#000" stroke-width="2.9"/>
<text x="116.1" y="1625.02" font-size="22.8" class="b" text-anchor="end">180</text>
<line x1="119.1" y1="1915.2" x2="577.5" y2="1915.2" stroke="#000" stroke-width="2.9"/>
<line x1="127.6" y1="1915.2" x2="127.6" y2="1924.2" stroke="#000" stroke-width="2.9"/>
<text x="127.6" y="1949.8" font-size="22.8" class="b" text-anchor="middle">0</text>
<line x1="202.34" y1="1915.2" x2="202.34" y2="1924.2" stroke="#000" stroke-width="2.9"/>
<text x="202.34" y="1949.8" font-size="22.8" class="b" text-anchor="middle">4</text>
<line x1="277.08" y1="1915.2" x2="277.08" y2="1924.2" stroke="#000" stroke-width="2.9"/>
<text x="277.08" y="1949.8" font-size="22.8" class="b" text-anchor="middle">8</text>
<line x1="351.82" y1="1915.2" x2="351.82" y2="1924.2" stroke="#000" stroke-width="2.9"/>
<text x="351.82" y="1949.8" font-size="22.8" class="b" text-anchor="middle">12</text>
<line x1="426.56" y1="1915.2" x2="426.56" y2="1924.2" stroke="#000" stroke-width="2.9"/>
<text x="426.56" y="1949.8" font-size="22.8" class="b" text-anchor="middle">16</text>
<line x1="501.3" y1="1915.2" x2="501.3" y2="1924.2" stroke="#000" stroke-width="2.9"/>
<text x="501.3" y="1949.8" font-size="22.8" class="b" text-anchor="middle">20</text>
<line x1="576.04" y1="1915.2" x2="576.04" y2="1924.2" stroke="#000" stroke-width="2.9"/>
<text x="576.04" y="1949.8" font-size="22.8" class="b" text-anchor="middle">24</text>
<text x="351.7" y="1987" font-size="28.6" class="b" text-anchor="middle">Time (hr)</text>
<line x1="141.1" y1="1852.9" x2="172.6" y2="1852.9" stroke="#000" stroke-width="1.7"/>
<circle cx="156.9" cy="1852.9" r="3.2"/>
<text x="191" y="1861.6" font-size="25">CTL</text>
<line x1="141.1" y1="1893.5" x2="172.6" y2="1893.5" stroke="#FF0000" stroke-width="1.7"/>
<circle cx="156.9" cy="1893.5" r="3.2" fill="#FF0000"/>
<text x="191" y="1901.7" font-size="25">iKO</text>
<text x="848.5" y="1543.9" font-size="27.2" class="b" text-anchor="middle">VO2</text>
<text x="848.5" y="1574.7" font-size="27.2" class="b" text-anchor="middle">(after 7d cold)</text>
<text transform="translate(642.3 1754.4) rotate(-90)" font-size="27.3" class="b" text-anchor="middle">VO2 (ml/kg/hr)</text>
<path d="M731.9 1895.3V1708.35H771.1V1895.3" fill="#fff" stroke="#000" stroke-width="4.1"/>
<path d="M796.6 1895.3V1734.95H835.8V1895.3" fill="#fff" stroke="#FF0000" stroke-width="4.1"/>
<path d="M861.3 1895.3V1726.15H900.5V1895.3" fill="#fff" stroke="#000" stroke-width="4.1"/>
<path d="M926.1 1895.3V1748.05H965.3V1895.3" fill="#fff" stroke="#FF0000" stroke-width="4.1"/>
<line x1="751.5" y1="1697.6" x2="751.5" y2="1714.2" stroke="#000" stroke-width="2.4"/>
<line x1="740.7" y1="1697.6" x2="762.3" y2="1697.6" stroke="#000" stroke-width="2.4"/>
<line x1="740.7" y1="1714.2" x2="762.3" y2="1714.2" stroke="#000" stroke-width="2.4"/>
<line x1="816.2" y1="1729.2" x2="816.2" y2="1736" stroke="#000" stroke-width="2.4"/>
<line x1="805.4" y1="1729.2" x2="827" y2="1729.2" stroke="#000" stroke-width="2.4"/>
<line x1="805.4" y1="1736" x2="827" y2="1736" stroke="#000" stroke-width="2.4"/>
<line x1="880.9" y1="1718.5" x2="880.9" y2="1730.1" stroke="#000" stroke-width="2.4"/>
<line x1="870.1" y1="1718.5" x2="891.7" y2="1718.5" stroke="#000" stroke-width="2.4"/>
<line x1="870.1" y1="1730.1" x2="891.7" y2="1730.1" stroke="#000" stroke-width="2.4"/>
<line x1="945.7" y1="1742.9" x2="945.7" y2="1748.9" stroke="#000" stroke-width="2.4"/>
<line x1="934.9" y1="1742.9" x2="956.5" y2="1742.9" stroke="#000" stroke-width="2.4"/>
<line x1="934.9" y1="1748.9" x2="956.5" y2="1748.9" stroke="#000" stroke-width="2.4"/>
<circle cx="740.1" cy="1676.6" r="3.2"/>
<circle cx="751.5" cy="1681.7" r="3.2"/>
<circle cx="762.8" cy="1677.6" r="3.2"/>
<circle cx="740.1" cy="1717" r="3.2"/>
<circle cx="762.8" cy="1718.8" r="3.2"/>
<circle cx="757.2" cy="1727.8" r="3.2"/>
<circle cx="745.9" cy="1732.9" r="3.2"/>
<circle cx="751.5" cy="1717" r="3.2"/>
<circle cx="804.8" cy="1724.1" r="3.2"/>
<circle cx="827.9" cy="1722.6" r="3.2"/>
<circle cx="816.1" cy="1727.3" r="3.2"/>
<circle cx="804.8" cy="1733.9" r="3.2"/>
<circle cx="827.9" cy="1736.7" r="3.2"/>
<circle cx="816.1" cy="1739.1" r="3.2"/>
<circle cx="816.1" cy="1747.4" r="3.2"/>
<circle cx="881" cy="1701" r="3.2"/>
<circle cx="875.2" cy="1707" r="3.2"/>
<circle cx="886.7" cy="1707" r="3.2"/>
<circle cx="875.2" cy="1734.2" r="3.2"/>
<circle cx="886.7" cy="1732.9" r="3.2"/>
<circle cx="875.2" cy="1744.2" r="3.2"/>
<circle cx="886.7" cy="1743.6" r="3.2"/>
<circle cx="881" cy="1729.5" r="3.2"/>
<circle cx="940.1" cy="1733.9" r="3.2"/>
<circle cx="951.4" cy="1736.1" r="3.2"/>
<circle cx="933.9" cy="1746.6" r="3.2"/>
<circle cx="945.6" cy="1746" r="3.2"/>
<circle cx="957" cy="1750.4" r="3.2"/>
<circle cx="945.6" cy="1752.1" r="3.2"/>
<circle cx="945.6" cy="1760.1" r="3.2"/>
<line x1="708.8" y1="1611.93" x2="708.8" y2="1896.7" stroke="#000" stroke-width="2.8"/>
<line x1="700.3" y1="1895.3" x2="708.8" y2="1895.3" stroke="#000" stroke-width="2.8"/>
<text x="697.3" y="1903.46" font-size="22.8" class="b" text-anchor="end">0</text>
<line x1="700.3" y1="1863.97" x2="708.8" y2="1863.97" stroke="#000" stroke-width="2.8"/>
<text x="697.3" y="1872.13" font-size="22.8" class="b" text-anchor="end">20</text>
<line x1="700.3" y1="1832.64" x2="708.8" y2="1832.64" stroke="#000" stroke-width="2.8"/>
<text x="697.3" y="1840.8" font-size="22.8" class="b" text-anchor="end">40</text>
<line x1="700.3" y1="1801.31" x2="708.8" y2="1801.31" stroke="#000" stroke-width="2.8"/>
<text x="697.3" y="1809.47" font-size="22.8" class="b" text-anchor="end">60</text>
<line x1="700.3" y1="1769.98" x2="708.8" y2="1769.98" stroke="#000" stroke-width="2.8"/>
<text x="697.3" y="1778.14" font-size="22.8" class="b" text-anchor="end">80</text>
<line x1="700.3" y1="1738.65" x2="708.8" y2="1738.65" stroke="#000" stroke-width="2.8"/>
<text x="697.3" y="1746.81" font-size="22.8" class="b" text-anchor="end">100</text>
<line x1="700.3" y1="1707.32" x2="708.8" y2="1707.32" stroke="#000" stroke-width="2.8"/>
<text x="697.3" y="1715.48" font-size="22.8" class="b" text-anchor="end">120</text>
<line x1="700.3" y1="1675.99" x2="708.8" y2="1675.99" stroke="#000" stroke-width="2.8"/>
<text x="697.3" y="1684.15" font-size="22.8" class="b" text-anchor="end">140</text>
<line x1="700.3" y1="1644.66" x2="708.8" y2="1644.66" stroke="#000" stroke-width="2.8"/>
<text x="697.3" y="1652.82" font-size="22.8" class="b" text-anchor="end">160</text>
<line x1="700.3" y1="1613.33" x2="708.8" y2="1613.33" stroke="#000" stroke-width="2.8"/>
<text x="697.3" y="1621.49" font-size="22.8" class="b" text-anchor="end">180</text>
<line x1="700.3" y1="1895.3" x2="991" y2="1895.3" stroke="#000" stroke-width="2.8"/>
<line x1="751.5" y1="1895.3" x2="751.5" y2="1904.3" stroke="#000" stroke-width="2.8"/>
<text x="751.5" y="1932.9" font-size="26.2" class="b" text-anchor="middle">CTL</text>
<line x1="816.2" y1="1895.3" x2="816.2" y2="1904.3" stroke="#000" stroke-width="2.8"/>
<text x="816.2" y="1932.9" font-size="26.2" class="b" text-anchor="middle">iKO</text>
<line x1="880.9" y1="1895.3" x2="880.9" y2="1904.3" stroke="#000" stroke-width="2.8"/>
<text x="880.9" y="1932.9" font-size="26.2" class="b" text-anchor="middle">CTL</text>
<line x1="945.7" y1="1895.3" x2="945.7" y2="1904.3" stroke="#000" stroke-width="2.8"/>
<text x="945.7" y="1932.9" font-size="26.2" class="b" text-anchor="middle">iKO</text>
<line x1="727.1" y1="1947.6" x2="832.9" y2="1947.6" stroke="#000" stroke-width="4"/>
<line x1="865.7" y1="1947.6" x2="954.7" y2="1947.6" stroke="#000" stroke-width="4"/>
<text x="780.3" y="1980.2" font-size="26.6" class="b" text-anchor="middle">Dark</text>
<text x="910.2" y="1980.2" font-size="26.6" class="b" text-anchor="middle">Light</text>
<text x="784.1" y="1644.7" font-size="19.4" text-anchor="middle">P = 0.0173</text>
<line x1="751.5" y1="1657.3" x2="816.3" y2="1657.3" stroke="#000" stroke-width="1.7"/>
<text x="913.1" y="1661.6" font-size="19.4" text-anchor="middle">P = 0.0681</text>
<line x1="881" y1="1674.2" x2="945.8" y2="1674.2" stroke="#000" stroke-width="1.7"/>
<!-- panel i -->
<text x="1021.7" y="1547.6" font-size="66.5" class="b">i</text>
<text x="1269.1" y="1563" font-size="25.3" class="b" text-anchor="middle">ANCOVA anaylsis</text>
<text x="1269.4" y="1593" font-size="25.4" class="b" text-anchor="middle">(after 7d cold)</text>
<text transform="translate(1064.6 1767.8) rotate(-90)" font-size="26.6" class="b" text-anchor="middle">VO2 (ml/hr)</text>
<line x1="1136.44" y1="1789.33" x2="1413.78" y2="1730.3" stroke="#000" stroke-width="1.6"/>
<line x1="1135.05" y1="1816.07" x2="1411.55" y2="1757.87" stroke="#FF0000" stroke-width="1.6"/>
<circle cx="1140.34" cy="1853.1" r="5.6" fill="#FF0000"/>
<circle cx="1229.16" cy="1770.68" r="5.6" fill="#FF0000"/>
<circle cx="1251.72" cy="1767.62" r="5.6" fill="#FF0000"/>
<circle cx="1240.58" cy="1782.09" r="5.6" fill="#FF0000"/>
<circle cx="1237.24" cy="1789.89" r="5.6" fill="#FF0000"/>
<circle cx="1320.78" cy="1720.84" r="5.6"/>
<circle cx="1352.24" cy="1721.67" r="5.6"/>
<circle cx="1265.92" cy="1762.05" r="5.6"/>
<circle cx="1283.46" cy="1760.1" r="5.6"/>
<circle cx="1263.41" cy="1771.24" r="5.6"/>
<circle cx="1289.59" cy="1775.97" r="5.6"/>
<circle cx="1389.27" cy="1779.87" r="5.6"/>
<circle cx="1403.48" cy="1760.1" r="5.6"/>
<circle cx="1315.21" cy="1777.64" r="5.6" fill="#FF0000"/>
<circle cx="1409.32" cy="1766.22" r="5.6" fill="#FF0000"/>
<line x1="1126.7" y1="1627.05" x2="1126.7" y2="1915.9" stroke="#000" stroke-width="2.7"/>
<line x1="1116.2" y1="1859.5" x2="1126.7" y2="1859.5" stroke="#000" stroke-width="2.7"/>
<text x="1113.2" y="1866.84" font-size="20.5" class="b" text-anchor="end">50</text>
<line x1="1116.2" y1="1782.4" x2="1126.7" y2="1782.4" stroke="#000" stroke-width="2.7"/>
<text x="1113.2" y="1789.74" font-size="20.5" class="b" text-anchor="end">100</text>
<line x1="1116.2" y1="1705.2" x2="1126.7" y2="1705.2" stroke="#000" stroke-width="2.7"/>
<text x="1113.2" y="1712.54" font-size="20.5" class="b" text-anchor="end">150</text>
<line x1="1116.2" y1="1628.4" x2="1126.7" y2="1628.4" stroke="#000" stroke-width="2.7"/>
<text x="1113.2" y="1635.74" font-size="20.5" class="b" text-anchor="end">200</text>
<line x1="1125.35" y1="1904.9" x2="1413.8" y2="1904.9" stroke="#000" stroke-width="2.7"/>
<line x1="1126.7" y1="1904.9" x2="1126.7" y2="1915.9" stroke="#000" stroke-width="2.7"/>
<text x="1126.7" y="1939.7" font-size="20.3" class="b" text-anchor="middle">20</text>
<line x1="1183.84" y1="1904.9" x2="1183.84" y2="1915.9" stroke="#000" stroke-width="2.7"/>
<text x="1183.84" y="1939.7" font-size="20.3" class="b" text-anchor="middle">22</text>
<line x1="1240.98" y1="1904.9" x2="1240.98" y2="1915.9" stroke="#000" stroke-width="2.7"/>
<text x="1240.98" y="1939.7" font-size="20.3" class="b" text-anchor="middle">24</text>
<line x1="1298.12" y1="1904.9" x2="1298.12" y2="1915.9" stroke="#000" stroke-width="2.7"/>
<text x="1298.12" y="1939.7" font-size="20.3" class="b" text-anchor="middle">26</text>
<line x1="1355.26" y1="1904.9" x2="1355.26" y2="1915.9" stroke="#000" stroke-width="2.7"/>
<text x="1355.26" y="1939.7" font-size="20.3" class="b" text-anchor="middle">28</text>
<line x1="1412.4" y1="1904.9" x2="1412.4" y2="1915.9" stroke="#000" stroke-width="2.7"/>
<text x="1412.4" y="1939.7" font-size="20.3" class="b" text-anchor="middle">30</text>
<text x="1269.7" y="1977.2" font-size="25.4" class="b" text-anchor="middle">Body mass (g)</text>
<circle cx="1144.2" cy="1633.4" r="5.6"/>
<text x="1174.6" y="1641.2" font-size="22">CTL</text>
<circle cx="1144.2" cy="1671" r="5.6" fill="#FF0000"/>
<text x="1174.6" y="1678.8" font-size="22">iKO</text>
<text x="1232" y="1651.5" font-size="18.2">Overall Mean p=0.03428</text>
<text x="1232" y="1672.9" font-size="18.2" style="white-space:pre">Group Mean  p=0.004394</text>
<!-- panel j -->
<text x="2" y="2052.5" font-size="66.5" class="b">j</text>
<text x="270.2" y="2065.2" font-size="26.5" class="b" text-anchor="middle">Cold tolerance</text>
<text x="270.2" y="2096" font-size="26.6" class="b" text-anchor="middle">(after 7d cold)</text>
<text transform="translate(53 2271.3) rotate(-90)" font-size="26.4" class="b" text-anchor="middle">Temp. (<tspan dy="-9.7" font-size="21.5">o</tspan><tspan dy="9.7">C)</tspan></text>
<line x1="96" y1="2132.95" x2="96" y2="2410.4" stroke="#000" stroke-width="2.9"/>
<line x1="87.5" y1="2134.4" x2="96" y2="2134.4" stroke="#000" stroke-width="2.9"/>
<text x="84.5" y="2142.56" font-size="22.8" class="b" text-anchor="end">38</text>
<line x1="87.5" y1="2226.6" x2="96" y2="2226.6" stroke="#000" stroke-width="2.9"/>
<text x="84.5" y="2234.76" font-size="22.8" class="b" text-anchor="end">37</text>
<line x1="87.5" y1="2318.5" x2="96" y2="2318.5" stroke="#000" stroke-width="2.9"/>
<text x="84.5" y="2326.66" font-size="22.8" class="b" text-anchor="end">36</text>
<line x1="94.55" y1="2410.4" x2="446" y2="2410.4" stroke="#000" stroke-width="2.9"/>
<line x1="96" y1="2410.4" x2="96" y2="2419.4" stroke="#000" stroke-width="2.9"/>
<text x="96" y="2443.8" font-size="22.8" class="b" text-anchor="middle">0</text>
<line x1="154.08" y1="2410.4" x2="154.08" y2="2419.4" stroke="#000" stroke-width="2.9"/>
<text x="154.08" y="2443.8" font-size="22.8" class="b" text-anchor="middle">4</text>
<line x1="212.16" y1="2410.4" x2="212.16" y2="2419.4" stroke="#000" stroke-width="2.9"/>
<text x="212.16" y="2443.8" font-size="22.8" class="b" text-anchor="middle">8</text>
<line x1="270.24" y1="2410.4" x2="270.24" y2="2419.4" stroke="#000" stroke-width="2.9"/>
<text x="270.24" y="2443.8" font-size="22.8" class="b" text-anchor="middle">12</text>
<line x1="328.32" y1="2410.4" x2="328.32" y2="2419.4" stroke="#000" stroke-width="2.9"/>
<text x="328.32" y="2443.8" font-size="22.8" class="b" text-anchor="middle">16</text>
<line x1="386.4" y1="2410.4" x2="386.4" y2="2419.4" stroke="#000" stroke-width="2.9"/>
<text x="386.4" y="2443.8" font-size="22.8" class="b" text-anchor="middle">20</text>
<line x1="444.48" y1="2410.4" x2="444.48" y2="2419.4" stroke="#000" stroke-width="2.9"/>
<text x="444.48" y="2443.8" font-size="22.8" class="b" text-anchor="middle">24</text>
<text x="270.4" y="2480.8" font-size="26.3" class="b" text-anchor="middle">Time (hr)</text>
<line x1="96" y1="2209.1" x2="96" y2="2226.5" stroke="#FF0000" stroke-width="4.1"/>
<line x1="89.7" y1="2209.1" x2="102.3" y2="2209.1" stroke="#FF0000" stroke-width="4.1"/>
<line x1="89.7" y1="2226.5" x2="102.3" y2="2226.5" stroke="#FF0000" stroke-width="4.1"/>
<line x1="110.52" y1="2304.4" x2="110.52" y2="2339.6" stroke="#FF0000" stroke-width="4.1"/>
<line x1="104.22" y1="2304.4" x2="116.82" y2="2304.4" stroke="#FF0000" stroke-width="4.1"/>
<line x1="104.22" y1="2339.6" x2="116.82" y2="2339.6" stroke="#FF0000" stroke-width="4.1"/>
<line x1="139.56" y1="2250.1" x2="139.56" y2="2315.3" stroke="#FF0000" stroke-width="4.1"/>
<line x1="133.26" y1="2250.1" x2="145.86" y2="2250.1" stroke="#FF0000" stroke-width="4.1"/>
<line x1="133.26" y1="2315.3" x2="145.86" y2="2315.3" stroke="#FF0000" stroke-width="4.1"/>
<line x1="183.12" y1="2262.5" x2="183.12" y2="2313.5" stroke="#FF0000" stroke-width="4.1"/>
<line x1="176.82" y1="2262.5" x2="189.42" y2="2262.5" stroke="#FF0000" stroke-width="4.1"/>
<line x1="176.82" y1="2313.5" x2="189.42" y2="2313.5" stroke="#FF0000" stroke-width="4.1"/>
<line x1="270.24" y1="2288.5" x2="270.24" y2="2320.9" stroke="#FF0000" stroke-width="4.1"/>
<line x1="263.94" y1="2288.5" x2="276.54" y2="2288.5" stroke="#FF0000" stroke-width="4.1"/>
<line x1="263.94" y1="2320.9" x2="276.54" y2="2320.9" stroke="#FF0000" stroke-width="4.1"/>
<line x1="444.48" y1="2274.4" x2="444.48" y2="2316.2" stroke="#FF0000" stroke-width="4.1"/>
<line x1="438.18" y1="2274.4" x2="450.78" y2="2274.4" stroke="#FF0000" stroke-width="4.1"/>
<line x1="438.18" y1="2316.2" x2="450.78" y2="2316.2" stroke="#FF0000" stroke-width="4.1"/>
<polyline points="96,2217.8 110.52,2322 139.56,2282.7 183.12,2288 270.24,2304.7 444.48,2295.3" fill="none" stroke="#FF0000" stroke-width="3.4" stroke-linejoin="round"/>
<rect x="90.1" y="2211.9" width="11.8" height="11.8" fill="#FF0000"/>
<rect x="104.62" y="2316.1" width="11.8" height="11.8" fill="#FF0000"/>
<rect x="133.66" y="2276.8" width="11.8" height="11.8" fill="#FF0000"/>
<rect x="177.22" y="2282.1" width="11.8" height="11.8" fill="#FF0000"/>
<rect x="264.34" y="2298.8" width="11.8" height="11.8" fill="#FF0000"/>
<rect x="438.58" y="2289.4" width="11.8" height="11.8" fill="#FF0000"/>
<line x1="110.52" y1="2255" x2="110.52" y2="2281.4" stroke="#000" stroke-width="4.1"/>
<line x1="104.22" y1="2255" x2="116.82" y2="2255" stroke="#000" stroke-width="4.1"/>
<line x1="104.22" y1="2281.4" x2="116.82" y2="2281.4" stroke="#000" stroke-width="4.1"/>
<line x1="139.56" y1="2248.9" x2="139.56" y2="2269.3" stroke="#000" stroke-width="4.1"/>
<line x1="133.26" y1="2248.9" x2="145.86" y2="2248.9" stroke="#000" stroke-width="4.1"/>
<line x1="133.26" y1="2269.3" x2="145.86" y2="2269.3" stroke="#000" stroke-width="4.1"/>
<line x1="183.12" y1="2228.6" x2="183.12" y2="2251.2" stroke="#000" stroke-width="4.1"/>
<line x1="176.82" y1="2228.6" x2="189.42" y2="2228.6" stroke="#000" stroke-width="4.1"/>
<line x1="176.82" y1="2251.2" x2="189.42" y2="2251.2" stroke="#000" stroke-width="4.1"/>
<line x1="270.24" y1="2237.8" x2="270.24" y2="2262" stroke="#000" stroke-width="4.1"/>
<line x1="263.94" y1="2237.8" x2="276.54" y2="2237.8" stroke="#000" stroke-width="4.1"/>
<line x1="263.94" y1="2262" x2="276.54" y2="2262" stroke="#000" stroke-width="4.1"/>
<line x1="444.48" y1="2203.1" x2="444.48" y2="2221.9" stroke="#000" stroke-width="4.1"/>
<line x1="438.18" y1="2203.1" x2="450.78" y2="2203.1" stroke="#000" stroke-width="4.1"/>
<line x1="438.18" y1="2221.9" x2="450.78" y2="2221.9" stroke="#000" stroke-width="4.1"/>
<polyline points="96,2199.3 110.52,2268.2 139.56,2259.1 183.12,2239.9 270.24,2249.9 444.48,2212.5" fill="none" stroke="#000" stroke-width="3.4" stroke-linejoin="round"/>
<circle cx="96" cy="2199.3" r="5.8"/>
<circle cx="110.52" cy="2268.2" r="5.8"/>
<circle cx="139.56" cy="2259.1" r="5.8"/>
<circle cx="183.12" cy="2239.9" r="5.8"/>
<circle cx="270.24" cy="2249.9" r="5.8"/>
<circle cx="444.48" cy="2212.5" r="5.8"/>
<line x1="299" y1="2352.5" x2="329" y2="2352.5" stroke="#000" stroke-width="3.4"/>
<circle cx="314" cy="2352.5" r="5.8"/>
<text x="345.3" y="2360.5" font-size="23.3">CTL (n=6)</text>
<line x1="299" y1="2390.3" x2="329" y2="2390.3" stroke="#FF0000" stroke-width="3.4"/>
<rect x="308.1" y="2384.4" width="11.8" height="11.8" fill="#FF0000"/>
<text x="345.3" y="2398" font-size="23.3">iKO (n=6)</text>
<text x="450.6" y="2194.2" font-size="18.5" text-anchor="middle">0.0050</text>
<text x="276.2" y="2222.9" font-size="18.5" text-anchor="middle">0.0311</text>
<text x="133.3" y="2367.3" font-size="18.5" text-anchor="middle">0.0451</text>
</svg>
</body></html>
